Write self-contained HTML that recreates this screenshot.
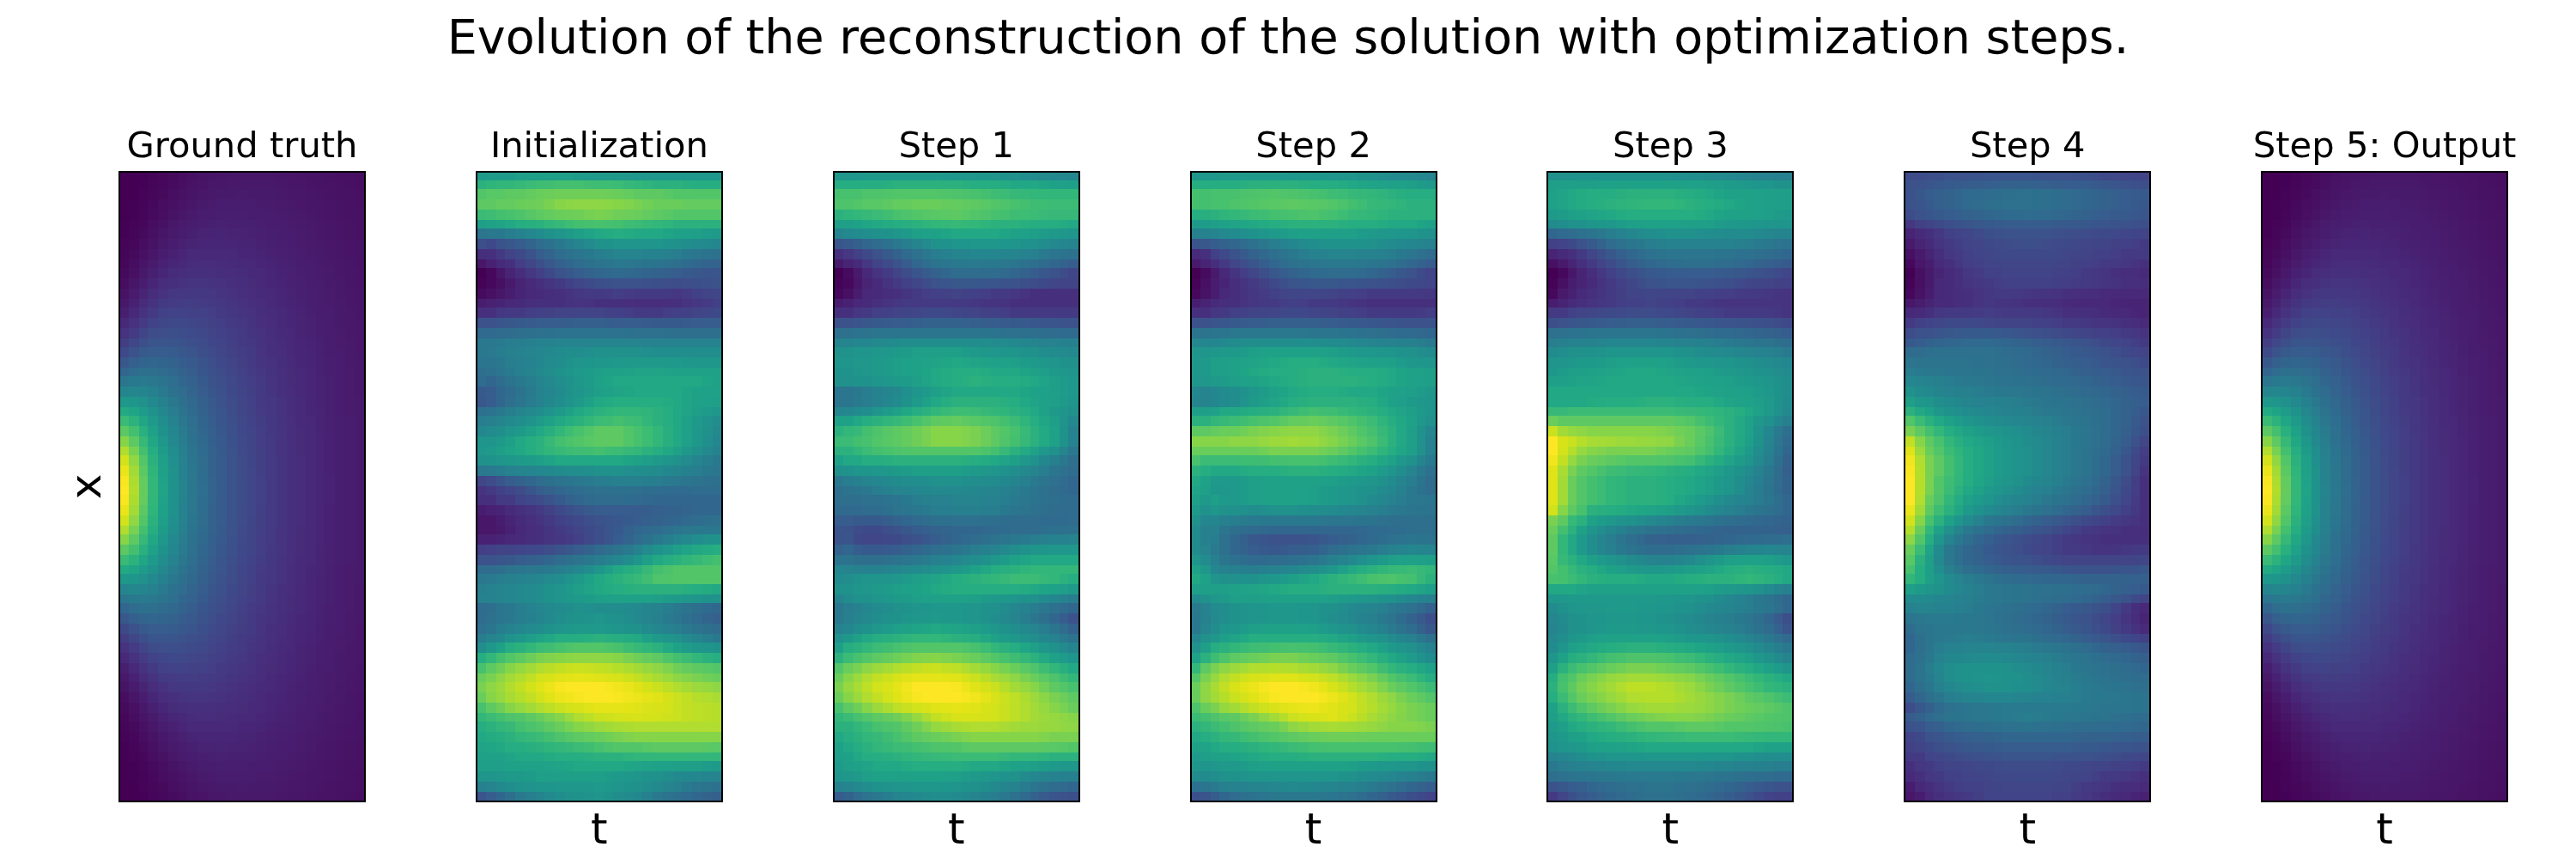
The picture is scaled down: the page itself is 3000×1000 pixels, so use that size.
<!DOCTYPE html>
<html><head><meta charset="utf-8"><title>Evolution of the reconstruction</title>
<style>
html,body{margin:0;padding:0;background:#fff}
body{width:3000px;height:1000px;position:relative;overflow:hidden}
.p{position:absolute}
.p i{position:absolute;left:0;right:0;display:block}
.b{position:absolute;border:2px solid #000;box-sizing:border-box}
svg{position:absolute;left:0;top:0;will-change:transform}
text{font-family:"DejaVu Sans","Liberation Sans",sans-serif;fill:#000}
</style></head><body>

<div class="p" style="left:138px;top:199px;width:288px;height:734px">
<i style="top:0px;height:11px;background:linear-gradient(90deg,#440154 0 24px,#440256 0 34px,#450457 0 46px,#46075a 0 58px,#460a5d 0 70px,#470d60 0 80px,#471063 0 92px,#471365 0 104px,#481467 0 114px,#481668 0 126px,#481769 0 184px,#481668 0 206px,#481467 0 218px,#471365 0 240px,#471164 0 252px,#471063 0 276px,#470e61 0 288px)"></i>
<i style="top:11px;height:10px;background:linear-gradient(90deg,#440154 0 24px,#440256 0 34px,#450559 0 46px,#46085c 0 58px,#460b5e 0 70px,#470e61 0 80px,#471365 0 92px,#481467 0 104px,#481769 0 126px,#48186a 0 184px,#481769 0 196px,#481668 0 218px,#481467 0 230px,#471365 0 252px,#471164 0 264px,#471063 0 276px,#470e61 0 288px)"></i>
<i style="top:21px;height:12px;background:linear-gradient(90deg,#440154 0 24px,#450457 0 34px,#46075a 0 46px,#460a5d 0 58px,#470e61 0 70px,#471164 0 80px,#481467 0 92px,#481769 0 104px,#48186a 0 114px,#481a6c 0 138px,#481b6d 0 150px,#481a6c 0 184px,#48186a 0 196px,#481769 0 218px,#481668 0 230px,#481467 0 240px,#471365 0 252px,#471164 0 276px,#471063 0 288px)"></i>
<i style="top:33px;height:12px;background:linear-gradient(90deg,#440154 0 12px,#440256 0 24px,#450457 0 34px,#46085c 0 46px,#470d60 0 58px,#471063 0 70px,#481467 0 80px,#481769 0 92px,#481a6c 0 104px,#481b6d 0 114px,#481c6e 0 160px,#481b6d 0 184px,#481a6c 0 196px,#48186a 0 206px,#481769 0 218px,#481668 0 240px,#481467 0 252px,#471365 0 264px,#471164 0 276px,#471063 0 288px)"></i>
<i style="top:45px;height:12px;background:linear-gradient(90deg,#440154 0 12px,#440256 0 24px,#450559 0 34px,#460a5d 0 46px,#470e61 0 58px,#471365 0 70px,#481769 0 80px,#481a6c 0 92px,#481c6e 0 104px,#481d6f 0 114px,#481f70 0 150px,#481d6f 0 172px,#481c6e 0 184px,#481b6d 0 196px,#481a6c 0 206px,#48186a 0 218px,#481769 0 230px,#481668 0 240px,#481467 0 252px,#471365 0 264px,#471164 0 288px)"></i>
<i style="top:57px;height:10px;background:linear-gradient(90deg,#440256 0 12px,#450457 0 24px,#46075a 0 34px,#470d60 0 46px,#471164 0 58px,#481769 0 70px,#481b6d 0 80px,#481d6f 0 92px,#481f70 0 104px,#482071 0 114px,#482173 0 126px,#482071 0 160px,#481f70 0 172px,#481d6f 0 184px,#481c6e 0 196px,#481b6d 0 206px,#481a6c 0 218px,#48186a 0 230px,#481769 0 240px,#481668 0 252px,#481467 0 264px,#471365 0 276px,#471164 0 288px)"></i>
<i style="top:67px;height:12px;background:linear-gradient(90deg,#440256 0 12px,#450559 0 24px,#460a5d 0 34px,#471063 0 46px,#481668 0 58px,#481a6c 0 70px,#481d6f 0 80px,#482071 0 92px,#482374 0 114px,#482475 0 126px,#482374 0 150px,#482173 0 160px,#482071 0 172px,#481f70 0 184px,#481d6f 0 196px,#481c6e 0 206px,#481b6d 0 218px,#481a6c 0 230px,#481769 0 240px,#481668 0 252px,#481467 0 264px,#471365 0 276px,#471164 0 288px)"></i>
<i style="top:79px;height:12px;background:linear-gradient(90deg,#450457 0 12px,#46075a 0 24px,#470d60 0 34px,#471365 0 46px,#48186a 0 58px,#481d6f 0 70px,#482173 0 80px,#482475 0 92px,#482576 0 104px,#482677 0 126px,#482576 0 138px,#482475 0 160px,#482173 0 172px,#482071 0 184px,#481f70 0 196px,#481d6f 0 206px,#481b6d 0 218px,#481a6c 0 230px,#48186a 0 240px,#481769 0 252px,#481668 0 264px,#481467 0 276px,#471365 0 288px)"></i>
<i style="top:91px;height:12px;background:linear-gradient(90deg,#450559 0 12px,#460a5d 0 24px,#471063 0 34px,#481769 0 46px,#481d6f 0 58px,#482173 0 70px,#482576 0 80px,#482878 0 92px,#482979 0 126px,#482878 0 138px,#482677 0 150px,#482576 0 160px,#482475 0 172px,#482173 0 184px,#482071 0 196px,#481f70 0 206px,#481c6e 0 218px,#481b6d 0 230px,#481a6c 0 240px,#481769 0 252px,#481668 0 264px,#481467 0 276px,#471365 0 288px)"></i>
<i style="top:103px;height:10px;background:linear-gradient(90deg,#46075a 0 12px,#470d60 0 24px,#481467 0 34px,#481b6d 0 46px,#482173 0 58px,#482677 0 70px,#482979 0 80px,#472c7a 0 92px,#472d7b 0 114px,#472c7a 0 126px,#472a7a 0 138px,#482979 0 150px,#482878 0 160px,#482576 0 172px,#482475 0 184px,#482173 0 196px,#482071 0 206px,#481d6f 0 218px,#481c6e 0 230px,#481a6c 0 240px,#48186a 0 252px,#481769 0 264px,#481668 0 276px,#471365 0 288px)"></i>
<i style="top:113px;height:12px;background:linear-gradient(90deg,#460a5d 0 12px,#471063 0 24px,#48186a 0 34px,#482071 0 46px,#482677 0 58px,#472c7a 0 70px,#472e7c 0 80px,#472f7d 0 92px,#46307e 0 104px,#472f7d 0 114px,#472e7c 0 126px,#472d7b 0 138px,#472c7a 0 150px,#482979 0 160px,#482878 0 172px,#482576 0 184px,#482374 0 196px,#482173 0 206px,#481f70 0 218px,#481c6e 0 230px,#481b6d 0 240px,#481a6c 0 252px,#481769 0 264px,#481668 0 276px,#481467 0 288px)"></i>
<i style="top:125px;height:12px;background:linear-gradient(90deg,#470d60 0 12px,#481668 0 24px,#481d6f 0 34px,#482677 0 46px,#472d7b 0 58px,#46307e 0 70px,#46337f 0 80px,#463480 0 104px,#46337f 0 114px,#46327e 0 126px,#472f7d 0 138px,#472e7c 0 150px,#472c7a 0 160px,#482979 0 172px,#482677 0 184px,#482475 0 196px,#482173 0 206px,#482071 0 218px,#481d6f 0 230px,#481c6e 0 240px,#481a6c 0 252px,#48186a 0 264px,#481668 0 276px,#481467 0 288px)"></i>
<i style="top:137px;height:12px;background:linear-gradient(90deg,#471365 0 12px,#481b6d 0 24px,#482475 0 34px,#472d7b 0 46px,#46327e 0 58px,#453781 0 70px,#453882 0 104px,#453781 0 114px,#463480 0 126px,#46327e 0 138px,#472f7d 0 150px,#472d7b 0 160px,#472a7a 0 172px,#482878 0 184px,#482576 0 196px,#482374 0 206px,#482071 0 218px,#481f70 0 230px,#481c6e 0 240px,#481b6d 0 252px,#48186a 0 264px,#481769 0 276px,#481668 0 288px)"></i>
<i style="top:149px;height:10px;background:linear-gradient(90deg,#48186a 0 12px,#482173 0 24px,#472c7a 0 34px,#46337f 0 46px,#443983 0 58px,#443b84 0 70px,#433d84 0 92px,#443b84 0 104px,#443a83 0 114px,#453882 0 126px,#453581 0 138px,#46327e 0 150px,#472f7d 0 160px,#472d7b 0 172px,#482979 0 184px,#482677 0 196px,#482475 0 206px,#482173 0 218px,#481f70 0 230px,#481d6f 0 240px,#481b6d 0 252px,#481a6c 0 264px,#481769 0 276px,#481668 0 288px)"></i>
<i style="top:159px;height:12px;background:linear-gradient(90deg,#481f70 0 12px,#482979 0 24px,#46337f 0 34px,#443a83 0 46px,#424086 0 58px,#414287 0 80px,#424186 0 92px,#424086 0 104px,#433e85 0 114px,#443a83 0 126px,#453882 0 138px,#463480 0 150px,#46327e 0 160px,#472e7c 0 172px,#472c7a 0 184px,#482878 0 196px,#482576 0 206px,#482374 0 218px,#482071 0 230px,#481d6f 0 240px,#481c6e 0 252px,#481a6c 0 264px,#48186a 0 276px,#481668 0 288px)"></i>
<i style="top:171px;height:12px;background:linear-gradient(90deg,#482878 0 12px,#46327e 0 24px,#443b84 0 34px,#414287 0 46px,#3f4788 0 58px,#3f4889 0 80px,#404688 0 92px,#414487 0 104px,#424186 0 114px,#433e85 0 126px,#443a83 0 138px,#453781 0 150px,#46337f 0 160px,#472f7d 0 172px,#472d7b 0 184px,#482979 0 196px,#482677 0 206px,#482475 0 218px,#482173 0 230px,#481f70 0 240px,#481c6e 0 252px,#481a6c 0 264px,#48186a 0 276px,#481769 0 288px)"></i>
<i style="top:183px;height:12px;background:linear-gradient(90deg,#46327e 0 12px,#443b84 0 24px,#404588 0 34px,#3e4c8a 0 46px,#3d4e8a 0 58px,#3c4f8a 0 70px,#3d4d8a 0 80px,#3e4a89 0 92px,#3f4889 0 104px,#414487 0 114px,#424086 0 126px,#433d84 0 138px,#443983 0 150px,#453581 0 160px,#46327e 0 172px,#472e7c 0 184px,#472a7a 0 196px,#482878 0 206px,#482475 0 218px,#482173 0 230px,#481f70 0 240px,#481d6f 0 252px,#481b6d 0 264px,#48186a 0 276px,#481769 0 288px)"></i>
<i style="top:195px;height:10px;background:linear-gradient(90deg,#433d84 0 12px,#3f4788 0 24px,#3c4f8a 0 34px,#3a548c 0 46px,#39558c 0 70px,#3b528b 0 80px,#3c4f8a 0 92px,#3e4c8a 0 104px,#3f4788 0 114px,#414487 0 126px,#423f85 0 138px,#443a83 0 150px,#453781 0 160px,#46337f 0 172px,#472f7d 0 184px,#472c7a 0 196px,#482979 0 206px,#482576 0 218px,#482374 0 230px,#482071 0 240px,#481d6f 0 252px,#481b6d 0 264px,#481a6c 0 276px,#481769 0 288px)"></i>
<i style="top:205px;height:12px;background:linear-gradient(90deg,#3e4989 0 12px,#3b528b 0 24px,#375a8c 0 34px,#365d8d 0 58px,#365c8d 0 70px,#38588c 0 80px,#3a548c 0 92px,#3c4f8a 0 104px,#3e4a89 0 114px,#404688 0 126px,#424186 0 138px,#433d84 0 150px,#443983 0 160px,#463480 0 172px,#46307e 0 184px,#472d7b 0 196px,#482979 0 206px,#482677 0 218px,#482475 0 230px,#482071 0 240px,#481d6f 0 252px,#481c6e 0 264px,#481a6c 0 276px,#481769 0 288px)"></i>
<i style="top:217px;height:12px;background:linear-gradient(90deg,#38588c 0 12px,#355f8d 0 24px,#32658e 0 34px,#31668e 0 46px,#32658e 0 58px,#33628d 0 70px,#365d8d 0 80px,#38598c 0 92px,#3a538b 0 104px,#3d4e8a 0 114px,#3f4889 0 126px,#414487 0 138px,#423f85 0 150px,#443a83 0 160px,#453581 0 172px,#46327e 0 184px,#472e7c 0 196px,#472a7a 0 206px,#482677 0 218px,#482475 0 230px,#482173 0 240px,#481f70 0 252px,#481c6e 0 264px,#481a6c 0 276px,#48186a 0 288px)"></i>
<i style="top:229px;height:10px;background:linear-gradient(90deg,#31668e 0 12px,#2f6c8e 0 24px,#2d708e 0 34px,#2e6f8e 0 46px,#2f6c8e 0 58px,#31688e 0 70px,#33628d 0 80px,#365d8d 0 92px,#39568c 0 104px,#3b518b 0 114px,#3e4c8a 0 126px,#404688 0 138px,#424086 0 150px,#443b84 0 160px,#453781 0 172px,#46337f 0 184px,#472f7d 0 196px,#472c7a 0 206px,#482878 0 218px,#482576 0 230px,#482173 0 240px,#481f70 0 252px,#481c6e 0 264px,#481b6d 0 276px,#48186a 0 288px)"></i>
<i style="top:239px;height:12px;background:linear-gradient(90deg,#2b758e 0 12px,#29798e 0 24px,#297a8e 0 34px,#2a788e 0 46px,#2c738e 0 58px,#2e6e8e 0 70px,#31678e 0 80px,#34618d 0 92px,#375a8c 0 104px,#3a538b 0 114px,#3d4e8a 0 126px,#3f4889 0 138px,#414287 0 150px,#433e85 0 160px,#443983 0 172px,#463480 0 184px,#46307e 0 196px,#472c7a 0 206px,#482979 0 218px,#482576 0 230px,#482374 0 240px,#482071 0 252px,#481d6f 0 264px,#481b6d 0 276px,#48186a 0 288px)"></i>
<i style="top:251px;height:12px;background:linear-gradient(90deg,#25858e 0 12px,#24878e 0 24px,#25858e 0 34px,#26818e 0 46px,#297a8e 0 58px,#2c728e 0 70px,#2f6c8e 0 80px,#32648e 0 92px,#365d8d 0 104px,#39568c 0 114px,#3c508b 0 126px,#3e4989 0 138px,#414487 0 150px,#423f85 0 160px,#443a83 0 172px,#453581 0 184px,#46307e 0 196px,#472d7b 0 206px,#482979 0 218px,#482576 0 230px,#482374 0 240px,#482071 0 252px,#481d6f 0 264px,#481b6d 0 276px,#48186a 0 288px)"></i>
<i style="top:263px;height:12px;background:linear-gradient(90deg,#1f978b 0 12px,#1f968b 0 24px,#21918c 0 34px,#23898e 0 46px,#26818e 0 58px,#2a788e 0 70px,#2d708e 0 80px,#31688e 0 92px,#34608d 0 104px,#38598c 0 114px,#3b528b 0 126px,#3e4c8a 0 138px,#404688 0 150px,#424086 0 160px,#443a83 0 172px,#453781 0 184px,#46327e 0 196px,#472e7c 0 206px,#472a7a 0 218px,#482677 0 230px,#482374 0 240px,#482071 0 252px,#481d6f 0 264px,#481b6d 0 276px,#481a6c 0 288px)"></i>
<i style="top:275px;height:10px;background:linear-gradient(90deg,#23a983 0 12px,#20a486 0 24px,#1e9c89 0 34px,#20928c 0 46px,#24878e 0 58px,#287d8e 0 70px,#2c738e 0 80px,#2f6b8e 0 92px,#33638d 0 104px,#375b8d 0 114px,#3a548c 0 126px,#3d4d8a 0 138px,#3f4788 0 150px,#424186 0 160px,#443b84 0 172px,#453781 0 184px,#46327e 0 196px,#472e7c 0 206px,#472a7a 0 218px,#482677 0 230px,#482475 0 240px,#482071 0 252px,#481d6f 0 264px,#481b6d 0 276px,#481a6c 0 288px)"></i>
<i style="top:285px;height:12px;background:linear-gradient(90deg,#3aba76 0 12px,#2db27d 0 24px,#21a685 0 34px,#1f9a8a 0 46px,#228d8d 0 58px,#26828e 0 70px,#2a778e 0 80px,#2e6e8e 0 92px,#32658e 0 104px,#365d8d 0 114px,#39558c 0 126px,#3c4f8a 0 138px,#3f4889 0 150px,#414287 0 160px,#433d84 0 172px,#453882 0 184px,#46337f 0 196px,#472f7d 0 206px,#472a7a 0 218px,#482878 0 230px,#482475 0 240px,#482173 0 252px,#481f70 0 264px,#481c6e 0 276px,#481a6c 0 288px)"></i>
<i style="top:297px;height:12px;background:linear-gradient(90deg,#5cc863 0 12px,#44bf70 0 24px,#2ab07f 0 34px,#1fa188 0 46px,#20928c 0 58px,#24868e 0 70px,#297b8e 0 80px,#2d718e 0 92px,#31678e 0 104px,#355f8d 0 114px,#38588c 0 126px,#3c508b 0 138px,#3e4989 0 150px,#414487 0 160px,#433e85 0 172px,#453882 0 184px,#463480 0 196px,#472f7d 0 206px,#472c7a 0 218px,#482878 0 230px,#482475 0 240px,#482173 0 252px,#481f70 0 264px,#481c6e 0 276px,#481a6c 0 288px)"></i>
<i style="top:309px;height:12px;background:linear-gradient(90deg,#86d549 0 12px,#5ec962 0 24px,#37b878 0 34px,#22a785 0 46px,#1f978b 0 58px,#23898e 0 70px,#287d8e 0 80px,#2c728e 0 92px,#30698e 0 104px,#34608d 0 114px,#38598c 0 126px,#3b518b 0 138px,#3e4a89 0 150px,#414487 0 160px,#433e85 0 172px,#443983 0 184px,#463480 0 196px,#472f7d 0 206px,#472c7a 0 218px,#482878 0 230px,#482576 0 240px,#482173 0 252px,#481f70 0 264px,#481c6e 0 276px,#481a6c 0 288px)"></i>
<i style="top:321px;height:10px;background:linear-gradient(90deg,#b0dd2f 0 12px,#77d153 0 24px,#44bf70 0 34px,#26ad81 0 46px,#1e9c89 0 58px,#228d8d 0 70px,#27808e 0 80px,#2b748e 0 92px,#2f6b8e 0 104px,#33628d 0 114px,#375a8c 0 126px,#3b528b 0 138px,#3e4a89 0 150px,#404588 0 160px,#423f85 0 172px,#443983 0 184px,#463480 0 196px,#46307e 0 206px,#472c7a 0 218px,#482878 0 230px,#482576 0 240px,#482173 0 252px,#481f70 0 264px,#481c6e 0 276px,#481a6c 0 288px)"></i>
<i style="top:331px;height:12px;background:linear-gradient(90deg,#d2e21b 0 12px,#90d743 0 24px,#52c569 0 34px,#2cb17e 0 46px,#1f9f88 0 58px,#218f8d 0 70px,#26828e 0 80px,#2a768e 0 92px,#2f6c8e 0 104px,#33638d 0 114px,#375b8d 0 126px,#3b528b 0 138px,#3e4c8a 0 150px,#404588 0 160px,#423f85 0 172px,#443a83 0 184px,#453581 0 196px,#46307e 0 206px,#472d7b 0 218px,#482979 0 230px,#482576 0 240px,#482173 0 252px,#481f70 0 264px,#481c6e 0 276px,#481a6c 0 288px)"></i>
<i style="top:343px;height:12px;background:linear-gradient(90deg,#eae51a 0 12px,#a2da37 0 24px,#5cc863 0 34px,#2fb47c 0 46px,#1fa187 0 58px,#21918c 0 70px,#26828e 0 80px,#2a778e 0 92px,#2e6d8e 0 104px,#33638d 0 114px,#375b8d 0 126px,#3a538b 0 138px,#3e4c8a 0 150px,#404688 0 160px,#423f85 0 172px,#443a83 0 184px,#453581 0 196px,#46307e 0 206px,#472d7b 0 218px,#482979 0 230px,#482576 0 240px,#482173 0 252px,#481f70 0 264px,#481c6e 0 276px,#481a6c 0 288px)"></i>
<i style="top:355px;height:12px;background:linear-gradient(90deg,#f8e621 0 12px,#addc30 0 24px,#63cb5f 0 34px,#32b67a 0 46px,#1fa287 0 58px,#20928c 0 70px,#25838e 0 80px,#2a778e 0 92px,#2e6d8e 0 104px,#32648e 0 114px,#375b8d 0 126px,#3a538b 0 138px,#3d4d8a 0 150px,#404688 0 160px,#424086 0 172px,#443a83 0 184px,#453581 0 196px,#46307e 0 206px,#472d7b 0 218px,#482979 0 230px,#482576 0 240px,#482374 0 252px,#481f70 0 264px,#481c6e 0 276px,#481a6c 0 288px)"></i>
<i style="top:367px;height:10px;background:linear-gradient(90deg,#fde725 0 12px,#b2dd2d 0 24px,#65cb5e 0 34px,#34b679 0 46px,#20a386 0 58px,#20928c 0 70px,#25848e 0 80px,#2a788e 0 92px,#2e6e8e 0 104px,#32648e 0 114px,#365c8d 0 126px,#3a538b 0 138px,#3d4d8a 0 150px,#404688 0 160px,#424086 0 172px,#443a83 0 184px,#453581 0 196px,#46307e 0 206px,#472d7b 0 218px,#482979 0 230px,#482576 0 240px,#482374 0 252px,#481f70 0 264px,#481c6e 0 276px,#481a6c 0 288px)"></i>
<i style="top:377px;height:12px;background:linear-gradient(90deg,#f8e621 0 12px,#addc30 0 24px,#63cb5f 0 34px,#32b67a 0 46px,#1fa287 0 58px,#20928c 0 70px,#25838e 0 80px,#2a778e 0 92px,#2e6d8e 0 104px,#32648e 0 114px,#375b8d 0 126px,#3a538b 0 138px,#3d4d8a 0 150px,#404688 0 160px,#424086 0 172px,#443a83 0 184px,#453581 0 196px,#46307e 0 206px,#472d7b 0 218px,#482979 0 230px,#482576 0 240px,#482374 0 252px,#481f70 0 264px,#481c6e 0 276px,#481a6c 0 288px)"></i>
<i style="top:389px;height:12px;background:linear-gradient(90deg,#eae51a 0 12px,#a2da37 0 24px,#5cc863 0 34px,#2fb47c 0 46px,#1fa187 0 58px,#21918c 0 70px,#26828e 0 80px,#2a778e 0 92px,#2e6d8e 0 104px,#33638d 0 114px,#375b8d 0 126px,#3a538b 0 138px,#3e4c8a 0 150px,#404688 0 160px,#423f85 0 172px,#443a83 0 184px,#453581 0 196px,#46307e 0 206px,#472d7b 0 218px,#482979 0 230px,#482576 0 240px,#482173 0 252px,#481f70 0 264px,#481c6e 0 276px,#481a6c 0 288px)"></i>
<i style="top:401px;height:12px;background:linear-gradient(90deg,#d2e21b 0 12px,#90d743 0 24px,#52c569 0 34px,#2cb17e 0 46px,#1f9f88 0 58px,#218f8d 0 70px,#26828e 0 80px,#2a768e 0 92px,#2f6c8e 0 104px,#33638d 0 114px,#375b8d 0 126px,#3b528b 0 138px,#3e4c8a 0 150px,#404588 0 160px,#423f85 0 172px,#443a83 0 184px,#453581 0 196px,#46307e 0 206px,#472d7b 0 218px,#482979 0 230px,#482576 0 240px,#482173 0 252px,#481f70 0 264px,#481c6e 0 276px,#481a6c 0 288px)"></i>
<i style="top:413px;height:10px;background:linear-gradient(90deg,#b0dd2f 0 12px,#77d153 0 24px,#44bf70 0 34px,#26ad81 0 46px,#1e9c89 0 58px,#228d8d 0 70px,#27808e 0 80px,#2b748e 0 92px,#2f6b8e 0 104px,#33628d 0 114px,#375a8c 0 126px,#3b528b 0 138px,#3e4a89 0 150px,#404588 0 160px,#423f85 0 172px,#443983 0 184px,#463480 0 196px,#46307e 0 206px,#472c7a 0 218px,#482878 0 230px,#482576 0 240px,#482173 0 252px,#481f70 0 264px,#481c6e 0 276px,#481a6c 0 288px)"></i>
<i style="top:423px;height:12px;background:linear-gradient(90deg,#86d549 0 12px,#5ec962 0 24px,#37b878 0 34px,#22a785 0 46px,#1f978b 0 58px,#23898e 0 70px,#287d8e 0 80px,#2c728e 0 92px,#30698e 0 104px,#34608d 0 114px,#38598c 0 126px,#3b518b 0 138px,#3e4a89 0 150px,#414487 0 160px,#433e85 0 172px,#443983 0 184px,#463480 0 196px,#472f7d 0 206px,#472c7a 0 218px,#482878 0 230px,#482576 0 240px,#482173 0 252px,#481f70 0 264px,#481c6e 0 276px,#481a6c 0 288px)"></i>
<i style="top:435px;height:12px;background:linear-gradient(90deg,#5cc863 0 12px,#44bf70 0 24px,#2ab07f 0 34px,#1fa188 0 46px,#20928c 0 58px,#24868e 0 70px,#297b8e 0 80px,#2d718e 0 92px,#31678e 0 104px,#355f8d 0 114px,#38588c 0 126px,#3c508b 0 138px,#3e4989 0 150px,#414487 0 160px,#433e85 0 172px,#453882 0 184px,#463480 0 196px,#472f7d 0 206px,#472c7a 0 218px,#482878 0 230px,#482475 0 240px,#482173 0 252px,#481f70 0 264px,#481c6e 0 276px,#481a6c 0 288px)"></i>
<i style="top:447px;height:12px;background:linear-gradient(90deg,#3aba76 0 12px,#2db27d 0 24px,#21a685 0 34px,#1f9a8a 0 46px,#228d8d 0 58px,#26828e 0 70px,#2a778e 0 80px,#2e6e8e 0 92px,#32658e 0 104px,#365d8d 0 114px,#39558c 0 126px,#3c4f8a 0 138px,#3f4889 0 150px,#414287 0 160px,#433d84 0 172px,#453882 0 184px,#46337f 0 196px,#472f7d 0 206px,#472a7a 0 218px,#482878 0 230px,#482475 0 240px,#482173 0 252px,#481f70 0 264px,#481c6e 0 276px,#481a6c 0 288px)"></i>
<i style="top:459px;height:10px;background:linear-gradient(90deg,#23a983 0 12px,#20a486 0 24px,#1e9c89 0 34px,#20928c 0 46px,#24878e 0 58px,#287d8e 0 70px,#2c738e 0 80px,#2f6b8e 0 92px,#33638d 0 104px,#375b8d 0 114px,#3a548c 0 126px,#3d4d8a 0 138px,#3f4788 0 150px,#424186 0 160px,#443b84 0 172px,#453781 0 184px,#46327e 0 196px,#472e7c 0 206px,#472a7a 0 218px,#482677 0 230px,#482475 0 240px,#482071 0 252px,#481d6f 0 264px,#481b6d 0 276px,#481a6c 0 288px)"></i>
<i style="top:469px;height:12px;background:linear-gradient(90deg,#1f978b 0 12px,#1f968b 0 24px,#21918c 0 34px,#23898e 0 46px,#26818e 0 58px,#2a788e 0 70px,#2d708e 0 80px,#31688e 0 92px,#34608d 0 104px,#38598c 0 114px,#3b528b 0 126px,#3e4c8a 0 138px,#404688 0 150px,#424086 0 160px,#443a83 0 172px,#453781 0 184px,#46327e 0 196px,#472e7c 0 206px,#472a7a 0 218px,#482677 0 230px,#482374 0 240px,#482071 0 252px,#481d6f 0 264px,#481b6d 0 276px,#481a6c 0 288px)"></i>
<i style="top:481px;height:12px;background:linear-gradient(90deg,#25858e 0 12px,#24878e 0 24px,#25858e 0 34px,#26818e 0 46px,#297a8e 0 58px,#2c728e 0 70px,#2f6c8e 0 80px,#32648e 0 92px,#365d8d 0 104px,#39568c 0 114px,#3c508b 0 126px,#3e4989 0 138px,#414487 0 150px,#423f85 0 160px,#443a83 0 172px,#453581 0 184px,#46307e 0 196px,#472d7b 0 206px,#482979 0 218px,#482576 0 230px,#482374 0 240px,#482071 0 252px,#481d6f 0 264px,#481b6d 0 276px,#48186a 0 288px)"></i>
<i style="top:493px;height:10px;background:linear-gradient(90deg,#2b758e 0 12px,#29798e 0 24px,#297a8e 0 34px,#2a788e 0 46px,#2c738e 0 58px,#2e6e8e 0 70px,#31678e 0 80px,#34618d 0 92px,#375a8c 0 104px,#3a538b 0 114px,#3d4e8a 0 126px,#3f4889 0 138px,#414287 0 150px,#433e85 0 160px,#443983 0 172px,#463480 0 184px,#46307e 0 196px,#472c7a 0 206px,#482979 0 218px,#482576 0 230px,#482374 0 240px,#482071 0 252px,#481d6f 0 264px,#481b6d 0 276px,#48186a 0 288px)"></i>
<i style="top:503px;height:12px;background:linear-gradient(90deg,#31668e 0 12px,#2f6c8e 0 24px,#2d708e 0 34px,#2e6f8e 0 46px,#2f6c8e 0 58px,#31688e 0 70px,#33628d 0 80px,#365d8d 0 92px,#39568c 0 104px,#3b518b 0 114px,#3e4c8a 0 126px,#404688 0 138px,#424086 0 150px,#443b84 0 160px,#453781 0 172px,#46337f 0 184px,#472f7d 0 196px,#472c7a 0 206px,#482878 0 218px,#482576 0 230px,#482173 0 240px,#481f70 0 252px,#481c6e 0 264px,#481b6d 0 276px,#48186a 0 288px)"></i>
<i style="top:515px;height:12px;background:linear-gradient(90deg,#38588c 0 12px,#355f8d 0 24px,#32658e 0 34px,#31668e 0 46px,#32658e 0 58px,#33628d 0 70px,#365d8d 0 80px,#38598c 0 92px,#3a538b 0 104px,#3d4e8a 0 114px,#3f4889 0 126px,#414487 0 138px,#423f85 0 150px,#443a83 0 160px,#453581 0 172px,#46327e 0 184px,#472e7c 0 196px,#472a7a 0 206px,#482677 0 218px,#482475 0 230px,#482173 0 240px,#481f70 0 252px,#481c6e 0 264px,#481a6c 0 276px,#48186a 0 288px)"></i>
<i style="top:527px;height:12px;background:linear-gradient(90deg,#3e4989 0 12px,#3b528b 0 24px,#375a8c 0 34px,#365d8d 0 58px,#365c8d 0 70px,#38588c 0 80px,#3a548c 0 92px,#3c4f8a 0 104px,#3e4a89 0 114px,#404688 0 126px,#424186 0 138px,#433d84 0 150px,#443983 0 160px,#463480 0 172px,#46307e 0 184px,#472d7b 0 196px,#482979 0 206px,#482677 0 218px,#482475 0 230px,#482071 0 240px,#481d6f 0 252px,#481c6e 0 264px,#481a6c 0 276px,#481769 0 288px)"></i>
<i style="top:539px;height:10px;background:linear-gradient(90deg,#433d84 0 12px,#3f4788 0 24px,#3c4f8a 0 34px,#3a548c 0 46px,#39558c 0 70px,#3b528b 0 80px,#3c4f8a 0 92px,#3e4c8a 0 104px,#3f4788 0 114px,#414487 0 126px,#423f85 0 138px,#443a83 0 150px,#453781 0 160px,#46337f 0 172px,#472f7d 0 184px,#472c7a 0 196px,#482979 0 206px,#482576 0 218px,#482374 0 230px,#482071 0 240px,#481d6f 0 252px,#481b6d 0 264px,#481a6c 0 276px,#481769 0 288px)"></i>
<i style="top:549px;height:12px;background:linear-gradient(90deg,#46327e 0 12px,#443b84 0 24px,#404588 0 34px,#3e4c8a 0 46px,#3d4e8a 0 58px,#3c4f8a 0 70px,#3d4d8a 0 80px,#3e4a89 0 92px,#3f4889 0 104px,#414487 0 114px,#424086 0 126px,#433d84 0 138px,#443983 0 150px,#453581 0 160px,#46327e 0 172px,#472e7c 0 184px,#472a7a 0 196px,#482878 0 206px,#482475 0 218px,#482173 0 230px,#481f70 0 240px,#481d6f 0 252px,#481b6d 0 264px,#48186a 0 276px,#481769 0 288px)"></i>
<i style="top:561px;height:12px;background:linear-gradient(90deg,#482878 0 12px,#46327e 0 24px,#443b84 0 34px,#414287 0 46px,#3f4788 0 58px,#3f4889 0 80px,#404688 0 92px,#414487 0 104px,#424186 0 114px,#433e85 0 126px,#443a83 0 138px,#453781 0 150px,#46337f 0 160px,#472f7d 0 172px,#472d7b 0 184px,#482979 0 196px,#482677 0 206px,#482475 0 218px,#482173 0 230px,#481f70 0 240px,#481c6e 0 252px,#481a6c 0 264px,#48186a 0 276px,#481769 0 288px)"></i>
<i style="top:573px;height:12px;background:linear-gradient(90deg,#481f70 0 12px,#482979 0 24px,#46337f 0 34px,#443a83 0 46px,#424086 0 58px,#414287 0 80px,#424186 0 92px,#424086 0 104px,#433e85 0 114px,#443a83 0 126px,#453882 0 138px,#463480 0 150px,#46327e 0 160px,#472e7c 0 172px,#472c7a 0 184px,#482878 0 196px,#482576 0 206px,#482374 0 218px,#482071 0 230px,#481d6f 0 240px,#481c6e 0 252px,#481a6c 0 264px,#48186a 0 276px,#481668 0 288px)"></i>
<i style="top:585px;height:10px;background:linear-gradient(90deg,#48186a 0 12px,#482173 0 24px,#472c7a 0 34px,#46337f 0 46px,#443983 0 58px,#443b84 0 70px,#433d84 0 92px,#443b84 0 104px,#443a83 0 114px,#453882 0 126px,#453581 0 138px,#46327e 0 150px,#472f7d 0 160px,#472d7b 0 172px,#482979 0 184px,#482677 0 196px,#482475 0 206px,#482173 0 218px,#481f70 0 230px,#481d6f 0 240px,#481b6d 0 252px,#481a6c 0 264px,#481769 0 276px,#481668 0 288px)"></i>
<i style="top:595px;height:12px;background:linear-gradient(90deg,#471365 0 12px,#481b6d 0 24px,#482475 0 34px,#472d7b 0 46px,#46327e 0 58px,#453781 0 70px,#453882 0 104px,#453781 0 114px,#463480 0 126px,#46327e 0 138px,#472f7d 0 150px,#472d7b 0 160px,#472a7a 0 172px,#482878 0 184px,#482576 0 196px,#482374 0 206px,#482071 0 218px,#481f70 0 230px,#481c6e 0 240px,#481b6d 0 252px,#48186a 0 264px,#481769 0 276px,#481668 0 288px)"></i>
<i style="top:607px;height:12px;background:linear-gradient(90deg,#470d60 0 12px,#481668 0 24px,#481d6f 0 34px,#482677 0 46px,#472d7b 0 58px,#46307e 0 70px,#46337f 0 80px,#463480 0 104px,#46337f 0 114px,#46327e 0 126px,#472f7d 0 138px,#472e7c 0 150px,#472c7a 0 160px,#482979 0 172px,#482677 0 184px,#482475 0 196px,#482173 0 206px,#482071 0 218px,#481d6f 0 230px,#481c6e 0 240px,#481a6c 0 252px,#48186a 0 264px,#481668 0 276px,#481467 0 288px)"></i>
<i style="top:619px;height:12px;background:linear-gradient(90deg,#460a5d 0 12px,#471063 0 24px,#48186a 0 34px,#482071 0 46px,#482677 0 58px,#472c7a 0 70px,#472e7c 0 80px,#472f7d 0 92px,#46307e 0 104px,#472f7d 0 114px,#472e7c 0 126px,#472d7b 0 138px,#472c7a 0 150px,#482979 0 160px,#482878 0 172px,#482576 0 184px,#482374 0 196px,#482173 0 206px,#481f70 0 218px,#481c6e 0 230px,#481b6d 0 240px,#481a6c 0 252px,#481769 0 264px,#481668 0 276px,#481467 0 288px)"></i>
<i style="top:631px;height:10px;background:linear-gradient(90deg,#46075a 0 12px,#470d60 0 24px,#481467 0 34px,#481b6d 0 46px,#482173 0 58px,#482677 0 70px,#482979 0 80px,#472c7a 0 92px,#472d7b 0 114px,#472c7a 0 126px,#472a7a 0 138px,#482979 0 150px,#482878 0 160px,#482576 0 172px,#482475 0 184px,#482173 0 196px,#482071 0 206px,#481d6f 0 218px,#481c6e 0 230px,#481a6c 0 240px,#48186a 0 252px,#481769 0 264px,#481668 0 276px,#471365 0 288px)"></i>
<i style="top:641px;height:12px;background:linear-gradient(90deg,#450559 0 12px,#460a5d 0 24px,#471063 0 34px,#481769 0 46px,#481d6f 0 58px,#482173 0 70px,#482576 0 80px,#482878 0 92px,#482979 0 126px,#482878 0 138px,#482677 0 150px,#482576 0 160px,#482475 0 172px,#482173 0 184px,#482071 0 196px,#481f70 0 206px,#481c6e 0 218px,#481b6d 0 230px,#481a6c 0 240px,#481769 0 252px,#481668 0 264px,#481467 0 276px,#471365 0 288px)"></i>
<i style="top:653px;height:12px;background:linear-gradient(90deg,#450457 0 12px,#46075a 0 24px,#470d60 0 34px,#471365 0 46px,#48186a 0 58px,#481d6f 0 70px,#482173 0 80px,#482475 0 92px,#482576 0 104px,#482677 0 126px,#482576 0 138px,#482475 0 160px,#482173 0 172px,#482071 0 184px,#481f70 0 196px,#481d6f 0 206px,#481b6d 0 218px,#481a6c 0 230px,#48186a 0 240px,#481769 0 252px,#481668 0 264px,#481467 0 276px,#471365 0 288px)"></i>
<i style="top:665px;height:12px;background:linear-gradient(90deg,#440256 0 12px,#450559 0 24px,#460a5d 0 34px,#471063 0 46px,#481668 0 58px,#481a6c 0 70px,#481d6f 0 80px,#482071 0 92px,#482374 0 114px,#482475 0 126px,#482374 0 150px,#482173 0 160px,#482071 0 172px,#481f70 0 184px,#481d6f 0 196px,#481c6e 0 206px,#481b6d 0 218px,#481a6c 0 230px,#481769 0 240px,#481668 0 252px,#481467 0 264px,#471365 0 276px,#471164 0 288px)"></i>
<i style="top:677px;height:10px;background:linear-gradient(90deg,#440256 0 12px,#450457 0 24px,#46075a 0 34px,#470d60 0 46px,#471164 0 58px,#481769 0 70px,#481b6d 0 80px,#481d6f 0 92px,#481f70 0 104px,#482071 0 114px,#482173 0 126px,#482071 0 160px,#481f70 0 172px,#481d6f 0 184px,#481c6e 0 196px,#481b6d 0 206px,#481a6c 0 218px,#48186a 0 230px,#481769 0 240px,#481668 0 252px,#481467 0 264px,#471365 0 276px,#471164 0 288px)"></i>
<i style="top:687px;height:12px;background:linear-gradient(90deg,#440154 0 12px,#440256 0 24px,#450559 0 34px,#460a5d 0 46px,#470e61 0 58px,#471365 0 70px,#481769 0 80px,#481a6c 0 92px,#481c6e 0 104px,#481d6f 0 114px,#481f70 0 150px,#481d6f 0 172px,#481c6e 0 184px,#481b6d 0 196px,#481a6c 0 206px,#48186a 0 218px,#481769 0 230px,#481668 0 240px,#481467 0 252px,#471365 0 264px,#471164 0 288px)"></i>
<i style="top:699px;height:12px;background:linear-gradient(90deg,#440154 0 12px,#440256 0 24px,#450457 0 34px,#46085c 0 46px,#470d60 0 58px,#471063 0 70px,#481467 0 80px,#481769 0 92px,#481a6c 0 104px,#481b6d 0 114px,#481c6e 0 160px,#481b6d 0 184px,#481a6c 0 196px,#48186a 0 206px,#481769 0 218px,#481668 0 240px,#481467 0 252px,#471365 0 264px,#471164 0 276px,#471063 0 288px)"></i>
<i style="top:711px;height:12px;background:linear-gradient(90deg,#440154 0 24px,#450457 0 34px,#46075a 0 46px,#460a5d 0 58px,#470e61 0 70px,#471164 0 80px,#481467 0 92px,#481769 0 104px,#48186a 0 114px,#481a6c 0 138px,#481b6d 0 150px,#481a6c 0 184px,#48186a 0 196px,#481769 0 218px,#481668 0 230px,#481467 0 240px,#471365 0 252px,#471164 0 276px,#471063 0 288px)"></i>
<i style="top:723px;height:11px;background:linear-gradient(90deg,#440154 0 24px,#440256 0 34px,#450559 0 46px,#46085c 0 58px,#460b5e 0 70px,#470e61 0 80px,#471365 0 92px,#481467 0 104px,#481769 0 126px,#48186a 0 184px,#481769 0 196px,#481668 0 218px,#481467 0 230px,#471365 0 252px,#471164 0 264px,#471063 0 276px,#470e61 0 288px)"></i>
</div>
<div class="p" style="left:554px;top:199px;width:288px;height:734px">
<i style="top:0px;height:11px;background:linear-gradient(90deg,#1f9a8a 0 12px,#1e9c89 0 46px,#1f9f88 0 104px,#1f9e89 0 114px,#1e9c89 0 126px,#1e9b8a 0 138px,#1f9a8a 0 172px,#1f988b 0 184px,#1f978b 0 288px)"></i>
<i style="top:11px;height:10px;background:linear-gradient(90deg,#2cb17e 0 12px,#2fb47c 0 24px,#32b67a 0 46px,#37b878 0 58px,#3bbb75 0 70px,#3fbc73 0 80px,#40bd72 0 92px,#44bf70 0 126px,#40bd72 0 138px,#3fbc73 0 150px,#3dbc74 0 160px,#3bbb75 0 172px,#37b878 0 184px,#32b67a 0 194px,#2fb47c 0 206px,#2cb17e 0 240px,#29af7f 0 252px,#26ad81 0 288px)"></i>
<i style="top:21px;height:12px;background:linear-gradient(90deg,#52c569 0 12px,#58c765 0 34px,#5ec962 0 58px,#63cb5f 0 70px,#69cd5b 0 80px,#6ccd5a 0 92px,#6ece58 0 150px,#6ccd5a 0 160px,#69cd5b 0 172px,#63cb5f 0 184px,#5ec962 0 218px,#58c765 0 230px,#52c569 0 288px)"></i>
<i style="top:33px;height:12px;background:linear-gradient(90deg,#5ec962 0 24px,#63cb5f 0 46px,#69cd5b 0 58px,#6ccd5a 0 70px,#6ece58 0 80px,#7ad151 0 92px,#86d549 0 104px,#8bd646 0 114px,#8ed645 0 150px,#8bd646 0 160px,#86d549 0 172px,#81d34d 0 184px,#7ad151 0 194px,#70cf57 0 206px,#69cd5b 0 240px,#65cb5e 0 252px,#63cb5f 0 288px)"></i>
<i style="top:45px;height:12px;background:linear-gradient(90deg,#3bbb75 0 12px,#3fbc73 0 24px,#44bf70 0 34px,#48c16e 0 46px,#4ec36b 0 58px,#56c667 0 70px,#5ec962 0 80px,#63cb5f 0 92px,#69cd5b 0 104px,#6ccd5a 0 114px,#6ece58 0 126px,#75d054 0 138px,#7ad151 0 150px,#75d054 0 160px,#6ece58 0 172px,#6ccd5a 0 184px,#69cd5b 0 194px,#63cb5f 0 206px,#5ec962 0 218px,#58c765 0 230px,#52c569 0 288px)"></i>
<i style="top:57px;height:10px;background:linear-gradient(90deg,#1f9f88 0 12px,#1fa188 0 24px,#20a386 0 34px,#22a884 0 46px,#26ad81 0 58px,#29af7f 0 70px,#2cb17e 0 80px,#31b57b 0 92px,#37b878 0 104px,#3dbc74 0 114px,#44bf70 0 126px,#46c06f 0 138px,#48c16e 0 150px,#46c06f 0 160px,#44bf70 0 172px,#3fbc73 0 184px,#3bbb75 0 194px,#37b878 0 206px,#32b67a 0 218px,#2fb47c 0 230px,#2cb17e 0 288px)"></i>
<i style="top:67px;height:12px;background:linear-gradient(90deg,#2b758e 0 12px,#2a788e 0 34px,#287d8e 0 46px,#26828e 0 58px,#24868e 0 70px,#228b8d 0 80px,#21918c 0 92px,#1f958b 0 104px,#1f9a8a 0 114px,#1f9f88 0 126px,#20a386 0 138px,#22a884 0 150px,#25ab82 0 160px,#26ad81 0 172px,#25ab82 0 184px,#22a884 0 218px,#20a486 0 230px,#1fa188 0 240px,#1fa088 0 252px,#1f9f88 0 264px,#1e9c89 0 276px,#1f9a8a 0 288px)"></i>
<i style="top:79px;height:12px;background:linear-gradient(90deg,#3c4f8a 0 12px,#3e4989 0 24px,#3b528b 0 34px,#38588c 0 46px,#365d8d 0 58px,#32648e 0 70px,#2f6c8e 0 80px,#2c728e 0 92px,#2a788e 0 104px,#277e8e 0 114px,#25848e 0 126px,#238a8d 0 138px,#21918c 0 150px,#20928c 0 160px,#1f958b 0 218px,#20928c 0 230px,#21918c 0 240px,#218e8d 0 252px,#228b8d 0 264px,#23898e 0 276px,#24868e 0 288px)"></i>
<i style="top:91px;height:12px;background:linear-gradient(90deg,#472e7c 0 12px,#46307e 0 24px,#443a83 0 34px,#414487 0 46px,#3e4989 0 58px,#3a538b 0 70px,#365d8d 0 80px,#32648e 0 92px,#2f6c8e 0 104px,#2d718e 0 114px,#2b758e 0 126px,#29798e 0 138px,#287d8e 0 150px,#26818e 0 160px,#25848e 0 194px,#26828e 0 218px,#27808e 0 230px,#287d8e 0 240px,#29798e 0 252px,#2b758e 0 264px,#2c738e 0 276px,#2d718e 0 288px)"></i>
<i style="top:103px;height:10px;background:linear-gradient(90deg,#481769 0 12px,#482173 0 24px,#472a7a 0 34px,#46307e 0 46px,#433e85 0 58px,#404688 0 70px,#3c4f8a 0 80px,#38588c 0 92px,#355f8d 0 104px,#31668e 0 114px,#2f6c8e 0 126px,#2d708e 0 138px,#2c738e 0 150px,#2b758e 0 160px,#2a788e 0 172px,#2a778e 0 184px,#2b758e 0 194px,#2b748e 0 206px,#2c738e 0 218px,#2d718e 0 230px,#2e6f8e 0 240px,#2f6b8e 0 252px,#31678e 0 264px,#32648e 0 276px,#33628d 0 288px)"></i>
<i style="top:113px;height:12px;background:linear-gradient(90deg,#440154 0 12px,#46085c 0 24px,#481769 0 34px,#482475 0 46px,#472e7c 0 58px,#453781 0 70px,#424086 0 80px,#3e4989 0 92px,#3b528b 0 104px,#38588c 0 114px,#365d8d 0 126px,#33628d 0 138px,#31678e 0 150px,#31688e 0 160px,#306a8e 0 172px,#31688e 0 184px,#31678e 0 194px,#32648e 0 206px,#33628d 0 218px,#355f8d 0 230px,#365d8d 0 240px,#375a8c 0 252px,#38588c 0 264px,#39558c 0 276px,#3a548c 0 288px)"></i>
<i style="top:125px;height:12px;background:linear-gradient(90deg,#450457 0 12px,#46085c 0 24px,#471063 0 34px,#481a6c 0 46px,#482475 0 58px,#472a7a 0 70px,#46307e 0 80px,#453581 0 92px,#443a83 0 104px,#424086 0 114px,#404688 0 126px,#3e4a89 0 138px,#3c4f8a 0 150px,#3c508b 0 160px,#3b528b 0 194px,#3c508b 0 206px,#3c4f8a 0 218px,#3d4e8a 0 230px,#3e4c8a 0 240px,#3d4e8a 0 252px,#3c4f8a 0 264px,#3c508b 0 276px,#3b528b 0 288px)"></i>
<i style="top:137px;height:12px;background:linear-gradient(90deg,#460b5e 0 12px,#471063 0 24px,#481769 0 34px,#481d6f 0 46px,#482475 0 58px,#482878 0 70px,#472a7a 0 80px,#472e7c 0 92px,#46307e 0 104px,#463480 0 114px,#453781 0 126px,#443983 0 138px,#443a83 0 150px,#443b84 0 160px,#433e85 0 172px,#443b84 0 184px,#443a83 0 218px,#443983 0 230px,#453781 0 240px,#443b84 0 252px,#424086 0 264px,#414487 0 276px,#404688 0 288px)"></i>
<i style="top:149px;height:10px;background:linear-gradient(90deg,#481d6f 0 12px,#482173 0 24px,#482475 0 34px,#482878 0 46px,#472a7a 0 58px,#472e7c 0 70px,#46307e 0 104px,#46337f 0 114px,#463480 0 126px,#46337f 0 138px,#46307e 0 172px,#472f7d 0 184px,#472e7c 0 218px,#472f7d 0 230px,#46307e 0 240px,#463480 0 252px,#453781 0 264px,#443b84 0 276px,#424086 0 288px)"></i>
<i style="top:159px;height:12px;background:linear-gradient(90deg,#46307e 0 24px,#453781 0 34px,#443a83 0 58px,#433e85 0 70px,#424086 0 80px,#424186 0 92px,#414487 0 150px,#424186 0 160px,#424086 0 172px,#433e85 0 184px,#443a83 0 218px,#433e85 0 230px,#424086 0 240px,#424186 0 252px,#414487 0 264px,#404688 0 276px,#3e4989 0 288px)"></i>
<i style="top:171px;height:12px;background:linear-gradient(90deg,#3b528b 0 24px,#3a548c 0 34px,#38588c 0 46px,#375a8c 0 58px,#375b8d 0 70px,#365d8d 0 104px,#355e8d 0 114px,#355f8d 0 150px,#355e8d 0 160px,#365d8d 0 194px,#375b8d 0 206px,#375a8c 0 240px,#375b8d 0 252px,#365d8d 0 288px)"></i>
<i style="top:183px;height:12px;background:linear-gradient(90deg,#306a8e 0 24px,#2f6c8e 0 46px,#2e6f8e 0 58px,#2d708e 0 70px,#2d718e 0 80px,#2c728e 0 92px,#2c738e 0 172px,#2c728e 0 184px,#2d718e 0 218px,#2d708e 0 230px,#2e6f8e 0 288px)"></i>
<i style="top:195px;height:10px;background:linear-gradient(90deg,#2a788e 0 24px,#297a8e 0 34px,#287d8e 0 58px,#27808e 0 70px,#26828e 0 92px,#25848e 0 194px,#26828e 0 288px)"></i>
<i style="top:205px;height:12px;background:linear-gradient(90deg,#2a788e 0 12px,#297a8e 0 24px,#287d8e 0 34px,#27808e 0 46px,#26828e 0 58px,#25848e 0 70px,#24868e 0 80px,#23898e 0 92px,#228b8d 0 104px,#228d8d 0 114px,#218e8d 0 126px,#218f8d 0 138px,#21918c 0 194px,#218f8d 0 206px,#218e8d 0 288px)"></i>
<i style="top:217px;height:12px;background:linear-gradient(90deg,#2b758e 0 24px,#2a788e 0 34px,#287d8e 0 46px,#27808e 0 58px,#26828e 0 70px,#24868e 0 80px,#238a8d 0 92px,#218e8d 0 104px,#20928c 0 114px,#1f958b 0 126px,#1f968b 0 138px,#1f978b 0 150px,#1f988b 0 160px,#1f9a8a 0 240px,#1f988b 0 252px,#1f978b 0 288px)"></i>
<i style="top:229px;height:10px;background:linear-gradient(90deg,#2e6f8e 0 12px,#2d718e 0 24px,#2b758e 0 34px,#297a8e 0 46px,#27808e 0 58px,#25848e 0 70px,#23898e 0 80px,#218e8d 0 92px,#20928c 0 104px,#1f968b 0 114px,#1f9a8a 0 126px,#1e9c89 0 138px,#1f9f88 0 150px,#1fa088 0 160px,#1fa188 0 172px,#1fa287 0 184px,#20a386 0 218px,#1fa287 0 230px,#1fa188 0 288px)"></i>
<i style="top:239px;height:12px;background:linear-gradient(90deg,#2f6c8e 0 12px,#31678e 0 24px,#2f6c8e 0 34px,#2c738e 0 46px,#2a788e 0 58px,#277e8e 0 70px,#25848e 0 80px,#23898e 0 92px,#218e8d 0 104px,#20928c 0 114px,#1f978b 0 126px,#1e9c89 0 138px,#1fa188 0 150px,#20a486 0 160px,#22a884 0 264px,#20a486 0 276px,#1fa188 0 288px)"></i>
<i style="top:251px;height:12px;background:linear-gradient(90deg,#375a8c 0 12px,#365d8d 0 24px,#31678e 0 34px,#2f6c8e 0 46px,#2c738e 0 58px,#297a8e 0 70px,#26828e 0 80px,#24868e 0 92px,#228b8d 0 104px,#21918c 0 114px,#1f958b 0 126px,#1f9a8a 0 138px,#1f9f88 0 150px,#1fa188 0 160px,#20a386 0 172px,#21a685 0 184px,#22a884 0 240px,#20a486 0 252px,#1fa188 0 288px)"></i>
<i style="top:263px;height:12px;background:linear-gradient(90deg,#38588c 0 12px,#365d8d 0 24px,#31678e 0 34px,#2e6f8e 0 46px,#2b758e 0 58px,#287c8e 0 70px,#26828e 0 80px,#23888e 0 92px,#218e8d 0 104px,#20938c 0 114px,#1f9a8a 0 126px,#1fa188 0 138px,#22a884 0 150px,#25ab82 0 160px,#26ad81 0 218px,#25ab82 0 230px,#22a884 0 240px,#20a486 0 252px,#1fa188 0 264px,#1fa088 0 276px,#1f9f88 0 288px)"></i>
<i style="top:275px;height:10px;background:linear-gradient(90deg,#2d718e 0 12px,#2c738e 0 24px,#2a788e 0 34px,#287d8e 0 46px,#25848e 0 58px,#23898e 0 70px,#218e8d 0 80px,#20938c 0 92px,#1f9a8a 0 104px,#1fa188 0 114px,#22a884 0 126px,#26ad81 0 138px,#2cb17e 0 150px,#2fb47c 0 160px,#32b67a 0 194px,#2fb47c 0 206px,#2cb17e 0 218px,#26ad81 0 230px,#22a884 0 240px,#20a386 0 252px,#1f9f88 0 264px,#1e9b8a 0 276px,#1f978b 0 288px)"></i>
<i style="top:285px;height:12px;background:linear-gradient(90deg,#287d8e 0 12px,#27808e 0 24px,#25848e 0 34px,#23898e 0 46px,#218e8d 0 58px,#20938c 0 70px,#1f9a8a 0 80px,#1fa188 0 92px,#22a884 0 104px,#26ad81 0 114px,#2cb17e 0 126px,#32b67a 0 138px,#3bbb75 0 150px,#3fbc73 0 160px,#44bf70 0 172px,#3fbc73 0 184px,#3bbb75 0 194px,#32b67a 0 206px,#2cb17e 0 218px,#26ad81 0 230px,#22a884 0 240px,#1fa188 0 252px,#1f9a8a 0 264px,#20938c 0 276px,#218e8d 0 288px)"></i>
<i style="top:297px;height:12px;background:linear-gradient(90deg,#24868e 0 12px,#228b8d 0 24px,#218e8d 0 34px,#1f958b 0 46px,#1f9a8a 0 58px,#1fa188 0 70px,#22a884 0 80px,#29af7f 0 92px,#32b67a 0 104px,#3dbc74 0 114px,#48c16e 0 126px,#52c569 0 138px,#5ec962 0 172px,#52c569 0 184px,#48c16e 0 194px,#3dbc74 0 206px,#32b67a 0 218px,#29af7f 0 230px,#22a884 0 240px,#1fa088 0 252px,#1f978b 0 264px,#21918c 0 276px,#23898e 0 288px)"></i>
<i style="top:309px;height:12px;background:linear-gradient(90deg,#1f958b 0 24px,#1f9a8a 0 34px,#1f9f88 0 46px,#22a884 0 58px,#26ad81 0 70px,#2cb17e 0 80px,#37b878 0 92px,#44bf70 0 104px,#4cc26c 0 114px,#52c569 0 126px,#58c765 0 138px,#5ec962 0 172px,#52c569 0 184px,#48c16e 0 194px,#3dbc74 0 206px,#32b67a 0 218px,#29af7f 0 230px,#22a884 0 240px,#1fa088 0 252px,#1f978b 0 264px,#218f8d 0 276px,#24868e 0 288px)"></i>
<i style="top:321px;height:10px;background:linear-gradient(90deg,#1f978b 0 12px,#1f9a8a 0 24px,#1f9f88 0 34px,#20a386 0 46px,#22a884 0 58px,#26ad81 0 70px,#2cb17e 0 80px,#31b57b 0 92px,#37b878 0 104px,#3bbb75 0 114px,#3fbc73 0 126px,#40bd72 0 138px,#44bf70 0 150px,#3fbc73 0 160px,#3bbb75 0 172px,#37b878 0 184px,#32b67a 0 194px,#2cb17e 0 206px,#26ad81 0 218px,#22a785 0 230px,#1fa188 0 240px,#1f988b 0 252px,#21918c 0 264px,#23898e 0 276px,#26828e 0 288px)"></i>
<i style="top:331px;height:12px;background:linear-gradient(90deg,#21918c 0 12px,#20928c 0 24px,#1f958b 0 34px,#1f978b 0 46px,#1f9a8a 0 58px,#1e9c89 0 70px,#1f9f88 0 80px,#20a386 0 92px,#22a884 0 172px,#20a486 0 184px,#1fa188 0 194px,#1f9e89 0 206px,#1f9a8a 0 218px,#1f958b 0 230px,#21918c 0 240px,#238a8d 0 252px,#25848e 0 264px,#277e8e 0 276px,#2a788e 0 288px)"></i>
<i style="top:343px;height:12px;background:linear-gradient(90deg,#2a788e 0 12px,#297a8e 0 24px,#287d8e 0 34px,#26828e 0 46px,#25848e 0 58px,#25858e 0 70px,#24868e 0 80px,#23898e 0 92px,#228b8d 0 104px,#228d8d 0 114px,#218e8d 0 126px,#218f8d 0 138px,#21918c 0 172px,#218f8d 0 184px,#218e8d 0 194px,#228d8d 0 206px,#228b8d 0 218px,#23888e 0 230px,#25848e 0 240px,#26818e 0 252px,#287d8e 0 264px,#29798e 0 276px,#2b758e 0 288px)"></i>
<i style="top:355px;height:12px;background:linear-gradient(90deg,#404688 0 12px,#3e4c8a 0 24px,#3a548c 0 34px,#365d8d 0 46px,#33628d 0 58px,#31678e 0 70px,#2f6c8e 0 80px,#2d708e 0 92px,#2c738e 0 104px,#2b758e 0 114px,#2a788e 0 126px,#297a8e 0 138px,#287d8e 0 150px,#277e8e 0 160px,#27808e 0 194px,#277e8e 0 206px,#287d8e 0 218px,#297a8e 0 230px,#2a788e 0 240px,#2b758e 0 252px,#2c738e 0 264px,#2d718e 0 276px,#2e6f8e 0 288px)"></i>
<i style="top:367px;height:10px;background:linear-gradient(90deg,#463480 0 12px,#443a83 0 24px,#424086 0 34px,#404688 0 46px,#3e4c8a 0 58px,#3a548c 0 70px,#365d8d 0 80px,#33628d 0 92px,#31678e 0 104px,#306a8e 0 114px,#2f6c8e 0 126px,#2e6f8e 0 138px,#2d718e 0 172px,#2d708e 0 184px,#2e6f8e 0 194px,#2e6d8e 0 206px,#2f6c8e 0 218px,#2f6b8e 0 230px,#306a8e 0 240px,#2f6b8e 0 252px,#2f6c8e 0 288px)"></i>
<i style="top:377px;height:12px;background:linear-gradient(90deg,#46307e 0 24px,#443a83 0 46px,#414487 0 58px,#3f4889 0 70px,#3e4c8a 0 80px,#3a538b 0 92px,#375a8c 0 104px,#34618d 0 114px,#31678e 0 126px,#306a8e 0 138px,#2f6c8e 0 172px,#2f6b8e 0 184px,#306a8e 0 194px,#31688e 0 206px,#31678e 0 288px)"></i>
<i style="top:389px;height:12px;background:linear-gradient(90deg,#481d6f 0 12px,#482173 0 24px,#482475 0 34px,#472a7a 0 46px,#46307e 0 58px,#453581 0 70px,#443a83 0 80px,#424186 0 92px,#3e4989 0 104px,#3c4f8a 0 114px,#3a548c 0 126px,#38598c 0 138px,#365d8d 0 194px,#355e8d 0 206px,#355f8d 0 218px,#34618d 0 230px,#33628d 0 240px,#32648e 0 252px,#31678e 0 288px)"></i>
<i style="top:401px;height:12px;background:linear-gradient(90deg,#481769 0 24px,#481d6f 0 34px,#482475 0 46px,#472a7a 0 58px,#472f7d 0 70px,#463480 0 80px,#443a83 0 92px,#424086 0 104px,#404588 0 114px,#3e4989 0 126px,#3d4e8a 0 138px,#3b528b 0 150px,#3a548c 0 160px,#38588c 0 172px,#375a8c 0 184px,#365d8d 0 194px,#355f8d 0 206px,#33628d 0 218px,#32648e 0 230px,#31678e 0 240px,#306a8e 0 252px,#2f6c8e 0 264px,#2e6f8e 0 276px,#2d718e 0 288px)"></i>
<i style="top:413px;height:10px;background:linear-gradient(90deg,#481769 0 24px,#481a6c 0 34px,#482173 0 46px,#482878 0 58px,#472d7b 0 70px,#46307e 0 80px,#453581 0 92px,#443a83 0 104px,#423f85 0 114px,#414487 0 126px,#3e4989 0 138px,#3c4f8a 0 150px,#3a548c 0 160px,#375a8c 0 172px,#34618d 0 184px,#31678e 0 194px,#306a8e 0 206px,#2f6c8e 0 218px,#2d718e 0 230px,#2b758e 0 240px,#2a778e 0 252px,#2a788e 0 288px)"></i>
<i style="top:423px;height:12px;background:linear-gradient(90deg,#482173 0 24px,#482475 0 34px,#482878 0 46px,#472a7a 0 58px,#472e7c 0 70px,#46307e 0 80px,#463480 0 92px,#453781 0 104px,#443b84 0 114px,#424086 0 126px,#3f4889 0 138px,#3c4f8a 0 150px,#39558c 0 160px,#365d8d 0 172px,#32648e 0 184px,#2f6c8e 0 194px,#2c728e 0 206px,#2a788e 0 218px,#277e8e 0 230px,#25848e 0 240px,#23898e 0 252px,#218e8d 0 264px,#21918c 0 276px,#20928c 0 288px)"></i>
<i style="top:435px;height:12px;background:linear-gradient(90deg,#433e85 0 12px,#424086 0 24px,#414487 0 46px,#404688 0 58px,#3f4889 0 70px,#3e4989 0 80px,#3d4e8a 0 92px,#3b528b 0 104px,#38588c 0 114px,#365d8d 0 126px,#33638d 0 138px,#306a8e 0 150px,#2e6f8e 0 160px,#2c738e 0 172px,#297a8e 0 184px,#26828e 0 194px,#238a8d 0 206px,#20928c 0 218px,#1f988b 0 230px,#1f9f88 0 240px,#20a386 0 252px,#22a884 0 264px,#25ab82 0 276px,#26ad81 0 288px)"></i>
<i style="top:447px;height:12px;background:linear-gradient(90deg,#3b528b 0 24px,#3a548c 0 34px,#38588c 0 46px,#365d8d 0 58px,#355f8d 0 70px,#33628d 0 80px,#31678e 0 92px,#2f6c8e 0 104px,#2d708e 0 114px,#2c738e 0 126px,#2a788e 0 138px,#287d8e 0 150px,#26828e 0 160px,#24868e 0 172px,#218e8d 0 184px,#1f958b 0 194px,#1f9f88 0 206px,#22a884 0 218px,#26ad81 0 230px,#2cb17e 0 240px,#31b57b 0 252px,#37b878 0 264px,#3dbc74 0 276px,#44bf70 0 288px)"></i>
<i style="top:459px;height:10px;background:linear-gradient(90deg,#2f6c8e 0 24px,#2e6f8e 0 34px,#2c738e 0 46px,#2b758e 0 58px,#2a778e 0 70px,#2a788e 0 80px,#297a8e 0 92px,#287d8e 0 104px,#26828e 0 114px,#24868e 0 126px,#218e8d 0 138px,#1f958b 0 150px,#1f9f88 0 160px,#22a884 0 172px,#26ad81 0 184px,#2cb17e 0 194px,#37b878 0 206px,#44bf70 0 218px,#4cc26c 0 230px,#52c569 0 288px)"></i>
<i style="top:469px;height:12px;background:linear-gradient(90deg,#2a788e 0 12px,#297a8e 0 24px,#287d8e 0 34px,#27808e 0 46px,#26828e 0 58px,#25848e 0 70px,#24868e 0 80px,#238a8d 0 92px,#218e8d 0 104px,#20938c 0 114px,#1f9a8a 0 126px,#1fa188 0 138px,#22a884 0 150px,#26ad81 0 160px,#2cb17e 0 172px,#31b57b 0 184px,#37b878 0 194px,#40bd72 0 206px,#4ec36b 0 218px,#50c46a 0 230px,#52c569 0 288px)"></i>
<i style="top:481px;height:12px;background:linear-gradient(90deg,#27808e 0 12px,#26828e 0 24px,#25848e 0 34px,#24868e 0 46px,#23898e 0 58px,#228b8d 0 70px,#218e8d 0 80px,#20928c 0 92px,#1f958b 0 104px,#1f9a8a 0 114px,#1f9f88 0 126px,#20a386 0 138px,#22a884 0 150px,#25ab82 0 160px,#26ad81 0 172px,#29af7f 0 184px,#2cb17e 0 240px,#29af7f 0 252px,#26ad81 0 264px,#25ab82 0 276px,#22a884 0 288px)"></i>
<i style="top:493px;height:10px;background:linear-gradient(90deg,#26828e 0 24px,#25848e 0 34px,#24868e 0 46px,#23898e 0 58px,#228b8d 0 70px,#218e8d 0 80px,#20928c 0 92px,#1f958b 0 104px,#1f978b 0 114px,#1f9a8a 0 126px,#1e9c89 0 138px,#1f9f88 0 150px,#1fa088 0 160px,#1fa188 0 194px,#1fa088 0 206px,#1f9f88 0 218px,#1e9c89 0 230px,#1f9a8a 0 240px,#1f978b 0 252px,#1f958b 0 264px,#20928c 0 276px,#21918c 0 288px)"></i>
<i style="top:503px;height:12px;background:linear-gradient(90deg,#2f6c8e 0 12px,#2e6f8e 0 24px,#2b758e 0 34px,#2a788e 0 46px,#287d8e 0 58px,#26828e 0 70px,#24868e 0 80px,#23898e 0 92px,#228b8d 0 104px,#218e8d 0 114px,#21918c 0 126px,#218f8d 0 138px,#218e8d 0 172px,#228b8d 0 184px,#23898e 0 194px,#25858e 0 206px,#26828e 0 218px,#287d8e 0 230px,#2a788e 0 240px,#2c738e 0 252px,#2e6f8e 0 264px,#2f6b8e 0 276px,#31678e 0 288px)"></i>
<i style="top:515px;height:12px;background:linear-gradient(90deg,#2f6c8e 0 12px,#2d718e 0 24px,#2b758e 0 34px,#2a788e 0 46px,#287d8e 0 58px,#26818e 0 70px,#25848e 0 80px,#23898e 0 92px,#218e8d 0 104px,#21918c 0 114px,#20928c 0 126px,#20938c 0 138px,#1f958b 0 150px,#20928c 0 160px,#21918c 0 172px,#228d8d 0 184px,#23898e 0 194px,#25848e 0 206px,#27808e 0 218px,#297a8e 0 230px,#2b758e 0 240px,#2d708e 0 252px,#306a8e 0 264px,#32648e 0 276px,#355f8d 0 288px)"></i>
<i style="top:527px;height:12px;background:linear-gradient(90deg,#2d718e 0 12px,#2b758e 0 24px,#287d8e 0 34px,#26828e 0 46px,#24868e 0 58px,#238a8d 0 70px,#218e8d 0 80px,#20928c 0 92px,#1f958b 0 104px,#1f978b 0 114px,#1f9a8a 0 150px,#1f978b 0 160px,#1f958b 0 172px,#20928c 0 184px,#21918c 0 194px,#228b8d 0 206px,#24868e 0 218px,#26828e 0 230px,#287d8e 0 240px,#2a788e 0 252px,#2c738e 0 264px,#2d708e 0 276px,#2f6c8e 0 288px)"></i>
<i style="top:539px;height:10px;background:linear-gradient(90deg,#287d8e 0 12px,#25848e 0 24px,#23898e 0 34px,#20928c 0 46px,#1f978b 0 58px,#1f9e89 0 70px,#20a386 0 80px,#22a884 0 92px,#26ad81 0 126px,#29af7f 0 138px,#2cb17e 0 150px,#29af7f 0 160px,#26ad81 0 172px,#25ab82 0 184px,#22a884 0 194px,#1fa188 0 206px,#1f9a8a 0 218px,#1f958b 0 230px,#21918c 0 240px,#238a8d 0 252px,#25848e 0 264px,#277e8e 0 276px,#2a788e 0 288px)"></i>
<i style="top:549px;height:12px;background:linear-gradient(90deg,#218e8d 0 12px,#1f978b 0 24px,#1fa188 0 34px,#26ad81 0 46px,#2cb17e 0 58px,#32b67a 0 70px,#3bbb75 0 80px,#40bd72 0 92px,#48c16e 0 104px,#4ec36b 0 114px,#52c569 0 150px,#4ec36b 0 160px,#48c16e 0 172px,#3fbc73 0 184px,#37b878 0 194px,#31b57b 0 206px,#2cb17e 0 218px,#23a983 0 230px,#1fa188 0 240px,#1e9c89 0 252px,#1f978b 0 264px,#1f958b 0 276px,#20928c 0 288px)"></i>
<i style="top:561px;height:12px;background:linear-gradient(90deg,#26ad81 0 12px,#32b67a 0 24px,#44bf70 0 34px,#52c569 0 46px,#5ec962 0 58px,#6ccd5a 0 70px,#7ad151 0 80px,#81d34d 0 92px,#86d549 0 104px,#8bd646 0 114px,#8ed645 0 150px,#8bd646 0 160px,#86d549 0 172px,#7ad151 0 184px,#6ece58 0 194px,#65cb5e 0 206px,#5ec962 0 218px,#50c46a 0 230px,#44bf70 0 240px,#3bbb75 0 252px,#32b67a 0 264px,#2cb17e 0 276px,#26ad81 0 288px)"></i>
<i style="top:573px;height:12px;background:linear-gradient(90deg,#48c16e 0 12px,#5ec962 0 24px,#6ece58 0 34px,#86d549 0 46px,#95d840 0 58px,#a2da37 0 70px,#b0dd2f 0 80px,#bade28 0 92px,#c2df23 0 104px,#c8e020 0 114px,#cae11f 0 126px,#c8e020 0 138px,#c2df23 0 150px,#bddf26 0 160px,#b5de2b 0 172px,#addc30 0 184px,#a2da37 0 194px,#98d83e 0 206px,#8ed645 0 218px,#7fd34e 0 230px,#6ece58 0 240px,#65cb5e 0 252px,#5ec962 0 264px,#58c765 0 276px,#52c569 0 288px)"></i>
<i style="top:585px;height:10px;background:linear-gradient(90deg,#69cd5b 0 12px,#7ad151 0 24px,#8ed645 0 34px,#a2da37 0 46px,#b0dd2f 0 58px,#c0df25 0 70px,#d2e21b 0 80px,#d8e219 0 92px,#dfe318 0 104px,#e2e418 0 114px,#e5e419 0 126px,#e2e418 0 138px,#dfe318 0 150px,#dae319 0 160px,#d8e219 0 172px,#cde11d 0 184px,#c2df23 0 194px,#b5de2b 0 206px,#a8db34 0 218px,#9bd93c 0 230px,#8ed645 0 240px,#84d44b 0 252px,#7ad151 0 264px,#70cf57 0 276px,#69cd5b 0 288px)"></i>
<i style="top:595px;height:12px;background:linear-gradient(90deg,#7ad151 0 12px,#8ed645 0 24px,#9bd93c 0 34px,#b0dd2f 0 46px,#c2df23 0 58px,#d2e21b 0 70px,#dfe318 0 80px,#ece51b 0 92px,#f8e621 0 104px,#fbe723 0 114px,#fde725 0 150px,#f8e621 0 160px,#f1e51d 0 172px,#eae51a 0 184px,#dfe318 0 194px,#d5e21a 0 206px,#cae11f 0 218px,#bddf26 0 230px,#b0dd2f 0 240px,#a5db36 0 252px,#9bd93c 0 264px,#95d840 0 276px,#8ed645 0 288px)"></i>
<i style="top:607px;height:12px;background:linear-gradient(90deg,#69cd5b 0 12px,#86d549 0 24px,#95d840 0 34px,#a8db34 0 46px,#b5de2b 0 58px,#c2df23 0 70px,#d2e21b 0 80px,#dfe318 0 92px,#ece51b 0 104px,#f1e51d 0 114px,#f8e621 0 126px,#fbe723 0 138px,#fde725 0 150px,#fbe723 0 160px,#f8e621 0 172px,#f1e51d 0 184px,#ece51b 0 194px,#e5e419 0 206px,#dfe318 0 218px,#d5e21a 0 230px,#cae11f 0 240px,#c0df25 0 252px,#b5de2b 0 264px,#b0dd2f 0 276px,#a8db34 0 288px)"></i>
<i style="top:619px;height:12px;background:linear-gradient(90deg,#48c16e 0 12px,#5ec962 0 24px,#6ece58 0 34px,#86d549 0 46px,#95d840 0 58px,#a2da37 0 70px,#b0dd2f 0 80px,#bddf26 0 92px,#cae11f 0 104px,#d2e21b 0 114px,#d8e219 0 126px,#dfe318 0 138px,#e5e419 0 172px,#e2e418 0 184px,#dfe318 0 194px,#dae319 0 206px,#d8e219 0 218px,#d2e21b 0 230px,#cae11f 0 240px,#c2df23 0 252px,#bddf26 0 264px,#bade28 0 276px,#b5de2b 0 288px)"></i>
<i style="top:631px;height:10px;background:linear-gradient(90deg,#32b67a 0 12px,#3bbb75 0 24px,#44bf70 0 34px,#4ec36b 0 46px,#52c569 0 58px,#5ec962 0 70px,#69cd5b 0 80px,#77d153 0 92px,#86d549 0 104px,#9bd93c 0 114px,#b0dd2f 0 126px,#bddf26 0 138px,#cae11f 0 150px,#cde11d 0 160px,#d2e21b 0 172px,#d5e21a 0 184px,#d8e219 0 194px,#d5e21a 0 206px,#d2e21b 0 218px,#cde11d 0 230px,#cae11f 0 240px,#c2df23 0 252px,#bddf26 0 264px,#bade28 0 276px,#b5de2b 0 288px)"></i>
<i style="top:641px;height:12px;background:linear-gradient(90deg,#26ad81 0 12px,#2cb17e 0 24px,#32b67a 0 34px,#37b878 0 46px,#44bf70 0 58px,#4cc26c 0 70px,#52c569 0 80px,#5ec962 0 92px,#69cd5b 0 104px,#77d153 0 114px,#86d549 0 126px,#90d743 0 138px,#9bd93c 0 150px,#a2da37 0 160px,#a8db34 0 172px,#addc30 0 184px,#b0dd2f 0 288px)"></i>
<i style="top:653px;height:12px;background:linear-gradient(90deg,#22a884 0 12px,#25ab82 0 24px,#26ad81 0 34px,#2cb17e 0 46px,#32b67a 0 58px,#37b878 0 70px,#3bbb75 0 80px,#44bf70 0 92px,#4ec36b 0 104px,#56c667 0 114px,#5ec962 0 126px,#63cb5f 0 138px,#69cd5b 0 150px,#70cf57 0 160px,#7ad151 0 172px,#81d34d 0 184px,#86d549 0 288px)"></i>
<i style="top:665px;height:12px;background:linear-gradient(90deg,#20a386 0 12px,#21a685 0 24px,#22a884 0 34px,#26ad81 0 58px,#29af7f 0 70px,#2cb17e 0 80px,#2fb47c 0 92px,#32b67a 0 104px,#37b878 0 114px,#3bbb75 0 126px,#40bd72 0 138px,#48c16e 0 150px,#4ec36b 0 160px,#52c569 0 194px,#58c765 0 206px,#5ec962 0 264px,#5ac864 0 276px,#58c765 0 288px)"></i>
<i style="top:677px;height:10px;background:linear-gradient(90deg,#1fa188 0 34px,#20a386 0 46px,#22a884 0 80px,#25ab82 0 92px,#26ad81 0 126px,#29af7f 0 138px,#2cb17e 0 172px,#2fb47c 0 184px,#32b67a 0 288px)"></i>
<i style="top:687px;height:12px;background:linear-gradient(90deg,#1f9f88 0 34px,#1fa188 0 80px,#1fa287 0 92px,#20a386 0 104px,#21a685 0 114px,#22a884 0 172px,#21a685 0 184px,#20a386 0 194px,#1fa287 0 206px,#1fa188 0 218px,#1fa088 0 230px,#1f9f88 0 264px,#1e9c89 0 276px,#1f9a8a 0 288px)"></i>
<i style="top:699px;height:12px;background:linear-gradient(90deg,#1f958b 0 24px,#1f978b 0 34px,#1f9a8a 0 58px,#1e9c89 0 70px,#1f9f88 0 150px,#1e9c89 0 160px,#1f9a8a 0 172px,#1f978b 0 184px,#1f958b 0 194px,#20928c 0 206px,#21918c 0 218px,#228d8d 0 230px,#23898e 0 240px,#23888e 0 252px,#24868e 0 264px,#25858e 0 276px,#25848e 0 288px)"></i>
<i style="top:711px;height:12px;background:linear-gradient(90deg,#27808e 0 12px,#25848e 0 24px,#23898e 0 34px,#218e8d 0 46px,#20928c 0 58px,#20938c 0 70px,#1f958b 0 80px,#1f968b 0 92px,#1f978b 0 126px,#1f988b 0 138px,#1f9a8a 0 150px,#1f978b 0 160px,#1f958b 0 172px,#20928c 0 184px,#21918c 0 194px,#228d8d 0 206px,#23898e 0 218px,#25848e 0 230px,#27808e 0 240px,#297a8e 0 252px,#2b758e 0 264px,#2c738e 0 276px,#2d718e 0 288px)"></i>
<i style="top:723px;height:11px;background:linear-gradient(90deg,#3a548c 0 12px,#365d8d 0 24px,#31678e 0 34px,#2e6f8e 0 46px,#2a788e 0 58px,#277e8e 0 70px,#25848e 0 80px,#23898e 0 92px,#218e8d 0 104px,#21918c 0 114px,#20928c 0 126px,#20938c 0 138px,#1f958b 0 150px,#20928c 0 160px,#218e8d 0 172px,#238a8d 0 184px,#24868e 0 194px,#27808e 0 206px,#2a788e 0 218px,#2c738e 0 230px,#2e6f8e 0 240px,#2f6b8e 0 252px,#31678e 0 264px,#33638d 0 276px,#355f8d 0 288px)"></i>
</div>
<div class="p" style="left:970px;top:199px;width:288px;height:734px">
<i style="top:0px;height:11px;background:linear-gradient(90deg,#1f978b 0 34px,#1f9a8a 0 126px,#1f988b 0 138px,#1f978b 0 172px,#1f968b 0 184px,#1f958b 0 194px,#20928c 0 206px,#21918c 0 218px,#218e8d 0 230px,#228b8d 0 240px,#238a8d 0 252px,#23898e 0 264px,#23888e 0 274px,#24868e 0 288px)"></i>
<i style="top:11px;height:10px;background:linear-gradient(90deg,#26ad81 0 58px,#29af7f 0 70px,#2cb17e 0 150px,#29af7f 0 160px,#26ad81 0 194px,#25ab82 0 206px,#22a884 0 240px,#20a486 0 252px,#1fa188 0 264px,#1fa088 0 274px,#1f9f88 0 288px)"></i>
<i style="top:21px;height:12px;background:linear-gradient(90deg,#48c16e 0 34px,#4ec36b 0 58px,#50c46a 0 70px,#52c569 0 126px,#50c46a 0 138px,#4ec36b 0 150px,#4cc26c 0 160px,#48c16e 0 172px,#44bf70 0 184px,#3fbc73 0 194px,#3bbb75 0 206px,#37b878 0 218px,#35b779 0 230px,#32b67a 0 288px)"></i>
<i style="top:33px;height:12px;background:linear-gradient(90deg,#4ec36b 0 24px,#52c569 0 34px,#58c765 0 58px,#5ec962 0 70px,#63cb5f 0 80px,#65cb5e 0 92px,#69cd5b 0 126px,#65cb5e 0 138px,#63cb5f 0 150px,#60ca60 0 160px,#5ec962 0 172px,#58c765 0 184px,#52c569 0 194px,#4ec36b 0 206px,#48c16e 0 218px,#44bf70 0 230px,#3fbc73 0 240px,#3dbc74 0 252px,#3bbb75 0 288px)"></i>
<i style="top:45px;height:12px;background:linear-gradient(90deg,#2cb17e 0 12px,#2fb47c 0 24px,#32b67a 0 34px,#37b878 0 46px,#3bbb75 0 58px,#40bd72 0 70px,#48c16e 0 80px,#4ec36b 0 92px,#52c569 0 104px,#56c667 0 114px,#58c765 0 126px,#5ac864 0 138px,#5ec962 0 150px,#58c765 0 160px,#52c569 0 172px,#4ec36b 0 184px,#48c16e 0 194px,#44bf70 0 206px,#3fbc73 0 218px,#3dbc74 0 230px,#3bbb75 0 240px,#38b977 0 252px,#37b878 0 288px)"></i>
<i style="top:57px;height:10px;background:linear-gradient(90deg,#1f9f88 0 24px,#1fa188 0 34px,#21a685 0 46px,#22a884 0 58px,#25ab82 0 70px,#26ad81 0 80px,#29af7f 0 92px,#2cb17e 0 104px,#2fb47c 0 114px,#32b67a 0 126px,#35b779 0 138px,#37b878 0 150px,#35b779 0 160px,#32b67a 0 172px,#2fb47c 0 184px,#2cb17e 0 218px,#29af7f 0 230px,#26ad81 0 264px,#25ab82 0 274px,#22a884 0 288px)"></i>
<i style="top:67px;height:12px;background:linear-gradient(90deg,#25848e 0 12px,#23898e 0 24px,#228b8d 0 34px,#218e8d 0 46px,#21918c 0 58px,#20928c 0 70px,#1f958b 0 80px,#1f9a8a 0 92px,#1f9f88 0 104px,#1fa088 0 114px,#1fa188 0 126px,#20a486 0 138px,#22a884 0 194px,#20a486 0 206px,#1fa188 0 218px,#1fa088 0 230px,#1f9f88 0 240px,#1e9c89 0 252px,#1f9a8a 0 264px,#1f978b 0 274px,#1f958b 0 288px)"></i>
<i style="top:79px;height:12px;background:linear-gradient(90deg,#3a548c 0 12px,#375a8c 0 24px,#355f8d 0 34px,#31678e 0 46px,#2f6c8e 0 58px,#2c728e 0 70px,#2a788e 0 80px,#277e8e 0 92px,#25848e 0 104px,#238a8d 0 114px,#21918c 0 126px,#20928c 0 138px,#1f958b 0 150px,#1f968b 0 160px,#1f978b 0 194px,#1f968b 0 206px,#1f958b 0 218px,#20928c 0 230px,#21918c 0 240px,#228d8d 0 252px,#23898e 0 264px,#24868e 0 274px,#25848e 0 288px)"></i>
<i style="top:91px;height:12px;background:linear-gradient(90deg,#46307e 0 12px,#453781 0 24px,#424086 0 34px,#3e4989 0 46px,#3b528b 0 58px,#375a8c 0 70px,#33628d 0 80px,#306a8e 0 92px,#2d718e 0 104px,#2a778e 0 114px,#287d8e 0 126px,#26818e 0 138px,#25848e 0 150px,#25858e 0 160px,#24868e 0 194px,#25858e 0 206px,#25848e 0 218px,#26828e 0 230px,#27808e 0 240px,#297a8e 0 252px,#2b758e 0 264px,#2c738e 0 274px,#2d718e 0 288px)"></i>
<i style="top:103px;height:10px;background:linear-gradient(90deg,#481a6c 0 12px,#482475 0 24px,#472a7a 0 34px,#453781 0 46px,#414487 0 58px,#3e4a89 0 70px,#3b528b 0 80px,#365d8d 0 92px,#31678e 0 104px,#2e6d8e 0 114px,#2c738e 0 126px,#2b758e 0 138px,#2a788e 0 150px,#29798e 0 160px,#297a8e 0 172px,#29798e 0 184px,#2a788e 0 194px,#2a778e 0 206px,#2b758e 0 218px,#2c728e 0 230px,#2e6f8e 0 240px,#2f6b8e 0 252px,#31678e 0 264px,#33628d 0 274px,#365d8d 0 288px)"></i>
<i style="top:113px;height:12px;background:linear-gradient(90deg,#440154 0 12px,#460b5e 0 24px,#481a6c 0 34px,#482878 0 46px,#463480 0 58px,#443b84 0 70px,#414487 0 80px,#3e4c8a 0 92px,#3a548c 0 104px,#375b8d 0 114px,#33628d 0 126px,#31678e 0 138px,#2f6c8e 0 194px,#306a8e 0 206px,#31678e 0 218px,#33628d 0 230px,#365d8d 0 240px,#38588c 0 252px,#3b528b 0 264px,#3e4c8a 0 274px,#404688 0 288px)"></i>
<i style="top:125px;height:12px;background:linear-gradient(90deg,#450457 0 12px,#46085c 0 24px,#481769 0 34px,#482475 0 46px,#472a7a 0 58px,#46337f 0 70px,#443a83 0 80px,#424086 0 92px,#404688 0 104px,#3e4c8a 0 114px,#3b528b 0 126px,#3a548c 0 138px,#38588c 0 172px,#39558c 0 184px,#3a548c 0 194px,#3a538b 0 206px,#3b528b 0 218px,#3c4f8a 0 230px,#3e4c8a 0 240px,#3e4989 0 252px,#404688 0 264px,#404588 0 274px,#414487 0 288px)"></i>
<i style="top:137px;height:12px;background:linear-gradient(90deg,#46085c 0 12px,#471063 0 24px,#481d6f 0 34px,#482878 0 46px,#472a7a 0 58px,#472e7c 0 70px,#46307e 0 80px,#453581 0 92px,#443a83 0 104px,#433e85 0 114px,#424086 0 126px,#424186 0 138px,#414487 0 150px,#424186 0 160px,#424086 0 172px,#433e85 0 184px,#443a83 0 194px,#443983 0 206px,#453781 0 218px,#463480 0 230px,#46307e 0 288px)"></i>
<i style="top:149px;height:10px;background:linear-gradient(90deg,#481d6f 0 12px,#482173 0 24px,#482878 0 34px,#472a7a 0 46px,#46307e 0 58px,#463480 0 70px,#453781 0 80px,#443983 0 92px,#443a83 0 150px,#443983 0 160px,#453781 0 172px,#453581 0 184px,#463480 0 194px,#46337f 0 206px,#46307e 0 288px)"></i>
<i style="top:159px;height:12px;background:linear-gradient(90deg,#46307e 0 24px,#453781 0 34px,#443a83 0 46px,#424086 0 58px,#424186 0 70px,#414487 0 80px,#404588 0 92px,#404688 0 104px,#3f4889 0 114px,#3e4989 0 126px,#3f4889 0 138px,#404688 0 150px,#404588 0 160px,#414487 0 172px,#424186 0 184px,#424086 0 194px,#433e85 0 206px,#443a83 0 288px)"></i>
<i style="top:171px;height:12px;background:linear-gradient(90deg,#3b528b 0 24px,#3a548c 0 34px,#38588c 0 46px,#375a8c 0 58px,#375b8d 0 70px,#365d8d 0 80px,#355e8d 0 92px,#355f8d 0 104px,#34618d 0 114px,#33628d 0 150px,#34618d 0 160px,#355f8d 0 172px,#355e8d 0 184px,#365d8d 0 194px,#375b8d 0 206px,#375a8c 0 218px,#38598c 0 230px,#38588c 0 240px,#39558c 0 252px,#3a548c 0 264px,#3a538b 0 274px,#3b528b 0 288px)"></i>
<i style="top:183px;height:12px;background:linear-gradient(90deg,#2d718e 0 24px,#2c738e 0 46px,#2b758e 0 172px,#2b748e 0 184px,#2c738e 0 194px,#2c728e 0 206px,#2d718e 0 218px,#2d708e 0 230px,#2e6f8e 0 240px,#2e6d8e 0 252px,#2f6c8e 0 264px,#2f6b8e 0 274px,#306a8e 0 288px)"></i>
<i style="top:195px;height:10px;background:linear-gradient(90deg,#25848e 0 24px,#24868e 0 46px,#23898e 0 58px,#238a8d 0 70px,#228b8d 0 80px,#228d8d 0 92px,#218e8d 0 172px,#228d8d 0 184px,#228b8d 0 194px,#238a8d 0 206px,#23898e 0 218px,#24868e 0 230px,#25848e 0 240px,#26828e 0 264px,#26818e 0 274px,#27808e 0 288px)"></i>
<i style="top:205px;height:12px;background:linear-gradient(90deg,#21918c 0 12px,#20928c 0 24px,#1f958b 0 46px,#1f978b 0 58px,#1f988b 0 70px,#1f9a8a 0 80px,#1e9c89 0 92px,#1f9f88 0 150px,#1e9c89 0 160px,#1f9a8a 0 172px,#1f988b 0 184px,#1f978b 0 194px,#1f968b 0 206px,#1f958b 0 218px,#20928c 0 230px,#21918c 0 240px,#218e8d 0 252px,#228b8d 0 264px,#238a8d 0 274px,#23898e 0 288px)"></i>
<i style="top:217px;height:12px;background:linear-gradient(90deg,#1f958b 0 24px,#1f978b 0 46px,#1f9a8a 0 58px,#1e9c89 0 70px,#1f9f88 0 80px,#1fa088 0 92px,#1fa188 0 104px,#1fa287 0 114px,#20a386 0 126px,#21a685 0 138px,#22a884 0 150px,#21a685 0 160px,#20a386 0 172px,#1fa287 0 184px,#1fa188 0 194px,#1fa088 0 206px,#1f9f88 0 218px,#1e9c89 0 230px,#1f9a8a 0 240px,#1f978b 0 252px,#1f958b 0 264px,#20928c 0 274px,#21918c 0 288px)"></i>
<i style="top:229px;height:10px;background:linear-gradient(90deg,#20928c 0 24px,#1f958b 0 34px,#1f978b 0 46px,#1f9a8a 0 58px,#1e9c89 0 70px,#1f9f88 0 80px,#1fa088 0 92px,#1fa188 0 104px,#20a486 0 114px,#22a884 0 126px,#25ab82 0 138px,#26ad81 0 172px,#25ab82 0 184px,#22a884 0 218px,#20a486 0 230px,#1fa188 0 240px,#1f9e89 0 252px,#1f9a8a 0 264px,#1f978b 0 274px,#1f958b 0 288px)"></i>
<i style="top:239px;height:12px;background:linear-gradient(90deg,#21918c 0 24px,#20928c 0 46px,#1f958b 0 58px,#1f978b 0 70px,#1f9a8a 0 80px,#1e9c89 0 92px,#1f9f88 0 104px,#20a386 0 114px,#22a884 0 126px,#25ab82 0 138px,#26ad81 0 150px,#29af7f 0 160px,#2cb17e 0 172px,#29af7f 0 184px,#26ad81 0 218px,#25ab82 0 230px,#22a884 0 240px,#20a386 0 252px,#1f9f88 0 264px,#1e9b8a 0 274px,#1f978b 0 288px)"></i>
<i style="top:251px;height:12px;background:linear-gradient(90deg,#2b758e 0 24px,#2a788e 0 34px,#287d8e 0 46px,#26828e 0 58px,#25858e 0 70px,#23898e 0 80px,#218f8d 0 92px,#1f958b 0 104px,#1f9a8a 0 114px,#1f9f88 0 126px,#20a386 0 138px,#22a884 0 218px,#20a486 0 230px,#1fa188 0 240px,#1fa088 0 252px,#1f9f88 0 264px,#1e9b8a 0 274px,#1f978b 0 288px)"></i>
<i style="top:263px;height:12px;background:linear-gradient(90deg,#2b758e 0 24px,#297a8e 0 34px,#287d8e 0 46px,#26828e 0 58px,#24868e 0 70px,#228b8d 0 80px,#20928c 0 92px,#1f9a8a 0 104px,#1fa188 0 114px,#22a884 0 126px,#26ad81 0 138px,#2cb17e 0 194px,#29af7f 0 206px,#26ad81 0 218px,#22a884 0 230px,#20a386 0 240px,#1fa188 0 252px,#1f9f88 0 264px,#1f9a8a 0 274px,#1f958b 0 288px)"></i>
<i style="top:275px;height:10px;background:linear-gradient(90deg,#25848e 0 12px,#24868e 0 24px,#228b8d 0 34px,#218e8d 0 46px,#1f958b 0 58px,#1e9b8a 0 70px,#1fa188 0 80px,#22a785 0 92px,#26ad81 0 104px,#2cb17e 0 114px,#32b67a 0 126px,#38b977 0 138px,#3fbc73 0 150px,#3dbc74 0 160px,#3bbb75 0 172px,#37b878 0 184px,#32b67a 0 194px,#2fb47c 0 206px,#2cb17e 0 218px,#26ad81 0 230px,#22a884 0 240px,#1fa188 0 252px,#1f9a8a 0 264px,#1f958b 0 274px,#21918c 0 288px)"></i>
<i style="top:285px;height:12px;background:linear-gradient(90deg,#1fa188 0 24px,#22a884 0 34px,#26ad81 0 46px,#2cb17e 0 58px,#31b57b 0 70px,#37b878 0 80px,#3fbc73 0 92px,#48c16e 0 104px,#52c569 0 114px,#5ec962 0 126px,#60ca60 0 138px,#63cb5f 0 150px,#5ec962 0 160px,#58c765 0 172px,#52c569 0 184px,#4ec36b 0 194px,#44bf70 0 206px,#3bbb75 0 218px,#2fb47c 0 230px,#26ad81 0 240px,#21a685 0 252px,#1f9f88 0 264px,#20938c 0 274px,#23898e 0 288px)"></i>
<i style="top:297px;height:12px;background:linear-gradient(90deg,#2cb17e 0 12px,#32b67a 0 24px,#37b878 0 34px,#44bf70 0 46px,#4ec36b 0 58px,#56c667 0 70px,#5ec962 0 80px,#65cb5e 0 92px,#6ece58 0 104px,#7ad151 0 114px,#86d549 0 150px,#81d34d 0 160px,#7ad151 0 172px,#6ccd5a 0 184px,#5ec962 0 194px,#52c569 0 206px,#48c16e 0 218px,#38b977 0 230px,#2cb17e 0 240px,#23a983 0 252px,#1fa188 0 264px,#20928c 0 274px,#26828e 0 288px)"></i>
<i style="top:309px;height:12px;background:linear-gradient(90deg,#3bbb75 0 24px,#44bf70 0 34px,#48c16e 0 46px,#52c569 0 58px,#58c765 0 70px,#5ec962 0 80px,#65cb5e 0 92px,#6ece58 0 104px,#7ad151 0 114px,#86d549 0 150px,#81d34d 0 160px,#7ad151 0 172px,#6ccd5a 0 184px,#5ec962 0 194px,#50c46a 0 206px,#44bf70 0 218px,#37b878 0 230px,#2cb17e 0 240px,#23a983 0 252px,#1fa188 0 264px,#20928c 0 274px,#26828e 0 288px)"></i>
<i style="top:321px;height:10px;background:linear-gradient(90deg,#2cb17e 0 24px,#32b67a 0 34px,#3bbb75 0 46px,#44bf70 0 58px,#48c16e 0 70px,#4ec36b 0 80px,#50c46a 0 92px,#52c569 0 172px,#4cc26c 0 184px,#44bf70 0 194px,#37b878 0 206px,#2cb17e 0 218px,#23a983 0 230px,#1fa188 0 240px,#1f988b 0 252px,#21918c 0 264px,#25848e 0 274px,#2a788e 0 288px)"></i>
<i style="top:331px;height:12px;background:linear-gradient(90deg,#1fa188 0 12px,#22a884 0 34px,#26ad81 0 58px,#29af7f 0 70px,#2cb17e 0 150px,#29af7f 0 160px,#26ad81 0 172px,#25ab82 0 184px,#22a884 0 194px,#20a386 0 206px,#1f9f88 0 218px,#1f978b 0 230px,#21918c 0 240px,#23888e 0 252px,#27808e 0 264px,#2a778e 0 274px,#2e6f8e 0 288px)"></i>
<i style="top:343px;height:12px;background:linear-gradient(90deg,#21918c 0 12px,#20928c 0 24px,#1f958b 0 46px,#1f978b 0 58px,#1f988b 0 70px,#1f9a8a 0 80px,#1e9c89 0 92px,#1f9f88 0 150px,#1e9c89 0 160px,#1f9a8a 0 172px,#1f978b 0 184px,#1f958b 0 194px,#20928c 0 206px,#218e8d 0 218px,#23898e 0 230px,#25848e 0 240px,#287d8e 0 252px,#2b758e 0 264px,#2d718e 0 274px,#2f6c8e 0 288px)"></i>
<i style="top:355px;height:12px;background:linear-gradient(90deg,#2a788e 0 12px,#287d8e 0 24px,#27808e 0 34px,#25848e 0 46px,#24868e 0 58px,#23898e 0 70px,#228b8d 0 80px,#228d8d 0 92px,#218e8d 0 104px,#218f8d 0 114px,#21918c 0 150px,#218f8d 0 160px,#218e8d 0 172px,#228d8d 0 184px,#228b8d 0 194px,#23888e 0 206px,#25848e 0 218px,#27808e 0 230px,#297a8e 0 240px,#2b758e 0 252px,#2d718e 0 264px,#2f6c8e 0 274px,#31678e 0 288px)"></i>
<i style="top:367px;height:10px;background:linear-gradient(90deg,#2e6f8e 0 12px,#2c738e 0 24px,#2b758e 0 34px,#2a788e 0 46px,#287d8e 0 58px,#26818e 0 70px,#25848e 0 80px,#25858e 0 92px,#24868e 0 104px,#23888e 0 114px,#23898e 0 150px,#23888e 0 160px,#24868e 0 172px,#25858e 0 184px,#25848e 0 194px,#26818e 0 206px,#287d8e 0 218px,#29798e 0 230px,#2b758e 0 240px,#2d718e 0 252px,#2f6c8e 0 264px,#306a8e 0 274px,#31678e 0 288px)"></i>
<i style="top:377px;height:12px;background:linear-gradient(90deg,#2e6f8e 0 34px,#2d718e 0 58px,#2c738e 0 70px,#2b758e 0 80px,#29798e 0 92px,#287d8e 0 104px,#27808e 0 114px,#26828e 0 138px,#25848e 0 172px,#26828e 0 194px,#277e8e 0 206px,#297a8e 0 218px,#2a778e 0 230px,#2c738e 0 240px,#2d718e 0 252px,#2e6f8e 0 264px,#2e6d8e 0 274px,#2f6c8e 0 288px)"></i>
<i style="top:389px;height:12px;background:linear-gradient(90deg,#306a8e 0 34px,#2f6c8e 0 58px,#2d708e 0 70px,#2c738e 0 80px,#2b758e 0 92px,#2a788e 0 104px,#297a8e 0 114px,#287d8e 0 126px,#277e8e 0 138px,#27808e 0 172px,#277e8e 0 184px,#287d8e 0 194px,#29798e 0 206px,#2b758e 0 218px,#2c738e 0 230px,#2d718e 0 240px,#2e6f8e 0 252px,#2f6c8e 0 288px)"></i>
<i style="top:401px;height:12px;background:linear-gradient(90deg,#365d8d 0 24px,#375a8c 0 58px,#355e8d 0 70px,#33628d 0 80px,#31668e 0 92px,#306a8e 0 104px,#2f6c8e 0 114px,#2e6f8e 0 126px,#2d708e 0 138px,#2d718e 0 172px,#2d708e 0 184px,#2e6f8e 0 194px,#2e6d8e 0 206px,#2f6c8e 0 240px,#2f6b8e 0 252px,#306a8e 0 264px,#2f6b8e 0 274px,#2f6c8e 0 288px)"></i>
<i style="top:413px;height:10px;background:linear-gradient(90deg,#3a548c 0 12px,#3b528b 0 24px,#3e4c8a 0 34px,#3e4989 0 58px,#3d4e8a 0 70px,#3b528b 0 80px,#38588c 0 92px,#365d8d 0 104px,#355f8d 0 114px,#33628d 0 126px,#32648e 0 138px,#31678e 0 172px,#31688e 0 184px,#306a8e 0 194px,#2f6b8e 0 206px,#2f6c8e 0 240px,#2e6f8e 0 252px,#2d718e 0 288px)"></i>
<i style="top:423px;height:12px;background:linear-gradient(90deg,#3b528b 0 12px,#3a548c 0 24px,#3e4989 0 34px,#404688 0 58px,#3f4889 0 70px,#3e4989 0 80px,#3d4e8a 0 92px,#3b528b 0 104px,#38588c 0 114px,#365d8d 0 126px,#33628d 0 138px,#31678e 0 150px,#306a8e 0 160px,#2f6c8e 0 172px,#2d708e 0 184px,#2c738e 0 194px,#2b758e 0 206px,#2a788e 0 218px,#297a8e 0 230px,#287d8e 0 240px,#27808e 0 252px,#26828e 0 274px,#25848e 0 288px)"></i>
<i style="top:435px;height:12px;background:linear-gradient(90deg,#33628d 0 12px,#31678e 0 24px,#365d8d 0 34px,#375a8c 0 58px,#375b8d 0 70px,#365d8d 0 80px,#33628d 0 92px,#31678e 0 104px,#2f6b8e 0 114px,#2e6f8e 0 126px,#2c728e 0 138px,#2b758e 0 150px,#29798e 0 160px,#287d8e 0 172px,#26818e 0 184px,#25848e 0 194px,#23898e 0 206px,#218e8d 0 218px,#20928c 0 230px,#1f958b 0 240px,#1f968b 0 252px,#1f978b 0 288px)"></i>
<i style="top:447px;height:12px;background:linear-gradient(90deg,#2c738e 0 24px,#2e6f8e 0 58px,#2d718e 0 70px,#2c738e 0 80px,#2b758e 0 92px,#2a788e 0 104px,#287c8e 0 114px,#27808e 0 126px,#26828e 0 138px,#24868e 0 150px,#238a8d 0 160px,#218e8d 0 172px,#20928c 0 184px,#1f978b 0 194px,#1e9c89 0 206px,#1fa188 0 218px,#20a486 0 230px,#22a884 0 288px)"></i>
<i style="top:459px;height:10px;background:linear-gradient(90deg,#24868e 0 12px,#25848e 0 24px,#26828e 0 58px,#25848e 0 70px,#24868e 0 80px,#23898e 0 92px,#228b8d 0 104px,#218e8d 0 114px,#21918c 0 126px,#20938c 0 138px,#1f978b 0 150px,#1e9c89 0 160px,#1fa188 0 172px,#22a785 0 184px,#26ad81 0 194px,#29af7f 0 206px,#2cb17e 0 218px,#2fb47c 0 230px,#32b67a 0 288px)"></i>
<i style="top:469px;height:12px;background:linear-gradient(90deg,#228b8d 0 12px,#218e8d 0 24px,#20928c 0 34px,#1f958b 0 58px,#1f968b 0 70px,#1f978b 0 80px,#1e9b8a 0 92px,#1f9f88 0 104px,#1fa188 0 114px,#20a386 0 126px,#22a884 0 138px,#26ad81 0 150px,#29af7f 0 160px,#2cb17e 0 172px,#2fb47c 0 184px,#32b67a 0 194px,#37b878 0 206px,#3bbb75 0 240px,#37b878 0 252px,#32b67a 0 264px,#2cb17e 0 274px,#26ad81 0 288px)"></i>
<i style="top:481px;height:12px;background:linear-gradient(90deg,#21918c 0 12px,#20928c 0 24px,#1f958b 0 34px,#1f978b 0 46px,#1f9a8a 0 58px,#1e9c89 0 70px,#1f9f88 0 80px,#1fa088 0 92px,#1fa188 0 104px,#20a486 0 114px,#22a884 0 126px,#25ab82 0 138px,#26ad81 0 218px,#25ab82 0 230px,#22a884 0 240px,#20a486 0 252px,#1fa188 0 264px,#1f9e89 0 274px,#1f9a8a 0 288px)"></i>
<i style="top:493px;height:10px;background:linear-gradient(90deg,#25848e 0 12px,#228b8d 0 24px,#21918c 0 34px,#20928c 0 46px,#1f958b 0 58px,#1f978b 0 70px,#1f9a8a 0 80px,#1e9c89 0 92px,#1f9f88 0 104px,#1fa088 0 114px,#1fa188 0 150px,#1fa088 0 160px,#1f9f88 0 172px,#1e9c89 0 184px,#1f9a8a 0 194px,#1f978b 0 206px,#1f958b 0 218px,#20928c 0 230px,#21918c 0 240px,#228b8d 0 252px,#24868e 0 264px,#26828e 0 274px,#287d8e 0 288px)"></i>
<i style="top:503px;height:12px;background:linear-gradient(90deg,#2a788e 0 12px,#287d8e 0 24px,#26828e 0 34px,#24868e 0 46px,#228b8d 0 58px,#218e8d 0 70px,#21918c 0 80px,#20928c 0 92px,#1f958b 0 104px,#1f968b 0 114px,#1f978b 0 150px,#1f968b 0 160px,#1f958b 0 172px,#20928c 0 184px,#21918c 0 194px,#228b8d 0 206px,#24868e 0 218px,#26828e 0 230px,#287d8e 0 240px,#2a778e 0 252px,#2d718e 0 264px,#2f6c8e 0 274px,#31678e 0 288px)"></i>
<i style="top:515px;height:12px;background:linear-gradient(90deg,#2a788e 0 12px,#27808e 0 24px,#25848e 0 34px,#23898e 0 46px,#218e8d 0 58px,#21918c 0 70px,#20928c 0 80px,#1f958b 0 92px,#1f978b 0 104px,#1f988b 0 114px,#1f9a8a 0 126px,#1f988b 0 138px,#1f978b 0 150px,#1f968b 0 160px,#1f958b 0 172px,#20928c 0 184px,#218e8d 0 194px,#23898e 0 206px,#25848e 0 218px,#287d8e 0 230px,#2b758e 0 240px,#2e6f8e 0 252px,#31678e 0 264px,#365d8d 0 274px,#3b528b 0 288px)"></i>
<i style="top:527px;height:12px;background:linear-gradient(90deg,#26828e 0 12px,#24868e 0 24px,#218e8d 0 34px,#20928c 0 46px,#1f978b 0 58px,#1e9b8a 0 70px,#1f9f88 0 80px,#1fa188 0 92px,#20a386 0 104px,#21a685 0 114px,#22a884 0 126px,#21a685 0 138px,#20a386 0 150px,#1fa188 0 160px,#1f9f88 0 172px,#1e9b8a 0 184px,#1f978b 0 194px,#20928c 0 206px,#218e8d 0 218px,#23898e 0 230px,#25848e 0 240px,#287d8e 0 252px,#2b758e 0 264px,#2f6c8e 0 274px,#33628d 0 288px)"></i>
<i style="top:539px;height:10px;background:linear-gradient(90deg,#21918c 0 12px,#1f978b 0 24px,#1fa188 0 34px,#22a884 0 46px,#26ad81 0 58px,#29af7f 0 70px,#2cb17e 0 80px,#2fb47c 0 92px,#32b67a 0 126px,#2fb47c 0 138px,#2cb17e 0 150px,#29af7f 0 160px,#26ad81 0 172px,#22a785 0 184px,#1fa188 0 194px,#1e9c89 0 206px,#1f978b 0 218px,#20928c 0 230px,#218e8d 0 240px,#23888e 0 252px,#26828e 0 264px,#297a8e 0 274px,#2c738e 0 288px)"></i>
<i style="top:549px;height:12px;background:linear-gradient(90deg,#1f9f88 0 12px,#26ad81 0 24px,#2cb17e 0 34px,#32b67a 0 46px,#3bbb75 0 58px,#40bd72 0 70px,#48c16e 0 80px,#4ec36b 0 92px,#52c569 0 150px,#4ec36b 0 160px,#48c16e 0 172px,#3dbc74 0 184px,#32b67a 0 194px,#2cb17e 0 206px,#26ad81 0 218px,#21a685 0 230px,#1f9f88 0 240px,#1f978b 0 252px,#21918c 0 264px,#238a8d 0 274px,#25848e 0 288px)"></i>
<i style="top:561px;height:12px;background:linear-gradient(90deg,#2cb17e 0 12px,#3bbb75 0 24px,#48c16e 0 34px,#52c569 0 46px,#5ec962 0 58px,#65cb5e 0 70px,#6ece58 0 80px,#77d153 0 92px,#81d34d 0 104px,#84d44b 0 114px,#86d549 0 126px,#81d34d 0 138px,#7ad151 0 150px,#70cf57 0 160px,#69cd5b 0 172px,#5ec962 0 184px,#52c569 0 194px,#48c16e 0 206px,#3fbc73 0 218px,#35b779 0 230px,#2cb17e 0 240px,#23a983 0 252px,#1fa188 0 264px,#1e9b8a 0 274px,#1f958b 0 288px)"></i>
<i style="top:573px;height:12px;background:linear-gradient(90deg,#52c569 0 12px,#69cd5b 0 24px,#7ad151 0 34px,#8ed645 0 46px,#9bd93c 0 58px,#a5db36 0 70px,#b0dd2f 0 80px,#bade28 0 92px,#c2df23 0 104px,#c8e020 0 114px,#cae11f 0 126px,#c2df23 0 138px,#bddf26 0 150px,#b0dd2f 0 160px,#a2da37 0 172px,#95d840 0 184px,#86d549 0 194px,#77d153 0 206px,#69cd5b 0 218px,#5ac864 0 230px,#4ec36b 0 240px,#3fbc73 0 252px,#32b67a 0 264px,#29af7f 0 274px,#22a884 0 288px)"></i>
<i style="top:585px;height:10px;background:linear-gradient(90deg,#69cd5b 0 12px,#86d549 0 24px,#9bd93c 0 34px,#b0dd2f 0 46px,#c2df23 0 58px,#cde11d 0 70px,#d8e219 0 80px,#dfe318 0 92px,#e5e419 0 126px,#e2e418 0 138px,#dfe318 0 150px,#d5e21a 0 160px,#cae11f 0 172px,#bade28 0 184px,#a8db34 0 194px,#9bd93c 0 206px,#8ed645 0 218px,#7ad151 0 230px,#69cd5b 0 240px,#5ac864 0 252px,#4ec36b 0 264px,#3fbc73 0 274px,#32b67a 0 288px)"></i>
<i style="top:595px;height:12px;background:linear-gradient(90deg,#7ad151 0 12px,#95d840 0 24px,#a8db34 0 34px,#bddf26 0 46px,#d2e21b 0 58px,#dae319 0 70px,#e5e419 0 80px,#f1e51d 0 92px,#fde725 0 126px,#fbe723 0 138px,#f8e621 0 150px,#ece51b 0 160px,#dfe318 0 172px,#d5e21a 0 184px,#cae11f 0 194px,#b5de2b 0 206px,#a2da37 0 218px,#95d840 0 230px,#86d549 0 240px,#70cf57 0 252px,#5ec962 0 264px,#52c569 0 274px,#48c16e 0 288px)"></i>
<i style="top:607px;height:12px;background:linear-gradient(90deg,#69cd5b 0 12px,#86d549 0 24px,#9bd93c 0 34px,#b0dd2f 0 46px,#c2df23 0 58px,#d2e21b 0 70px,#dfe318 0 80px,#ece51b 0 92px,#f8e621 0 104px,#fbe723 0 114px,#fde725 0 150px,#f8e621 0 160px,#f1e51d 0 172px,#e5e419 0 184px,#d8e219 0 194px,#cae11f 0 206px,#bddf26 0 218px,#addc30 0 230px,#9bd93c 0 240px,#8bd646 0 252px,#7ad151 0 264px,#6ccd5a 0 274px,#5ec962 0 288px)"></i>
<i style="top:619px;height:12px;background:linear-gradient(90deg,#48c16e 0 12px,#5ec962 0 24px,#6ece58 0 34px,#86d549 0 46px,#9bd93c 0 58px,#addc30 0 70px,#bddf26 0 80px,#c8e020 0 92px,#d2e21b 0 104px,#d8e219 0 114px,#dfe318 0 126px,#e2e418 0 138px,#e5e419 0 150px,#e2e418 0 160px,#dfe318 0 172px,#d8e219 0 184px,#d2e21b 0 194px,#c8e020 0 206px,#bddf26 0 218px,#b0dd2f 0 230px,#a2da37 0 240px,#95d840 0 252px,#86d549 0 264px,#77d153 0 274px,#69cd5b 0 288px)"></i>
<i style="top:631px;height:10px;background:linear-gradient(90deg,#32b67a 0 12px,#3bbb75 0 24px,#48c16e 0 34px,#52c569 0 46px,#5ec962 0 58px,#65cb5e 0 70px,#6ece58 0 80px,#81d34d 0 92px,#95d840 0 104px,#addc30 0 114px,#c2df23 0 126px,#cde11d 0 138px,#d8e219 0 172px,#d5e21a 0 184px,#d2e21b 0 194px,#c8e020 0 206px,#bddf26 0 218px,#b0dd2f 0 230px,#a2da37 0 240px,#9bd93c 0 252px,#95d840 0 264px,#8ed645 0 274px,#86d549 0 288px)"></i>
<i style="top:641px;height:12px;background:linear-gradient(90deg,#2cb17e 0 24px,#32b67a 0 34px,#3bbb75 0 46px,#48c16e 0 58px,#4ec36b 0 70px,#52c569 0 80px,#60ca60 0 92px,#6ece58 0 104px,#81d34d 0 114px,#95d840 0 126px,#9dd93b 0 138px,#a8db34 0 150px,#addc30 0 160px,#b0dd2f 0 194px,#a8db34 0 206px,#a2da37 0 218px,#9dd93b 0 230px,#9bd93c 0 240px,#98d83e 0 252px,#95d840 0 264px,#90d743 0 274px,#8ed645 0 288px)"></i>
<i style="top:653px;height:12px;background:linear-gradient(90deg,#22a884 0 12px,#26ad81 0 24px,#2cb17e 0 34px,#32b67a 0 46px,#37b878 0 58px,#3fbc73 0 70px,#48c16e 0 80px,#52c569 0 92px,#5ec962 0 104px,#63cb5f 0 114px,#69cd5b 0 126px,#70cf57 0 138px,#7ad151 0 150px,#81d34d 0 160px,#86d549 0 240px,#81d34d 0 252px,#7ad151 0 288px)"></i>
<i style="top:665px;height:12px;background:linear-gradient(90deg,#1fa188 0 12px,#22a884 0 24px,#26ad81 0 34px,#2cb17e 0 46px,#32b67a 0 58px,#37b878 0 70px,#3bbb75 0 80px,#3fbc73 0 92px,#44bf70 0 104px,#48c16e 0 114px,#4ec36b 0 126px,#50c46a 0 138px,#52c569 0 150px,#58c765 0 160px,#5ec962 0 240px,#5ac864 0 252px,#58c765 0 264px,#56c667 0 274px,#52c569 0 288px)"></i>
<i style="top:677px;height:10px;background:linear-gradient(90deg,#1f9f88 0 12px,#1fa188 0 24px,#22a884 0 34px,#26ad81 0 58px,#29af7f 0 70px,#2cb17e 0 80px,#2fb47c 0 92px,#32b67a 0 104px,#35b779 0 114px,#37b878 0 126px,#38b977 0 138px,#3bbb75 0 194px,#37b878 0 206px,#32b67a 0 240px,#2fb47c 0 252px,#2cb17e 0 288px)"></i>
<i style="top:687px;height:12px;background:linear-gradient(90deg,#1f9a8a 0 12px,#1f9f88 0 24px,#1fa188 0 34px,#20a386 0 46px,#22a884 0 80px,#25ab82 0 92px,#26ad81 0 150px,#25ab82 0 160px,#22a884 0 194px,#20a486 0 206px,#1fa188 0 218px,#1fa088 0 230px,#1f9f88 0 240px,#1e9c89 0 252px,#1f9a8a 0 264px,#1f988b 0 274px,#1f978b 0 288px)"></i>
<i style="top:699px;height:12px;background:linear-gradient(90deg,#1f958b 0 12px,#1f978b 0 24px,#1f9a8a 0 34px,#1f9f88 0 46px,#1fa188 0 126px,#1fa088 0 138px,#1f9f88 0 150px,#1e9c89 0 160px,#1f9a8a 0 172px,#1f978b 0 184px,#1f958b 0 194px,#20928c 0 206px,#21918c 0 218px,#228b8d 0 230px,#24868e 0 240px,#25848e 0 252px,#26828e 0 264px,#26818e 0 274px,#27808e 0 288px)"></i>
<i style="top:711px;height:12px;background:linear-gradient(90deg,#26828e 0 12px,#25848e 0 24px,#23898e 0 34px,#218e8d 0 46px,#20928c 0 58px,#20938c 0 70px,#1f958b 0 80px,#1f968b 0 92px,#1f978b 0 126px,#1f968b 0 138px,#1f958b 0 150px,#20928c 0 160px,#21918c 0 172px,#228d8d 0 184px,#23898e 0 194px,#25858e 0 206px,#26828e 0 218px,#287c8e 0 230px,#2b758e 0 240px,#2d718e 0 252px,#2f6c8e 0 264px,#306a8e 0 274px,#31678e 0 288px)"></i>
<i style="top:723px;height:11px;background:linear-gradient(90deg,#365d8d 0 12px,#33628d 0 24px,#2f6c8e 0 34px,#2c738e 0 46px,#2a788e 0 58px,#277e8e 0 70px,#25848e 0 80px,#24868e 0 92px,#23898e 0 104px,#228b8d 0 114px,#218e8d 0 126px,#228d8d 0 138px,#228b8d 0 150px,#23888e 0 160px,#25848e 0 172px,#26818e 0 184px,#287d8e 0 194px,#2a778e 0 206px,#2d718e 0 218px,#306a8e 0 230px,#33628d 0 240px,#375b8d 0 252px,#3a548c 0 264px,#3b528b 0 274px,#3c4f8a 0 288px)"></i>
</div>
<div class="p" style="left:1386px;top:199px;width:288px;height:734px">
<i style="top:0px;height:11px;background:linear-gradient(90deg,#1f978b 0 34px,#1f9a8a 0 104px,#1f988b 0 114px,#1f978b 0 150px,#1f968b 0 160px,#1f958b 0 194px,#20928c 0 206px,#21918c 0 218px,#218e8d 0 230px,#228b8d 0 240px,#238a8d 0 252px,#23898e 0 264px,#24868e 0 274px,#25848e 0 288px)"></i>
<i style="top:11px;height:10px;background:linear-gradient(90deg,#26ad81 0 58px,#29af7f 0 68px,#2cb17e 0 126px,#29af7f 0 138px,#26ad81 0 172px,#25ab82 0 184px,#22a884 0 194px,#21a685 0 206px,#20a386 0 218px,#1fa287 0 230px,#1fa188 0 240px,#1fa088 0 252px,#1f9f88 0 264px,#1e9c89 0 274px,#1f9a8a 0 288px)"></i>
<i style="top:21px;height:12px;background:linear-gradient(90deg,#44bf70 0 24px,#48c16e 0 58px,#4cc26c 0 68px,#4ec36b 0 80px,#50c46a 0 92px,#52c569 0 104px,#50c46a 0 114px,#4ec36b 0 126px,#4cc26c 0 138px,#48c16e 0 150px,#44bf70 0 160px,#3fbc73 0 172px,#3bbb75 0 184px,#37b878 0 194px,#35b779 0 206px,#32b67a 0 218px,#2fb47c 0 230px,#2cb17e 0 240px,#29af7f 0 252px,#26ad81 0 288px)"></i>
<i style="top:33px;height:12px;background:linear-gradient(90deg,#44bf70 0 24px,#48c16e 0 46px,#4ec36b 0 58px,#50c46a 0 68px,#52c569 0 80px,#56c667 0 92px,#58c765 0 104px,#5ac864 0 114px,#5ec962 0 126px,#5ac864 0 138px,#58c765 0 150px,#56c667 0 160px,#52c569 0 172px,#4cc26c 0 184px,#44bf70 0 194px,#3dbc74 0 206px,#37b878 0 218px,#35b779 0 230px,#32b67a 0 240px,#2fb47c 0 252px,#2cb17e 0 288px)"></i>
<i style="top:45px;height:12px;background:linear-gradient(90deg,#26ad81 0 12px,#29af7f 0 24px,#2cb17e 0 34px,#2fb47c 0 46px,#32b67a 0 58px,#37b878 0 68px,#3bbb75 0 80px,#3fbc73 0 92px,#44bf70 0 104px,#46c06f 0 114px,#48c16e 0 126px,#4cc26c 0 138px,#4ec36b 0 150px,#48c16e 0 160px,#44bf70 0 172px,#3dbc74 0 184px,#37b878 0 194px,#35b779 0 206px,#32b67a 0 218px,#2fb47c 0 230px,#2cb17e 0 288px)"></i>
<i style="top:57px;height:10px;background:linear-gradient(90deg,#1f9a8a 0 12px,#1e9c89 0 24px,#1f9f88 0 34px,#1fa188 0 46px,#20a386 0 58px,#21a685 0 68px,#22a884 0 80px,#25ab82 0 92px,#26ad81 0 104px,#29af7f 0 114px,#2cb17e 0 172px,#29af7f 0 184px,#26ad81 0 218px,#25ab82 0 230px,#22a884 0 264px,#20a486 0 274px,#1fa188 0 288px)"></i>
<i style="top:67px;height:12px;background:linear-gradient(90deg,#27808e 0 12px,#26828e 0 24px,#25848e 0 34px,#23898e 0 46px,#228b8d 0 58px,#218f8d 0 68px,#20928c 0 80px,#1f968b 0 92px,#1f9a8a 0 104px,#1e9c89 0 114px,#1f9f88 0 126px,#1fa088 0 138px,#1fa188 0 150px,#1fa088 0 160px,#1f9f88 0 194px,#1e9c89 0 206px,#1f9a8a 0 218px,#1f988b 0 230px,#1f978b 0 240px,#1f968b 0 252px,#1f958b 0 264px,#20928c 0 274px,#21918c 0 288px)"></i>
<i style="top:79px;height:12px;background:linear-gradient(90deg,#3a548c 0 12px,#38588c 0 24px,#365d8d 0 34px,#33628d 0 46px,#31678e 0 58px,#2f6c8e 0 68px,#2d718e 0 80px,#2a778e 0 92px,#287d8e 0 104px,#26828e 0 114px,#24868e 0 126px,#238a8d 0 138px,#218e8d 0 150px,#21918c 0 160px,#20928c 0 206px,#21918c 0 218px,#218e8d 0 230px,#228b8d 0 240px,#23898e 0 252px,#24868e 0 264px,#25848e 0 274px,#26828e 0 288px)"></i>
<i style="top:91px;height:12px;background:linear-gradient(90deg,#472a7a 0 12px,#46307e 0 24px,#424086 0 34px,#3e4989 0 46px,#3b528b 0 58px,#375a8c 0 68px,#33628d 0 80px,#31688e 0 92px,#2e6f8e 0 104px,#2c738e 0 114px,#2a788e 0 126px,#287d8e 0 138px,#26828e 0 160px,#25848e 0 194px,#26828e 0 218px,#27808e 0 230px,#287d8e 0 240px,#29798e 0 252px,#2b758e 0 264px,#2d718e 0 274px,#2f6c8e 0 288px)"></i>
<i style="top:103px;height:10px;background:linear-gradient(90deg,#481a6c 0 12px,#482475 0 24px,#472e7c 0 34px,#443a83 0 46px,#404688 0 58px,#3d4e8a 0 68px,#3a548c 0 80px,#355e8d 0 92px,#31678e 0 104px,#2f6c8e 0 114px,#2d718e 0 126px,#2c738e 0 138px,#2b758e 0 150px,#2a778e 0 160px,#2a788e 0 194px,#2a778e 0 206px,#2b758e 0 218px,#2c738e 0 230px,#2d718e 0 240px,#2f6c8e 0 252px,#31678e 0 264px,#33628d 0 274px,#365d8d 0 288px)"></i>
<i style="top:113px;height:12px;background:linear-gradient(90deg,#440154 0 12px,#460b5e 0 24px,#481a6c 0 34px,#482878 0 46px,#463480 0 58px,#433e85 0 68px,#404688 0 80px,#3c4f8a 0 92px,#38588c 0 104px,#365d8d 0 114px,#33628d 0 126px,#31668e 0 138px,#306a8e 0 150px,#2f6b8e 0 160px,#2f6c8e 0 194px,#306a8e 0 206px,#31678e 0 218px,#33628d 0 230px,#365d8d 0 240px,#38588c 0 252px,#3b528b 0 264px,#3e4a89 0 274px,#414487 0 288px)"></i>
<i style="top:125px;height:12px;background:linear-gradient(90deg,#450457 0 12px,#471063 0 24px,#481d6f 0 34px,#482475 0 46px,#472e7c 0 58px,#463480 0 68px,#443a83 0 80px,#424186 0 92px,#3e4989 0 104px,#3c4f8a 0 114px,#3a548c 0 126px,#39558c 0 138px,#38588c 0 172px,#39558c 0 184px,#3a548c 0 194px,#3a538b 0 206px,#3b528b 0 218px,#3c508b 0 230px,#3c4f8a 0 240px,#3e4c8a 0 252px,#3e4989 0 264px,#3f4889 0 274px,#404688 0 288px)"></i>
<i style="top:137px;height:12px;background:linear-gradient(90deg,#46085c 0 12px,#471365 0 24px,#481d6f 0 34px,#482878 0 46px,#472e7c 0 58px,#46337f 0 68px,#453781 0 80px,#443b84 0 92px,#424086 0 104px,#414487 0 114px,#404688 0 150px,#404588 0 160px,#414487 0 172px,#424186 0 184px,#424086 0 194px,#433e85 0 206px,#443a83 0 264px,#443983 0 274px,#453781 0 288px)"></i>
<i style="top:149px;height:10px;background:linear-gradient(90deg,#481d6f 0 12px,#482475 0 24px,#472a7a 0 34px,#472e7c 0 46px,#46307e 0 58px,#463480 0 68px,#453781 0 80px,#443983 0 92px,#443a83 0 104px,#433e85 0 114px,#424086 0 126px,#433e85 0 138px,#443a83 0 172px,#453781 0 184px,#463480 0 194px,#46337f 0 206px,#46307e 0 288px)"></i>
<i style="top:159px;height:12px;background:linear-gradient(90deg,#46307e 0 24px,#453781 0 34px,#443a83 0 46px,#424086 0 58px,#424186 0 68px,#414487 0 80px,#404588 0 92px,#404688 0 104px,#3f4889 0 114px,#3e4989 0 126px,#3f4889 0 138px,#404688 0 150px,#404588 0 160px,#414487 0 172px,#424186 0 184px,#424086 0 194px,#433e85 0 206px,#443a83 0 264px,#443b84 0 274px,#433e85 0 288px)"></i>
<i style="top:171px;height:12px;background:linear-gradient(90deg,#3b528b 0 24px,#3a548c 0 34px,#38588c 0 46px,#375a8c 0 58px,#375b8d 0 68px,#365d8d 0 80px,#355e8d 0 92px,#355f8d 0 150px,#355e8d 0 160px,#365d8d 0 172px,#375b8d 0 184px,#375a8c 0 194px,#38598c 0 206px,#38588c 0 218px,#39558c 0 230px,#3a548c 0 240px,#3a538b 0 252px,#3b528b 0 288px)"></i>
<i style="top:183px;height:12px;background:linear-gradient(90deg,#2c738e 0 24px,#2b758e 0 46px,#2a788e 0 126px,#2a778e 0 138px,#2b758e 0 172px,#2b748e 0 184px,#2c738e 0 194px,#2c728e 0 206px,#2d718e 0 218px,#2e6f8e 0 230px,#2f6c8e 0 240px,#2f6b8e 0 252px,#306a8e 0 264px,#31688e 0 274px,#31678e 0 288px)"></i>
<i style="top:195px;height:10px;background:linear-gradient(90deg,#24868e 0 34px,#23898e 0 46px,#228b8d 0 58px,#228d8d 0 68px,#218e8d 0 150px,#228d8d 0 160px,#228b8d 0 172px,#238a8d 0 184px,#23898e 0 194px,#24868e 0 206px,#25848e 0 218px,#26828e 0 240px,#26818e 0 252px,#27808e 0 264px,#287d8e 0 274px,#297a8e 0 288px)"></i>
<i style="top:205px;height:12px;background:linear-gradient(90deg,#1f958b 0 24px,#1f978b 0 34px,#1f9a8a 0 58px,#1e9c89 0 68px,#1f9f88 0 80px,#1fa088 0 92px,#1fa188 0 150px,#1fa088 0 160px,#1f9f88 0 172px,#1e9c89 0 184px,#1f9a8a 0 194px,#1f988b 0 206px,#1f978b 0 218px,#1f968b 0 230px,#1f958b 0 240px,#20928c 0 252px,#21918c 0 264px,#218e8d 0 274px,#228b8d 0 288px)"></i>
<i style="top:217px;height:12px;background:linear-gradient(90deg,#1f978b 0 12px,#1f9a8a 0 24px,#1f9f88 0 46px,#1fa188 0 58px,#1fa287 0 68px,#20a386 0 80px,#21a685 0 92px,#22a884 0 104px,#25ab82 0 114px,#26ad81 0 150px,#25ab82 0 160px,#22a884 0 172px,#21a685 0 184px,#20a386 0 194px,#1fa287 0 206px,#1fa188 0 218px,#1fa088 0 230px,#1f9f88 0 240px,#1e9b8a 0 252px,#1f978b 0 264px,#1f968b 0 274px,#1f958b 0 288px)"></i>
<i style="top:229px;height:10px;background:linear-gradient(90deg,#1f978b 0 12px,#1f9a8a 0 24px,#1f9f88 0 46px,#1fa188 0 58px,#20a486 0 68px,#22a884 0 80px,#25ab82 0 92px,#26ad81 0 126px,#29af7f 0 138px,#2cb17e 0 172px,#29af7f 0 184px,#26ad81 0 218px,#25ab82 0 230px,#22a884 0 240px,#20a486 0 252px,#1fa188 0 264px,#1fa088 0 274px,#1f9f88 0 288px)"></i>
<i style="top:239px;height:12px;background:linear-gradient(90deg,#1f958b 0 12px,#1f978b 0 24px,#1f9a8a 0 34px,#1e9c89 0 46px,#1f9f88 0 58px,#1fa088 0 68px,#1fa188 0 80px,#20a486 0 92px,#22a884 0 104px,#25ab82 0 114px,#26ad81 0 126px,#29af7f 0 138px,#2cb17e 0 194px,#29af7f 0 206px,#26ad81 0 218px,#25ab82 0 230px,#22a884 0 240px,#20a486 0 252px,#1fa188 0 264px,#1fa088 0 274px,#1f9f88 0 288px)"></i>
<i style="top:251px;height:12px;background:linear-gradient(90deg,#24868e 0 12px,#25848e 0 24px,#24868e 0 34px,#228b8d 0 46px,#218e8d 0 58px,#20928c 0 68px,#1f978b 0 80px,#1e9c89 0 92px,#1fa188 0 104px,#20a486 0 114px,#22a884 0 126px,#25ab82 0 138px,#26ad81 0 172px,#25ab82 0 184px,#22a884 0 218px,#20a486 0 230px,#1fa188 0 240px,#1fa088 0 252px,#1f9f88 0 264px,#1e9b8a 0 274px,#1f978b 0 288px)"></i>
<i style="top:263px;height:12px;background:linear-gradient(90deg,#25848e 0 24px,#24868e 0 34px,#228b8d 0 46px,#218e8d 0 58px,#20938c 0 68px,#1f9a8a 0 80px,#1f9f88 0 92px,#20a386 0 104px,#22a884 0 114px,#26ad81 0 126px,#29af7f 0 138px,#2cb17e 0 194px,#29af7f 0 206px,#26ad81 0 218px,#22a785 0 230px,#1fa188 0 240px,#1f9e89 0 252px,#1f9a8a 0 264px,#1f978b 0 274px,#1f958b 0 288px)"></i>
<i style="top:275px;height:10px;background:linear-gradient(90deg,#1f9f88 0 24px,#1fa188 0 34px,#22a884 0 58px,#25ab82 0 68px,#26ad81 0 80px,#29af7f 0 92px,#2cb17e 0 104px,#31b57b 0 114px,#37b878 0 126px,#3dbc74 0 138px,#44bf70 0 150px,#40bd72 0 160px,#3fbc73 0 172px,#38b977 0 184px,#32b67a 0 194px,#2fb47c 0 206px,#2cb17e 0 218px,#26ad81 0 230px,#22a884 0 240px,#20a386 0 252px,#1f9f88 0 264px,#1f9a8a 0 274px,#1f958b 0 288px)"></i>
<i style="top:285px;height:12px;background:linear-gradient(90deg,#2cb17e 0 24px,#32b67a 0 34px,#37b878 0 46px,#3bbb75 0 58px,#40bd72 0 68px,#48c16e 0 80px,#4ec36b 0 92px,#52c569 0 104px,#5ac864 0 114px,#63cb5f 0 126px,#65cb5e 0 138px,#69cd5b 0 150px,#63cb5f 0 160px,#5ec962 0 172px,#56c667 0 184px,#4ec36b 0 194px,#44bf70 0 206px,#3bbb75 0 218px,#2fb47c 0 230px,#26ad81 0 240px,#22a785 0 252px,#1fa188 0 264px,#1f988b 0 274px,#21918c 0 288px)"></i>
<i style="top:297px;height:12px;background:linear-gradient(90deg,#5ec962 0 24px,#63cb5f 0 34px,#69cd5b 0 58px,#70cf57 0 68px,#7ad151 0 80px,#81d34d 0 92px,#86d549 0 104px,#8bd646 0 114px,#8ed645 0 150px,#84d44b 0 160px,#7ad151 0 172px,#6ccd5a 0 184px,#5ec962 0 194px,#50c46a 0 206px,#44bf70 0 218px,#37b878 0 230px,#2cb17e 0 240px,#22a884 0 252px,#1f9f88 0 264px,#20928c 0 274px,#24868e 0 288px)"></i>
<i style="top:309px;height:12px;background:linear-gradient(90deg,#86d549 0 46px,#8ed645 0 80px,#95d840 0 92px,#9bd93c 0 104px,#9dd93b 0 114px,#a2da37 0 126px,#9dd93b 0 138px,#9bd93c 0 150px,#90d743 0 160px,#86d549 0 172px,#77d153 0 184px,#69cd5b 0 194px,#5ac864 0 206px,#4ec36b 0 218px,#3bbb75 0 230px,#2cb17e 0 240px,#22a884 0 252px,#1f9f88 0 264px,#21918c 0 274px,#26828e 0 288px)"></i>
<i style="top:321px;height:10px;background:linear-gradient(90deg,#69cd5b 0 80px,#70cf57 0 92px,#7ad151 0 150px,#70cf57 0 160px,#69cd5b 0 172px,#5ec962 0 184px,#52c569 0 194px,#46c06f 0 206px,#3bbb75 0 218px,#2fb47c 0 230px,#26ad81 0 240px,#21a685 0 252px,#1f9f88 0 264px,#21918c 0 274px,#26828e 0 288px)"></i>
<i style="top:331px;height:12px;background:linear-gradient(90deg,#48c16e 0 12px,#3bbb75 0 58px,#3dbc74 0 68px,#3fbc73 0 80px,#40bd72 0 92px,#44bf70 0 104px,#46c06f 0 114px,#48c16e 0 150px,#44bf70 0 160px,#3fbc73 0 172px,#38b977 0 184px,#32b67a 0 194px,#2cb17e 0 206px,#26ad81 0 218px,#22a785 0 230px,#1fa188 0 240px,#1f988b 0 252px,#21918c 0 264px,#25858e 0 274px,#297a8e 0 288px)"></i>
<i style="top:343px;height:12px;background:linear-gradient(90deg,#2cb17e 0 12px,#26ad81 0 24px,#22a884 0 58px,#25ab82 0 68px,#26ad81 0 104px,#29af7f 0 114px,#2cb17e 0 150px,#29af7f 0 160px,#26ad81 0 172px,#25ab82 0 184px,#22a884 0 194px,#20a486 0 206px,#1fa188 0 218px,#1e9b8a 0 230px,#1f958b 0 240px,#228d8d 0 252px,#25848e 0 264px,#297a8e 0 274px,#2d718e 0 288px)"></i>
<i style="top:355px;height:12px;background:linear-gradient(90deg,#22a884 0 12px,#1fa188 0 24px,#1f9a8a 0 58px,#1e9c89 0 68px,#1f9f88 0 80px,#1fa088 0 92px,#1fa188 0 150px,#1fa088 0 160px,#1f9f88 0 172px,#1e9c89 0 184px,#1f9a8a 0 194px,#1f978b 0 206px,#1f958b 0 218px,#21918c 0 230px,#228b8d 0 240px,#25848e 0 252px,#287d8e 0 264px,#2b748e 0 274px,#2f6c8e 0 288px)"></i>
<i style="top:367px;height:10px;background:linear-gradient(90deg,#20a386 0 12px,#1f9f88 0 24px,#1f978b 0 46px,#1f9a8a 0 58px,#1e9c89 0 68px,#1f9f88 0 80px,#1fa088 0 92px,#1fa188 0 126px,#1fa088 0 138px,#1f9f88 0 150px,#1e9c89 0 160px,#1f9a8a 0 172px,#1f978b 0 184px,#1f958b 0 194px,#20928c 0 206px,#21918c 0 218px,#228b8d 0 230px,#24868e 0 240px,#27808e 0 252px,#2a788e 0 264px,#2c728e 0 274px,#2f6c8e 0 288px)"></i>
<i style="top:377px;height:12px;background:linear-gradient(90deg,#1f9f88 0 12px,#1f9a8a 0 24px,#1f9f88 0 34px,#1f9a8a 0 58px,#1e9c89 0 68px,#1f9f88 0 80px,#1fa088 0 92px,#1fa188 0 126px,#1fa088 0 138px,#1f9f88 0 150px,#1e9c89 0 160px,#1f9a8a 0 172px,#1f978b 0 184px,#1f958b 0 194px,#21918c 0 206px,#228b8d 0 218px,#24868e 0 230px,#26828e 0 240px,#287d8e 0 252px,#2a788e 0 264px,#2a778e 0 274px,#2b758e 0 288px)"></i>
<i style="top:389px;height:12px;background:linear-gradient(90deg,#1f9a8a 0 12px,#21918c 0 24px,#1f978b 0 34px,#21918c 0 58px,#218f8d 0 68px,#218e8d 0 80px,#218f8d 0 92px,#21918c 0 126px,#218f8d 0 138px,#218e8d 0 150px,#228d8d 0 160px,#228b8d 0 172px,#23898e 0 184px,#24868e 0 194px,#25848e 0 206px,#26828e 0 218px,#277e8e 0 230px,#297a8e 0 240px,#2a788e 0 252px,#2b758e 0 264px,#2b748e 0 274px,#2c738e 0 288px)"></i>
<i style="top:401px;height:12px;background:linear-gradient(90deg,#21918c 0 12px,#24868e 0 34px,#27808e 0 46px,#287d8e 0 58px,#287c8e 0 68px,#297a8e 0 80px,#29798e 0 92px,#2a788e 0 150px,#2a778e 0 160px,#2b758e 0 194px,#2b748e 0 206px,#2c738e 0 218px,#2d718e 0 230px,#2e6f8e 0 288px)"></i>
<i style="top:413px;height:10px;background:linear-gradient(90deg,#228b8d 0 12px,#27808e 0 34px,#2b758e 0 46px,#2e6f8e 0 58px,#2f6c8e 0 68px,#306a8e 0 80px,#31688e 0 92px,#31678e 0 194px,#31688e 0 206px,#306a8e 0 218px,#2f6b8e 0 230px,#2f6c8e 0 240px,#2e6d8e 0 252px,#2e6f8e 0 288px)"></i>
<i style="top:423px;height:12px;background:linear-gradient(90deg,#228b8d 0 12px,#27808e 0 24px,#287d8e 0 34px,#2d718e 0 46px,#31678e 0 58px,#355f8d 0 68px,#38588c 0 80px,#3a548c 0 92px,#3b528b 0 126px,#3a538b 0 138px,#3a548c 0 150px,#38598c 0 160px,#365d8d 0 172px,#355f8d 0 184px,#33628d 0 194px,#31668e 0 206px,#306a8e 0 218px,#2e6d8e 0 230px,#2d718e 0 240px,#2c738e 0 252px,#2b758e 0 264px,#2b748e 0 274px,#2c738e 0 288px)"></i>
<i style="top:435px;height:12px;background:linear-gradient(90deg,#228b8d 0 12px,#25848e 0 24px,#297a8e 0 34px,#2d718e 0 46px,#31678e 0 58px,#33628d 0 68px,#365d8d 0 80px,#375a8c 0 92px,#38588c 0 104px,#375a8c 0 114px,#365d8d 0 126px,#355e8d 0 138px,#355f8d 0 150px,#31668e 0 160px,#2f6c8e 0 172px,#2d708e 0 184px,#2c738e 0 194px,#2b758e 0 206px,#2a788e 0 218px,#287d8e 0 230px,#26828e 0 240px,#25848e 0 252px,#24868e 0 264px,#25858e 0 274px,#25848e 0 288px)"></i>
<i style="top:447px;height:12px;background:linear-gradient(90deg,#1f958b 0 12px,#228b8d 0 24px,#27808e 0 34px,#2b758e 0 46px,#2d718e 0 58px,#2e6d8e 0 68px,#306a8e 0 80px,#2f6b8e 0 92px,#2f6c8e 0 104px,#2e6d8e 0 114px,#2e6f8e 0 126px,#2c728e 0 138px,#2b758e 0 150px,#297a8e 0 160px,#27808e 0 172px,#25848e 0 184px,#23898e 0 194px,#218f8d 0 206px,#1f958b 0 218px,#1f9a8a 0 230px,#1f9f88 0 240px,#1fa088 0 252px,#1fa188 0 264px,#1fa088 0 274px,#1f9f88 0 288px)"></i>
<i style="top:459px;height:10px;background:linear-gradient(90deg,#1fa188 0 12px,#1f978b 0 24px,#24868e 0 34px,#26828e 0 46px,#27808e 0 58px,#277e8e 0 68px,#287d8e 0 80px,#27808e 0 92px,#26828e 0 104px,#25848e 0 114px,#24868e 0 126px,#238a8d 0 138px,#218e8d 0 150px,#20928c 0 160px,#1f978b 0 172px,#1fa088 0 184px,#22a884 0 194px,#26ad81 0 206px,#2cb17e 0 218px,#31b57b 0 230px,#37b878 0 240px,#38b977 0 252px,#3bbb75 0 264px,#37b878 0 274px,#32b67a 0 288px)"></i>
<i style="top:469px;height:12px;background:linear-gradient(90deg,#22a884 0 12px,#1fa188 0 24px,#1f958b 0 34px,#21918c 0 58px,#20928c 0 80px,#1f958b 0 92px,#1f978b 0 104px,#1e9b8a 0 114px,#1f9f88 0 126px,#20a386 0 138px,#22a884 0 150px,#26ad81 0 160px,#2cb17e 0 172px,#31b57b 0 184px,#37b878 0 194px,#3fbc73 0 206px,#48c16e 0 218px,#4cc26c 0 230px,#4ec36b 0 240px,#48c16e 0 252px,#44bf70 0 264px,#37b878 0 274px,#2cb17e 0 288px)"></i>
<i style="top:481px;height:12px;background:linear-gradient(90deg,#1f9f88 0 46px,#1fa188 0 58px,#1fa287 0 68px,#20a386 0 80px,#21a685 0 92px,#22a884 0 104px,#25ab82 0 114px,#26ad81 0 150px,#29af7f 0 160px,#2cb17e 0 218px,#29af7f 0 230px,#26ad81 0 240px,#25ab82 0 252px,#22a884 0 264px,#20a386 0 274px,#1f9f88 0 288px)"></i>
<i style="top:493px;height:10px;background:linear-gradient(90deg,#228b8d 0 12px,#21918c 0 24px,#1f978b 0 34px,#1f9a8a 0 46px,#1f9f88 0 80px,#1fa088 0 92px,#1fa188 0 150px,#1fa088 0 160px,#1f9f88 0 172px,#1e9c89 0 184px,#1f9a8a 0 194px,#1f978b 0 206px,#1f958b 0 218px,#20928c 0 230px,#21918c 0 240px,#228b8d 0 252px,#24868e 0 264px,#26828e 0 274px,#27808e 0 288px)"></i>
<i style="top:503px;height:12px;background:linear-gradient(90deg,#297a8e 0 12px,#26828e 0 24px,#228b8d 0 34px,#218e8d 0 46px,#20928c 0 58px,#20938c 0 68px,#1f958b 0 80px,#1f968b 0 92px,#1f978b 0 126px,#1f968b 0 138px,#1f958b 0 150px,#20928c 0 160px,#21918c 0 172px,#228d8d 0 184px,#23898e 0 194px,#24868e 0 206px,#25848e 0 218px,#27808e 0 230px,#297a8e 0 240px,#2b758e 0 252px,#2d718e 0 264px,#306a8e 0 274px,#33628d 0 288px)"></i>
<i style="top:515px;height:12px;background:linear-gradient(90deg,#2a788e 0 12px,#26828e 0 24px,#23898e 0 34px,#218e8d 0 46px,#20928c 0 58px,#20938c 0 68px,#1f958b 0 80px,#1f968b 0 92px,#1f978b 0 126px,#1f968b 0 138px,#1f958b 0 150px,#20928c 0 160px,#218e8d 0 172px,#238a8d 0 184px,#24868e 0 194px,#26828e 0 206px,#27808e 0 218px,#29798e 0 230px,#2c738e 0 240px,#2f6b8e 0 252px,#33628d 0 264px,#38598c 0 274px,#3c4f8a 0 288px)"></i>
<i style="top:527px;height:12px;background:linear-gradient(90deg,#2a788e 0 12px,#25848e 0 24px,#218e8d 0 34px,#1f958b 0 46px,#1f978b 0 58px,#1e9b8a 0 68px,#1f9f88 0 80px,#1fa088 0 92px,#1fa188 0 126px,#1fa088 0 138px,#1f9f88 0 150px,#1e9b8a 0 160px,#1f978b 0 172px,#20938c 0 184px,#21918c 0 194px,#228b8d 0 206px,#24868e 0 218px,#26818e 0 230px,#297a8e 0 240px,#2c738e 0 252px,#2f6c8e 0 264px,#33628d 0 274px,#38588c 0 288px)"></i>
<i style="top:539px;height:10px;background:linear-gradient(90deg,#24868e 0 12px,#21918c 0 24px,#1f978b 0 34px,#1f9f88 0 46px,#20a386 0 58px,#22a884 0 68px,#26ad81 0 150px,#25ab82 0 160px,#22a884 0 172px,#20a386 0 184px,#1f9f88 0 194px,#1f9a8a 0 206px,#1f958b 0 218px,#21918c 0 230px,#228b8d 0 240px,#25858e 0 252px,#27808e 0 264px,#2a788e 0 274px,#2d718e 0 288px)"></i>
<i style="top:549px;height:12px;background:linear-gradient(90deg,#21918c 0 12px,#1f9f88 0 24px,#26ad81 0 34px,#2cb17e 0 46px,#32b67a 0 58px,#38b977 0 68px,#3fbc73 0 80px,#40bd72 0 92px,#44bf70 0 104px,#46c06f 0 114px,#48c16e 0 126px,#46c06f 0 138px,#44bf70 0 150px,#3dbc74 0 160px,#37b878 0 172px,#31b57b 0 184px,#2cb17e 0 194px,#26ad81 0 206px,#22a884 0 218px,#1fa188 0 230px,#1f9a8a 0 240px,#1f958b 0 252px,#21918c 0 264px,#23898e 0 274px,#26828e 0 288px)"></i>
<i style="top:561px;height:12px;background:linear-gradient(90deg,#1fa188 0 12px,#2cb17e 0 24px,#3fbc73 0 34px,#4ec36b 0 46px,#5ec962 0 58px,#63cb5f 0 68px,#69cd5b 0 80px,#70cf57 0 92px,#7ad151 0 126px,#70cf57 0 138px,#69cd5b 0 150px,#63cb5f 0 160px,#5ec962 0 172px,#52c569 0 184px,#48c16e 0 194px,#3dbc74 0 206px,#32b67a 0 218px,#29af7f 0 230px,#22a884 0 240px,#1fa188 0 252px,#1f9a8a 0 264px,#20928c 0 274px,#228b8d 0 288px)"></i>
<i style="top:573px;height:12px;background:linear-gradient(90deg,#32b67a 0 12px,#5ec962 0 24px,#7ad151 0 34px,#8ed645 0 46px,#9bd93c 0 58px,#a5db36 0 68px,#b0dd2f 0 80px,#b2dd2d 0 92px,#b5de2b 0 104px,#b2dd2d 0 114px,#b0dd2f 0 126px,#a8db34 0 138px,#a2da37 0 150px,#98d83e 0 160px,#8ed645 0 172px,#7ad151 0 184px,#69cd5b 0 194px,#5ec962 0 206px,#52c569 0 218px,#40bd72 0 230px,#32b67a 0 240px,#2cb17e 0 252px,#26ad81 0 264px,#22a785 0 274px,#1fa188 0 288px)"></i>
<i style="top:585px;height:10px;background:linear-gradient(90deg,#52c569 0 12px,#7ad151 0 24px,#95d840 0 34px,#b0dd2f 0 46px,#c2df23 0 58px,#cde11d 0 68px,#d8e219 0 80px,#dae319 0 92px,#dfe318 0 126px,#d8e219 0 138px,#d2e21b 0 150px,#c8e020 0 160px,#bddf26 0 172px,#addc30 0 184px,#9bd93c 0 194px,#8bd646 0 206px,#7ad151 0 218px,#65cb5e 0 230px,#52c569 0 240px,#46c06f 0 252px,#3bbb75 0 264px,#2fb47c 0 274px,#26ad81 0 288px)"></i>
<i style="top:595px;height:12px;background:linear-gradient(90deg,#69cd5b 0 12px,#8ed645 0 24px,#a8db34 0 34px,#c2df23 0 46px,#d8e219 0 58px,#e2e418 0 68px,#ece51b 0 80px,#f6e620 0 92px,#fde725 0 126px,#f8e621 0 138px,#f1e51d 0 150px,#e5e419 0 160px,#d8e219 0 172px,#c8e020 0 184px,#b5de2b 0 194px,#a5db36 0 206px,#95d840 0 218px,#7fd34e 0 230px,#69cd5b 0 240px,#5ec962 0 252px,#52c569 0 264px,#46c06f 0 274px,#3bbb75 0 288px)"></i>
<i style="top:607px;height:12px;background:linear-gradient(90deg,#69cd5b 0 12px,#8ed645 0 24px,#a2da37 0 34px,#b5de2b 0 46px,#cae11f 0 58px,#d5e21a 0 68px,#dfe318 0 80px,#ece51b 0 92px,#f8e621 0 104px,#fbe723 0 114px,#fde725 0 150px,#f6e620 0 160px,#ece51b 0 172px,#dfe318 0 184px,#d2e21b 0 194px,#c0df25 0 206px,#b0dd2f 0 218px,#9dd93b 0 230px,#8ed645 0 240px,#7ad151 0 252px,#69cd5b 0 264px,#5ec962 0 274px,#52c569 0 288px)"></i>
<i style="top:619px;height:12px;background:linear-gradient(90deg,#4ec36b 0 12px,#69cd5b 0 24px,#7ad151 0 34px,#95d840 0 46px,#a2da37 0 58px,#b2dd2d 0 68px,#c2df23 0 80px,#cde11d 0 92px,#d8e219 0 104px,#dfe318 0 114px,#e5e419 0 126px,#eae51a 0 138px,#ece51b 0 150px,#e5e419 0 160px,#dfe318 0 172px,#d8e219 0 184px,#d2e21b 0 194px,#c2df23 0 206px,#b5de2b 0 218px,#a5db36 0 230px,#95d840 0 240px,#86d549 0 252px,#7ad151 0 264px,#70cf57 0 274px,#69cd5b 0 288px)"></i>
<i style="top:631px;height:10px;background:linear-gradient(90deg,#3bbb75 0 12px,#44bf70 0 24px,#4ec36b 0 34px,#58c765 0 46px,#5ec962 0 58px,#6ccd5a 0 68px,#7ad151 0 80px,#8ed645 0 92px,#a2da37 0 104px,#b5de2b 0 114px,#cae11f 0 126px,#d2e21b 0 138px,#d8e219 0 150px,#dae319 0 160px,#dfe318 0 172px,#d5e21a 0 184px,#cae11f 0 194px,#bade28 0 206px,#a8db34 0 218px,#9bd93c 0 230px,#8ed645 0 240px,#84d44b 0 252px,#7ad151 0 264px,#70cf57 0 274px,#69cd5b 0 288px)"></i>
<i style="top:641px;height:12px;background:linear-gradient(90deg,#2cb17e 0 12px,#32b67a 0 24px,#3bbb75 0 34px,#44bf70 0 46px,#4ec36b 0 58px,#56c667 0 68px,#5ec962 0 80px,#63cb5f 0 92px,#69cd5b 0 104px,#7ad151 0 114px,#8ed645 0 126px,#98d83e 0 138px,#a2da37 0 150px,#a5db36 0 160px,#a8db34 0 172px,#a5db36 0 184px,#a2da37 0 194px,#9bd93c 0 206px,#95d840 0 218px,#8ed645 0 230px,#86d549 0 264px,#81d34d 0 274px,#7ad151 0 288px)"></i>
<i style="top:653px;height:12px;background:linear-gradient(90deg,#22a884 0 12px,#26ad81 0 24px,#2cb17e 0 34px,#32b67a 0 46px,#37b878 0 58px,#3dbc74 0 68px,#44bf70 0 80px,#4cc26c 0 92px,#52c569 0 104px,#58c765 0 114px,#5ec962 0 126px,#63cb5f 0 138px,#69cd5b 0 150px,#6ccd5a 0 160px,#6ece58 0 194px,#6ccd5a 0 206px,#69cd5b 0 288px)"></i>
<i style="top:665px;height:12px;background:linear-gradient(90deg,#1fa188 0 12px,#20a386 0 24px,#22a884 0 34px,#26ad81 0 58px,#29af7f 0 68px,#2cb17e 0 80px,#2fb47c 0 92px,#32b67a 0 104px,#37b878 0 114px,#3bbb75 0 126px,#3fbc73 0 138px,#44bf70 0 150px,#46c06f 0 160px,#48c16e 0 240px,#46c06f 0 252px,#44bf70 0 264px,#40bd72 0 274px,#3fbc73 0 288px)"></i>
<i style="top:677px;height:10px;background:linear-gradient(90deg,#1f9a8a 0 12px,#1f9f88 0 24px,#1fa188 0 46px,#20a386 0 58px,#21a685 0 68px,#22a884 0 80px,#25ab82 0 92px,#26ad81 0 126px,#29af7f 0 138px,#2cb17e 0 218px,#29af7f 0 230px,#26ad81 0 264px,#25ab82 0 274px,#22a884 0 288px)"></i>
<i style="top:687px;height:12px;background:linear-gradient(90deg,#1f958b 0 24px,#1f978b 0 34px,#1f9a8a 0 58px,#1e9c89 0 68px,#1f9f88 0 80px,#1fa088 0 92px,#1fa188 0 172px,#1fa088 0 184px,#1f9f88 0 194px,#1e9c89 0 206px,#1f9a8a 0 218px,#1f988b 0 230px,#1f978b 0 240px,#1f968b 0 252px,#1f958b 0 264px,#20928c 0 274px,#21918c 0 288px)"></i>
<i style="top:699px;height:12px;background:linear-gradient(90deg,#228b8d 0 24px,#218e8d 0 34px,#21918c 0 46px,#20928c 0 58px,#20938c 0 68px,#1f958b 0 172px,#20928c 0 184px,#21918c 0 194px,#218e8d 0 206px,#228b8d 0 218px,#23898e 0 230px,#24868e 0 240px,#26828e 0 252px,#27808e 0 264px,#287c8e 0 274px,#2a788e 0 288px)"></i>
<i style="top:711px;height:12px;background:linear-gradient(90deg,#2d718e 0 12px,#2b758e 0 24px,#297a8e 0 34px,#27808e 0 46px,#26828e 0 68px,#25848e 0 80px,#25858e 0 92px,#24868e 0 104px,#23888e 0 114px,#23898e 0 126px,#23888e 0 138px,#24868e 0 150px,#25858e 0 160px,#25848e 0 172px,#26828e 0 194px,#277e8e 0 206px,#297a8e 0 218px,#2b758e 0 230px,#2d718e 0 240px,#2f6c8e 0 252px,#31678e 0 264px,#33628d 0 274px,#365d8d 0 288px)"></i>
<i style="top:723px;height:11px;background:linear-gradient(90deg,#3c4f8a 0 12px,#3a548c 0 24px,#365d8d 0 34px,#31678e 0 46px,#2f6c8e 0 58px,#2d708e 0 68px,#2c738e 0 80px,#2b758e 0 92px,#2a788e 0 150px,#2a778e 0 160px,#2b758e 0 172px,#2c738e 0 184px,#2d718e 0 194px,#2f6c8e 0 206px,#31678e 0 218px,#34618d 0 230px,#375a8c 0 240px,#3a548c 0 252px,#3c4f8a 0 264px,#3e4989 0 274px,#414487 0 288px)"></i>
</div>
<div class="p" style="left:1801px;top:199px;width:288px;height:734px">
<i style="top:0px;height:11px;background:linear-gradient(90deg,#21918c 0 35px,#20928c 0 139px,#21918c 0 149px,#218f8d 0 161px,#218e8d 0 173px,#228d8d 0 185px,#228b8d 0 195px,#238a8d 0 207px,#23898e 0 219px,#24868e 0 231px,#25848e 0 241px,#26828e 0 265px,#26818e 0 275px,#27808e 0 288px)"></i>
<i style="top:11px;height:10px;background:linear-gradient(90deg,#1f9f88 0 59px,#1fa088 0 69px,#1fa188 0 173px,#1fa088 0 185px,#1f9f88 0 195px,#1f9e89 0 207px,#1e9c89 0 219px,#1f9a8a 0 231px,#1f978b 0 241px,#1f968b 0 253px,#1f958b 0 265px,#20928c 0 275px,#21918c 0 288px)"></i>
<i style="top:21px;height:12px;background:linear-gradient(90deg,#1fa188 0 13px,#20a386 0 25px,#22a884 0 35px,#25ab82 0 47px,#26ad81 0 81px,#29af7f 0 93px,#2cb17e 0 149px,#29af7f 0 161px,#26ad81 0 173px,#25ab82 0 185px,#22a884 0 195px,#20a486 0 207px,#1fa188 0 241px,#1fa088 0 253px,#1f9f88 0 288px)"></i>
<i style="top:33px;height:12px;background:linear-gradient(90deg,#1fa188 0 13px,#20a386 0 25px,#22a884 0 35px,#25ab82 0 47px,#26ad81 0 59px,#29af7f 0 69px,#2cb17e 0 81px,#2eb37c 0 93px,#2fb47c 0 105px,#31b57b 0 115px,#32b67a 0 149px,#2fb47c 0 161px,#2cb17e 0 173px,#29af7f 0 185px,#26ad81 0 195px,#25ab82 0 207px,#22a884 0 219px,#20a486 0 231px,#1fa188 0 241px,#1fa088 0 253px,#1f9f88 0 288px)"></i>
<i style="top:45px;height:12px;background:linear-gradient(90deg,#1f9a8a 0 13px,#1e9c89 0 25px,#1f9f88 0 35px,#1fa188 0 47px,#20a386 0 59px,#21a685 0 69px,#22a884 0 81px,#25ab82 0 93px,#26ad81 0 173px,#25ab82 0 185px,#22a884 0 195px,#20a486 0 207px,#1fa188 0 241px,#1fa088 0 253px,#1f9f88 0 265px,#1e9c89 0 275px,#1f9a8a 0 288px)"></i>
<i style="top:57px;height:10px;background:linear-gradient(90deg,#228b8d 0 13px,#218e8d 0 25px,#21918c 0 35px,#20928c 0 47px,#1f958b 0 59px,#1f968b 0 69px,#1f978b 0 81px,#1e9b8a 0 93px,#1f9f88 0 105px,#1fa088 0 115px,#1fa188 0 149px,#1fa088 0 161px,#1f9f88 0 195px,#1e9c89 0 207px,#1f9a8a 0 219px,#1f988b 0 231px,#1f978b 0 241px,#1f968b 0 253px,#1f958b 0 288px)"></i>
<i style="top:67px;height:12px;background:linear-gradient(90deg,#31678e 0 13px,#306a8e 0 25px,#2f6c8e 0 35px,#2d718e 0 47px,#2c738e 0 59px,#2a788e 0 69px,#287d8e 0 81px,#26828e 0 93px,#24868e 0 105px,#238a8d 0 115px,#218e8d 0 127px,#218f8d 0 139px,#21918c 0 173px,#218f8d 0 185px,#218e8d 0 195px,#228d8d 0 207px,#228b8d 0 241px,#23898e 0 253px,#24868e 0 265px,#25858e 0 275px,#25848e 0 288px)"></i>
<i style="top:79px;height:12px;background:linear-gradient(90deg,#424086 0 13px,#414487 0 25px,#3e4989 0 35px,#3b528b 0 47px,#375a8c 0 59px,#33638d 0 69px,#2f6c8e 0 81px,#2d718e 0 93px,#2b758e 0 105px,#29798e 0 115px,#287d8e 0 127px,#27808e 0 139px,#26828e 0 219px,#27808e 0 231px,#287d8e 0 241px,#297a8e 0 253px,#2a788e 0 265px,#2b758e 0 275px,#2c738e 0 288px)"></i>
<i style="top:91px;height:12px;background:linear-gradient(90deg,#482475 0 13px,#472a7a 0 25px,#46307e 0 35px,#443a83 0 47px,#404688 0 59px,#3c4f8a 0 69px,#38588c 0 81px,#355f8d 0 93px,#31678e 0 105px,#2f6c8e 0 115px,#2d718e 0 127px,#2c738e 0 139px,#2b758e 0 195px,#2b748e 0 207px,#2c738e 0 219px,#2c728e 0 231px,#2d718e 0 241px,#2e6f8e 0 253px,#2f6c8e 0 265px,#306a8e 0 275px,#31678e 0 288px)"></i>
<i style="top:103px;height:10px;background:linear-gradient(90deg,#471063 0 13px,#481a6c 0 25px,#482475 0 35px,#46307e 0 47px,#443a83 0 59px,#414487 0 69px,#3e4c8a 0 81px,#3a548c 0 93px,#365d8d 0 105px,#33628d 0 115px,#31678e 0 127px,#306a8e 0 139px,#2f6c8e 0 149px,#2e6d8e 0 161px,#2e6f8e 0 195px,#2e6d8e 0 207px,#2f6c8e 0 219px,#306a8e 0 231px,#31678e 0 241px,#33638d 0 253px,#355f8d 0 265px,#365d8d 0 275px,#375a8c 0 288px)"></i>
<i style="top:113px;height:12px;background:linear-gradient(90deg,#440154 0 13px,#46085c 0 25px,#481769 0 35px,#482475 0 47px,#472e7c 0 59px,#453781 0 69px,#424086 0 81px,#3f4889 0 93px,#3c4f8a 0 105px,#3a538b 0 115px,#38588c 0 127px,#375a8c 0 139px,#365d8d 0 195px,#375b8d 0 207px,#375a8c 0 219px,#38588c 0 231px,#3a548c 0 241px,#3b528b 0 253px,#3c4f8a 0 265px,#3e4a89 0 275px,#404688 0 288px)"></i>
<i style="top:125px;height:12px;background:linear-gradient(90deg,#450457 0 13px,#471063 0 25px,#481d6f 0 35px,#482475 0 47px,#472a7a 0 59px,#46337f 0 69px,#443a83 0 81px,#424086 0 93px,#404688 0 105px,#3e4c8a 0 115px,#3b528b 0 127px,#3a538b 0 139px,#3a548c 0 173px,#3a538b 0 185px,#3b528b 0 195px,#3c508b 0 207px,#3c4f8a 0 219px,#3e4a89 0 231px,#404688 0 241px,#404588 0 253px,#414487 0 265px,#424186 0 275px,#424086 0 288px)"></i>
<i style="top:137px;height:12px;background:linear-gradient(90deg,#46085c 0 13px,#481a6c 0 25px,#482173 0 35px,#472a7a 0 47px,#46307e 0 59px,#453581 0 69px,#443a83 0 81px,#423f85 0 93px,#414487 0 105px,#404588 0 115px,#404688 0 127px,#404588 0 139px,#414487 0 173px,#424186 0 185px,#424086 0 195px,#423f85 0 207px,#433e85 0 219px,#443b84 0 231px,#443a83 0 241px,#443983 0 253px,#453781 0 265px,#453581 0 275px,#463480 0 288px)"></i>
<i style="top:149px;height:10px;background:linear-gradient(90deg,#481d6f 0 13px,#482475 0 25px,#472a7a 0 35px,#46307e 0 47px,#463480 0 59px,#453781 0 69px,#443a83 0 81px,#433e85 0 93px,#424086 0 105px,#424186 0 115px,#414487 0 127px,#424186 0 139px,#424086 0 149px,#433e85 0 161px,#443a83 0 173px,#443983 0 185px,#453781 0 195px,#453581 0 207px,#463480 0 288px)"></i>
<i style="top:159px;height:12px;background:linear-gradient(90deg,#443a83 0 25px,#424086 0 35px,#414487 0 47px,#404688 0 59px,#3f4889 0 69px,#3e4989 0 81px,#3e4a89 0 93px,#3e4c8a 0 127px,#3e4a89 0 139px,#3e4989 0 149px,#404688 0 161px,#414487 0 173px,#424186 0 185px,#424086 0 195px,#433e85 0 207px,#443a83 0 265px,#453781 0 275px,#463480 0 288px)"></i>
<i style="top:171px;height:12px;background:linear-gradient(90deg,#3c4f8a 0 13px,#3b528b 0 25px,#3a548c 0 35px,#38588c 0 47px,#375a8c 0 59px,#375b8d 0 69px,#365d8d 0 81px,#355e8d 0 93px,#355f8d 0 127px,#355e8d 0 139px,#365d8d 0 149px,#375b8d 0 161px,#375a8c 0 173px,#38598c 0 185px,#38588c 0 195px,#39558c 0 207px,#3a548c 0 219px,#3a538b 0 231px,#3b528b 0 241px,#3c508b 0 253px,#3c4f8a 0 265px,#3e4c8a 0 275px,#3e4989 0 288px)"></i>
<i style="top:183px;height:12px;background:linear-gradient(90deg,#2d718e 0 25px,#2c738e 0 47px,#2b758e 0 127px,#2b748e 0 139px,#2c738e 0 149px,#2c728e 0 161px,#2d718e 0 173px,#2e6f8e 0 185px,#2f6c8e 0 195px,#2f6b8e 0 207px,#306a8e 0 219px,#31688e 0 231px,#31678e 0 241px,#32648e 0 253px,#33628d 0 265px,#355f8d 0 275px,#365d8d 0 288px)"></i>
<i style="top:195px;height:10px;background:linear-gradient(90deg,#287d8e 0 13px,#27808e 0 25px,#26828e 0 59px,#25848e 0 69px,#24868e 0 127px,#25858e 0 139px,#25848e 0 149px,#26828e 0 173px,#26818e 0 185px,#27808e 0 195px,#287d8e 0 207px,#297a8e 0 219px,#2a788e 0 231px,#2b758e 0 241px,#2b748e 0 253px,#2c738e 0 265px,#2d708e 0 275px,#2f6c8e 0 288px)"></i>
<i style="top:205px;height:12px;background:linear-gradient(90deg,#228b8d 0 13px,#218e8d 0 25px,#21918c 0 47px,#20928c 0 59px,#20938c 0 69px,#1f958b 0 149px,#20928c 0 161px,#21918c 0 173px,#218e8d 0 185px,#228b8d 0 195px,#238a8d 0 207px,#23898e 0 219px,#24868e 0 231px,#25848e 0 241px,#26828e 0 265px,#277e8e 0 275px,#297a8e 0 288px)"></i>
<i style="top:217px;height:12px;background:linear-gradient(90deg,#1f958b 0 25px,#1f978b 0 35px,#1f9a8a 0 59px,#1e9c89 0 69px,#1f9f88 0 81px,#1fa088 0 93px,#1fa188 0 127px,#1fa088 0 139px,#1f9f88 0 149px,#1e9c89 0 161px,#1f9a8a 0 173px,#1f988b 0 185px,#1f978b 0 195px,#1f968b 0 207px,#1f958b 0 219px,#20928c 0 231px,#21918c 0 241px,#218e8d 0 253px,#228b8d 0 265px,#23898e 0 275px,#24868e 0 288px)"></i>
<i style="top:229px;height:10px;background:linear-gradient(90deg,#1f978b 0 13px,#1e9c89 0 25px,#1f9f88 0 47px,#1fa188 0 59px,#1fa287 0 69px,#20a386 0 81px,#21a685 0 93px,#22a884 0 127px,#21a685 0 139px,#20a386 0 149px,#1fa287 0 161px,#1fa188 0 173px,#1fa088 0 185px,#1f9f88 0 195px,#1e9c89 0 207px,#1f9a8a 0 219px,#1f978b 0 231px,#1f958b 0 241px,#20928c 0 253px,#21918c 0 265px,#218e8d 0 275px,#228b8d 0 288px)"></i>
<i style="top:239px;height:12px;background:linear-gradient(90deg,#1f9f88 0 25px,#1fa188 0 35px,#20a386 0 59px,#21a685 0 69px,#22a884 0 149px,#21a685 0 161px,#20a386 0 173px,#1fa287 0 185px,#1fa188 0 195px,#1fa088 0 207px,#1f9f88 0 219px,#1e9c89 0 231px,#1f9a8a 0 241px,#1f978b 0 253px,#1f958b 0 265px,#20928c 0 275px,#218e8d 0 288px)"></i>
<i style="top:251px;height:12px;background:linear-gradient(90deg,#22a884 0 173px,#21a685 0 185px,#20a386 0 195px,#1fa287 0 207px,#1fa188 0 219px,#1fa088 0 231px,#1f9f88 0 241px,#1e9b8a 0 253px,#1f978b 0 265px,#20928c 0 275px,#218e8d 0 288px)"></i>
<i style="top:263px;height:12px;background:linear-gradient(90deg,#22a884 0 47px,#25ab82 0 59px,#25ac82 0 69px,#26ad81 0 105px,#29af7f 0 115px,#2cb17e 0 149px,#29af7f 0 161px,#26ad81 0 195px,#22a884 0 207px,#20a386 0 219px,#1fa287 0 231px,#1fa188 0 241px,#1f9e89 0 253px,#1f9a8a 0 265px,#20928c 0 275px,#228b8d 0 288px)"></i>
<i style="top:275px;height:10px;background:linear-gradient(90deg,#37b878 0 25px,#3bbb75 0 149px,#38b977 0 161px,#37b878 0 173px,#35b779 0 185px,#32b67a 0 195px,#2fb47c 0 207px,#2cb17e 0 219px,#26ad81 0 231px,#22a884 0 241px,#1fa188 0 253px,#1f9a8a 0 265px,#20928c 0 275px,#23898e 0 288px)"></i>
<i style="top:285px;height:12px;background:linear-gradient(90deg,#69cd5b 0 13px,#5ec962 0 149px,#58c765 0 161px,#52c569 0 173px,#46c06f 0 185px,#3bbb75 0 195px,#32b67a 0 207px,#2cb17e 0 219px,#23a983 0 231px,#1fa188 0 241px,#1f988b 0 253px,#21918c 0 265px,#23888e 0 275px,#27808e 0 288px)"></i>
<i style="top:297px;height:12px;background:linear-gradient(90deg,#cae11f 0 13px,#a2da37 0 25px,#95d840 0 35px,#8ed645 0 47px,#86d549 0 127px,#81d34d 0 139px,#7ad151 0 149px,#70cf57 0 161px,#69cd5b 0 173px,#5ac864 0 185px,#4ec36b 0 195px,#3bbb75 0 207px,#2cb17e 0 219px,#23a983 0 231px,#1fa188 0 241px,#20938c 0 253px,#24868e 0 265px,#297a8e 0 275px,#2e6f8e 0 288px)"></i>
<i style="top:309px;height:12px;background:linear-gradient(90deg,#fde725 0 13px,#d8e219 0 25px,#cae11f 0 35px,#b5de2b 0 47px,#a8db34 0 59px,#a5db36 0 69px,#a2da37 0 81px,#9dd93b 0 93px,#9bd93c 0 105px,#98d83e 0 115px,#95d840 0 127px,#90d743 0 139px,#8ed645 0 149px,#7ad151 0 161px,#69cd5b 0 173px,#58c765 0 185px,#48c16e 0 195px,#38b977 0 207px,#2cb17e 0 219px,#22a884 0 231px,#1f9f88 0 241px,#20928c 0 253px,#25848e 0 265px,#2a778e 0 275px,#306a8e 0 288px)"></i>
<i style="top:321px;height:10px;background:linear-gradient(90deg,#fde725 0 13px,#d2e21b 0 25px,#b5de2b 0 35px,#95d840 0 47px,#86d549 0 59px,#81d34d 0 69px,#7ad151 0 127px,#70cf57 0 139px,#69cd5b 0 149px,#63cb5f 0 161px,#5ec962 0 173px,#50c46a 0 185px,#44bf70 0 195px,#32b67a 0 207px,#26ad81 0 219px,#20a386 0 231px,#1f9a8a 0 241px,#218e8d 0 253px,#26828e 0 265px,#2b748e 0 275px,#31678e 0 288px)"></i>
<i style="top:331px;height:12px;background:linear-gradient(90deg,#f1e51d 0 13px,#c2df23 0 25px,#95d840 0 35px,#7ad151 0 47px,#69cd5b 0 59px,#63cb5f 0 69px,#5ec962 0 81px,#58c765 0 93px,#52c569 0 127px,#50c46a 0 139px,#4ec36b 0 149px,#48c16e 0 161px,#44bf70 0 173px,#37b878 0 185px,#2cb17e 0 195px,#25ab82 0 207px,#20a386 0 219px,#1e9c89 0 231px,#1f958b 0 241px,#23898e 0 253px,#287d8e 0 265px,#2d708e 0 275px,#33628d 0 288px)"></i>
<i style="top:343px;height:12px;background:linear-gradient(90deg,#dfe318 0 13px,#a8db34 0 25px,#7ad151 0 35px,#5ec962 0 47px,#52c569 0 59px,#48c16e 0 69px,#3fbc73 0 81px,#3bbb75 0 93px,#37b878 0 105px,#35b779 0 115px,#32b67a 0 127px,#2fb47c 0 139px,#2cb17e 0 149px,#29af7f 0 161px,#26ad81 0 173px,#22a884 0 185px,#20a386 0 195px,#1f9e89 0 207px,#1f978b 0 219px,#20928c 0 231px,#228b8d 0 241px,#26828e 0 253px,#2a788e 0 265px,#2f6c8e 0 275px,#355f8d 0 288px)"></i>
<i style="top:355px;height:12px;background:linear-gradient(90deg,#dfe318 0 13px,#a2da37 0 25px,#69cd5b 0 35px,#52c569 0 47px,#44bf70 0 59px,#3bbb75 0 69px,#32b67a 0 81px,#2fb47c 0 93px,#2cb17e 0 127px,#29af7f 0 139px,#26ad81 0 149px,#25ab82 0 161px,#22a884 0 173px,#20a386 0 185px,#1f9f88 0 195px,#1f9a8a 0 207px,#1f958b 0 219px,#218e8d 0 231px,#24868e 0 241px,#277e8e 0 253px,#2b758e 0 265px,#2f6c8e 0 275px,#33628d 0 288px)"></i>
<i style="top:367px;height:10px;background:linear-gradient(90deg,#dfe318 0 13px,#a2da37 0 25px,#69cd5b 0 35px,#52c569 0 47px,#44bf70 0 59px,#3bbb75 0 69px,#32b67a 0 81px,#2fb47c 0 93px,#2cb17e 0 127px,#29af7f 0 139px,#26ad81 0 149px,#25ab82 0 161px,#22a884 0 173px,#20a386 0 185px,#1f9f88 0 195px,#1f9a8a 0 207px,#1f958b 0 219px,#228d8d 0 231px,#25848e 0 241px,#287c8e 0 253px,#2c738e 0 265px,#2f6b8e 0 275px,#33628d 0 288px)"></i>
<i style="top:377px;height:12px;background:linear-gradient(90deg,#dfe318 0 13px,#a2da37 0 25px,#69cd5b 0 35px,#52c569 0 47px,#44bf70 0 59px,#3bbb75 0 69px,#32b67a 0 81px,#2fb47c 0 93px,#2cb17e 0 127px,#29af7f 0 139px,#26ad81 0 149px,#22a785 0 161px,#1fa188 0 173px,#1e9b8a 0 185px,#1f958b 0 195px,#218f8d 0 207px,#23898e 0 219px,#25858e 0 231px,#26828e 0 241px,#287c8e 0 253px,#2b758e 0 265px,#2e6f8e 0 275px,#31678e 0 288px)"></i>
<i style="top:389px;height:12px;background:linear-gradient(90deg,#d2e21b 0 13px,#86d549 0 25px,#5ec962 0 35px,#48c16e 0 47px,#2cb17e 0 59px,#29af7f 0 69px,#26ad81 0 81px,#25ab82 0 93px,#22a884 0 105px,#21a685 0 115px,#20a386 0 127px,#1fa188 0 139px,#1f9f88 0 149px,#1f9a8a 0 161px,#1f958b 0 173px,#21918c 0 185px,#228b8d 0 195px,#24868e 0 207px,#26828e 0 219px,#287d8e 0 231px,#2a788e 0 241px,#2b748e 0 253px,#2d718e 0 265px,#2f6c8e 0 275px,#31678e 0 288px)"></i>
<i style="top:401px;height:12px;background:linear-gradient(90deg,#7ad151 0 13px,#5ec962 0 25px,#37b878 0 35px,#2cb17e 0 47px,#1fa188 0 59px,#1e9c89 0 69px,#1f978b 0 81px,#20938c 0 93px,#21918c 0 105px,#228d8d 0 115px,#23898e 0 127px,#25858e 0 139px,#26828e 0 149px,#277e8e 0 161px,#297a8e 0 173px,#2a788e 0 185px,#2b758e 0 195px,#2c728e 0 207px,#2e6f8e 0 219px,#2f6c8e 0 231px,#306a8e 0 241px,#31688e 0 253px,#31678e 0 265px,#32648e 0 275px,#33628d 0 288px)"></i>
<i style="top:413px;height:10px;background:linear-gradient(90deg,#69cd5b 0 13px,#44bf70 0 25px,#2cb17e 0 35px,#1fa188 0 47px,#1f958b 0 59px,#218e8d 0 69px,#24868e 0 81px,#26818e 0 93px,#297a8e 0 105px,#2a778e 0 115px,#2c738e 0 127px,#2d718e 0 139px,#2e6f8e 0 149px,#2f6c8e 0 161px,#306a8e 0 173px,#31688e 0 185px,#31678e 0 195px,#32648e 0 207px,#33628d 0 265px,#34618d 0 275px,#355f8d 0 288px)"></i>
<i style="top:423px;height:12px;background:linear-gradient(90deg,#5ec962 0 13px,#32b67a 0 25px,#22a884 0 35px,#1f9a8a 0 47px,#218e8d 0 59px,#25858e 0 69px,#287d8e 0 81px,#2b758e 0 93px,#2e6f8e 0 105px,#31688e 0 115px,#33628d 0 127px,#34618d 0 139px,#355f8d 0 173px,#34618d 0 185px,#33628d 0 195px,#32648e 0 207px,#31678e 0 219px,#31688e 0 231px,#306a8e 0 241px,#2f6b8e 0 253px,#2f6c8e 0 265px,#2e6d8e 0 275px,#2e6f8e 0 288px)"></i>
<i style="top:435px;height:12px;background:linear-gradient(90deg,#5ec962 0 13px,#32b67a 0 25px,#22a884 0 35px,#1f9a8a 0 47px,#218e8d 0 59px,#24868e 0 69px,#27808e 0 81px,#29798e 0 93px,#2c738e 0 105px,#2d708e 0 115px,#2f6c8e 0 149px,#2e6f8e 0 161px,#2d718e 0 173px,#2c738e 0 185px,#2b758e 0 195px,#29798e 0 207px,#287d8e 0 219px,#26818e 0 231px,#25848e 0 241px,#25858e 0 253px,#24868e 0 265px,#25858e 0 275px,#25848e 0 288px)"></i>
<i style="top:447px;height:12px;background:linear-gradient(90deg,#58c765 0 13px,#37b878 0 25px,#2cb17e 0 35px,#22a884 0 47px,#1f9f88 0 59px,#1f9a8a 0 69px,#1f958b 0 81px,#21918c 0 93px,#228b8d 0 105px,#23888e 0 115px,#25848e 0 127px,#26828e 0 149px,#25858e 0 161px,#23898e 0 173px,#218f8d 0 185px,#1f958b 0 195px,#1f9a8a 0 207px,#1f9f88 0 219px,#1fa088 0 231px,#1fa188 0 241px,#1fa088 0 253px,#1f9f88 0 265px,#1e9b8a 0 275px,#1f978b 0 288px)"></i>
<i style="top:459px;height:10px;background:linear-gradient(90deg,#52c569 0 13px,#44bf70 0 25px,#37b878 0 35px,#2cb17e 0 47px,#26ad81 0 59px,#22a785 0 69px,#1fa188 0 81px,#1f9e89 0 93px,#1f9a8a 0 105px,#1f988b 0 115px,#1f978b 0 127px,#1f988b 0 139px,#1f9a8a 0 149px,#1e9c89 0 161px,#1f9f88 0 173px,#1fa188 0 185px,#20a386 0 195px,#22a884 0 207px,#26ad81 0 219px,#29af7f 0 231px,#2cb17e 0 241px,#29af7f 0 253px,#26ad81 0 265px,#25ab82 0 275px,#22a884 0 288px)"></i>
<i style="top:469px;height:12px;background:linear-gradient(90deg,#48c16e 0 13px,#44bf70 0 25px,#3bbb75 0 35px,#32b67a 0 47px,#2cb17e 0 59px,#29af7f 0 69px,#26ad81 0 105px,#25ab82 0 115px,#22a884 0 149px,#25ab82 0 161px,#26ad81 0 173px,#29af7f 0 185px,#2cb17e 0 219px,#2fb47c 0 231px,#32b67a 0 241px,#2fb47c 0 253px,#2cb17e 0 265px,#26ad81 0 275px,#22a884 0 288px)"></i>
<i style="top:481px;height:12px;background:linear-gradient(90deg,#22a884 0 35px,#20a386 0 47px,#1fa188 0 173px,#1fa088 0 185px,#1f9f88 0 195px,#1e9c89 0 207px,#1f9a8a 0 219px,#1f978b 0 231px,#1f958b 0 241px,#21918c 0 253px,#228b8d 0 265px,#25858e 0 275px,#27808e 0 288px)"></i>
<i style="top:493px;height:10px;background:linear-gradient(90deg,#1f978b 0 25px,#1f9a8a 0 127px,#1f988b 0 139px,#1f978b 0 149px,#1f968b 0 161px,#1f958b 0 173px,#20928c 0 185px,#21918c 0 195px,#228b8d 0 207px,#24868e 0 219px,#26828e 0 231px,#287d8e 0 241px,#2a788e 0 253px,#2c738e 0 265px,#2e6d8e 0 275px,#31678e 0 288px)"></i>
<i style="top:503px;height:12px;background:linear-gradient(90deg,#228b8d 0 13px,#21918c 0 25px,#1f958b 0 35px,#1f978b 0 59px,#1f988b 0 69px,#1f9a8a 0 105px,#1f988b 0 115px,#1f978b 0 127px,#1f968b 0 139px,#1f958b 0 149px,#20928c 0 161px,#21918c 0 173px,#228d8d 0 185px,#23898e 0 195px,#24868e 0 207px,#25848e 0 219px,#26818e 0 231px,#287d8e 0 241px,#29798e 0 253px,#2b758e 0 265px,#2e6f8e 0 275px,#31678e 0 288px)"></i>
<i style="top:515px;height:12px;background:linear-gradient(90deg,#24868e 0 13px,#228b8d 0 25px,#21918c 0 35px,#20928c 0 47px,#1f958b 0 59px,#1f968b 0 69px,#1f978b 0 105px,#1f968b 0 115px,#1f958b 0 127px,#20928c 0 139px,#21918c 0 149px,#218e8d 0 161px,#228b8d 0 173px,#23888e 0 185px,#25848e 0 195px,#26818e 0 207px,#287d8e 0 219px,#29798e 0 231px,#2b758e 0 241px,#2e6f8e 0 253px,#31678e 0 265px,#375b8d 0 275px,#3c4f8a 0 288px)"></i>
<i style="top:527px;height:12px;background:linear-gradient(90deg,#25848e 0 13px,#23898e 0 25px,#21918c 0 35px,#20928c 0 47px,#1f958b 0 59px,#1f978b 0 69px,#1f9a8a 0 105px,#1f988b 0 115px,#1f978b 0 127px,#1f968b 0 139px,#1f958b 0 149px,#20928c 0 161px,#218e8d 0 173px,#238a8d 0 185px,#24868e 0 195px,#25848e 0 207px,#26828e 0 219px,#287d8e 0 231px,#2a788e 0 241px,#2c728e 0 253px,#2f6c8e 0 265px,#34618d 0 275px,#3a548c 0 288px)"></i>
<i style="top:539px;height:10px;background:linear-gradient(90deg,#23898e 0 13px,#218e8d 0 25px,#1f958b 0 35px,#1f9a8a 0 47px,#1f9f88 0 59px,#1fa088 0 69px,#1fa188 0 127px,#1fa088 0 139px,#1f9f88 0 149px,#1e9b8a 0 161px,#1f978b 0 173px,#1f968b 0 185px,#1f958b 0 195px,#20928c 0 207px,#218e8d 0 219px,#23898e 0 231px,#25848e 0 241px,#277e8e 0 253px,#2a788e 0 265px,#2d718e 0 275px,#306a8e 0 288px)"></i>
<i style="top:549px;height:12px;background:linear-gradient(90deg,#228b8d 0 13px,#1f958b 0 25px,#1f9f88 0 35px,#20a386 0 47px,#22a884 0 59px,#25ab82 0 69px,#26ad81 0 81px,#29af7f 0 93px,#2cb17e 0 127px,#29af7f 0 139px,#26ad81 0 149px,#25ab82 0 161px,#22a884 0 173px,#20a486 0 185px,#1fa188 0 195px,#1f9e89 0 207px,#1f9a8a 0 219px,#1f958b 0 231px,#21918c 0 241px,#238a8d 0 253px,#25848e 0 265px,#277e8e 0 275px,#2a788e 0 288px)"></i>
<i style="top:561px;height:12px;background:linear-gradient(90deg,#1f958b 0 13px,#1fa188 0 25px,#26ad81 0 35px,#2cb17e 0 47px,#32b67a 0 59px,#3bbb75 0 69px,#44bf70 0 81px,#48c16e 0 93px,#4ec36b 0 127px,#4cc26c 0 139px,#48c16e 0 149px,#40bd72 0 161px,#3bbb75 0 173px,#32b67a 0 185px,#2cb17e 0 195px,#26ad81 0 207px,#22a884 0 219px,#20a386 0 231px,#1f9f88 0 241px,#1f978b 0 253px,#21918c 0 265px,#238a8d 0 275px,#25848e 0 288px)"></i>
<i style="top:573px;height:12px;background:linear-gradient(90deg,#1f9f88 0 13px,#2cb17e 0 25px,#3bbb75 0 35px,#48c16e 0 47px,#52c569 0 59px,#5ec962 0 69px,#69cd5b 0 81px,#70cf57 0 93px,#7ad151 0 127px,#70cf57 0 139px,#69cd5b 0 149px,#63cb5f 0 161px,#5ec962 0 173px,#52c569 0 185px,#48c16e 0 195px,#3dbc74 0 207px,#32b67a 0 219px,#2cb17e 0 231px,#26ad81 0 241px,#22a785 0 253px,#1fa188 0 265px,#1e9b8a 0 275px,#1f958b 0 288px)"></i>
<i style="top:585px;height:10px;background:linear-gradient(90deg,#26ad81 0 13px,#44bf70 0 25px,#52c569 0 35px,#69cd5b 0 47px,#7ad151 0 59px,#86d549 0 69px,#95d840 0 81px,#9bd93c 0 93px,#a2da37 0 127px,#9bd93c 0 139px,#95d840 0 149px,#8ed645 0 161px,#86d549 0 173px,#77d153 0 185px,#69cd5b 0 195px,#5ec962 0 207px,#52c569 0 219px,#46c06f 0 231px,#3bbb75 0 241px,#32b67a 0 253px,#2cb17e 0 265px,#26ad81 0 275px,#22a884 0 288px)"></i>
<i style="top:595px;height:12px;background:linear-gradient(90deg,#2cb17e 0 13px,#48c16e 0 25px,#5ec962 0 35px,#75d054 0 47px,#86d549 0 59px,#95d840 0 69px,#a2da37 0 81px,#b0dd2f 0 93px,#bddf26 0 127px,#b5de2b 0 139px,#b0dd2f 0 149px,#a5db36 0 161px,#9bd93c 0 173px,#8bd646 0 185px,#7ad151 0 195px,#6ccd5a 0 207px,#5ec962 0 219px,#52c569 0 231px,#48c16e 0 241px,#3dbc74 0 253px,#32b67a 0 265px,#2fb47c 0 275px,#2cb17e 0 288px)"></i>
<i style="top:607px;height:12px;background:linear-gradient(90deg,#26ad81 0 13px,#3bbb75 0 25px,#52c569 0 35px,#69cd5b 0 47px,#7ad151 0 59px,#86d549 0 69px,#95d840 0 81px,#a2da37 0 93px,#b0dd2f 0 105px,#b2dd2d 0 115px,#b5de2b 0 149px,#addc30 0 161px,#a2da37 0 173px,#98d83e 0 185px,#8ed645 0 195px,#84d44b 0 207px,#7ad151 0 219px,#6ccd5a 0 231px,#5ec962 0 241px,#56c667 0 253px,#4ec36b 0 265px,#44bf70 0 275px,#3bbb75 0 288px)"></i>
<i style="top:619px;height:12px;background:linear-gradient(90deg,#1fa188 0 13px,#2cb17e 0 25px,#3bbb75 0 35px,#4ec36b 0 47px,#5ec962 0 59px,#6ccd5a 0 69px,#7ad151 0 81px,#86d549 0 93px,#95d840 0 105px,#9bd93c 0 115px,#a2da37 0 149px,#9dd93b 0 161px,#9bd93c 0 173px,#95d840 0 185px,#8ed645 0 195px,#84d44b 0 207px,#7ad151 0 219px,#70cf57 0 231px,#69cd5b 0 241px,#63cb5f 0 253px,#5ec962 0 265px,#56c667 0 275px,#4ec36b 0 288px)"></i>
<i style="top:631px;height:10px;background:linear-gradient(90deg,#1f9f88 0 13px,#22a884 0 25px,#2cb17e 0 35px,#32b67a 0 47px,#3fbc73 0 59px,#48c16e 0 69px,#52c569 0 81px,#5ec962 0 93px,#69cd5b 0 105px,#70cf57 0 115px,#7ad151 0 127px,#81d34d 0 139px,#86d549 0 173px,#81d34d 0 185px,#7ad151 0 195px,#70cf57 0 207px,#69cd5b 0 219px,#63cb5f 0 231px,#5ec962 0 241px,#58c765 0 253px,#52c569 0 265px,#50c46a 0 275px,#4ec36b 0 288px)"></i>
<i style="top:641px;height:12px;background:linear-gradient(90deg,#1f9a8a 0 13px,#1f9f88 0 25px,#22a884 0 35px,#26ad81 0 47px,#2cb17e 0 59px,#2fb47c 0 69px,#32b67a 0 81px,#3bbb75 0 93px,#44bf70 0 105px,#4cc26c 0 115px,#52c569 0 149px,#58c765 0 161px,#5ec962 0 195px,#58c765 0 207px,#52c569 0 241px,#50c46a 0 253px,#4ec36b 0 265px,#4cc26c 0 275px,#48c16e 0 288px)"></i>
<i style="top:653px;height:12px;background:linear-gradient(90deg,#1f958b 0 13px,#1f9a8a 0 25px,#1f9f88 0 35px,#1fa188 0 47px,#22a884 0 59px,#25ab82 0 69px,#26ad81 0 81px,#29af7f 0 93px,#2cb17e 0 105px,#2fb47c 0 115px,#32b67a 0 127px,#35b779 0 139px,#37b878 0 149px,#38b977 0 161px,#3bbb75 0 219px,#38b977 0 231px,#37b878 0 241px,#35b779 0 253px,#32b67a 0 288px)"></i>
<i style="top:665px;height:12px;background:linear-gradient(90deg,#21918c 0 13px,#1f958b 0 25px,#1f978b 0 35px,#1f9a8a 0 47px,#1f9f88 0 59px,#1fa088 0 69px,#1fa188 0 81px,#1fa287 0 93px,#20a386 0 105px,#21a685 0 115px,#22a884 0 241px,#20a486 0 253px,#1fa188 0 288px)"></i>
<i style="top:677px;height:10px;background:linear-gradient(90deg,#25848e 0 13px,#24868e 0 25px,#23898e 0 35px,#218e8d 0 47px,#20928c 0 59px,#20938c 0 69px,#1f958b 0 105px,#1f968b 0 115px,#1f978b 0 173px,#1f968b 0 185px,#1f958b 0 219px,#20928c 0 231px,#21918c 0 241px,#218f8d 0 253px,#218e8d 0 288px)"></i>
<i style="top:687px;height:12px;background:linear-gradient(90deg,#2a788e 0 13px,#287d8e 0 25px,#27808e 0 35px,#26828e 0 47px,#25848e 0 59px,#25858e 0 69px,#24868e 0 81px,#23888e 0 93px,#23898e 0 173px,#23888e 0 185px,#24868e 0 195px,#25858e 0 207px,#25848e 0 219px,#26828e 0 241px,#26818e 0 253px,#27808e 0 265px,#277e8e 0 275px,#287d8e 0 288px)"></i>
<i style="top:699px;height:12px;background:linear-gradient(90deg,#2e6f8e 0 13px,#2d718e 0 25px,#2c738e 0 35px,#2b758e 0 59px,#2a778e 0 69px,#2a788e 0 81px,#29798e 0 93px,#297a8e 0 149px,#29798e 0 161px,#2a788e 0 173px,#2a778e 0 185px,#2b758e 0 195px,#2b748e 0 207px,#2c738e 0 219px,#2d718e 0 231px,#2e6f8e 0 241px,#2e6d8e 0 253px,#2f6c8e 0 265px,#2f6b8e 0 275px,#306a8e 0 288px)"></i>
<i style="top:711px;height:12px;background:linear-gradient(90deg,#3b528b 0 13px,#38588c 0 25px,#365d8d 0 35px,#355f8d 0 47px,#31678e 0 59px,#306a8e 0 69px,#2f6c8e 0 81px,#2e6f8e 0 93px,#2d718e 0 105px,#2c728e 0 115px,#2c738e 0 149px,#2c728e 0 161px,#2d718e 0 173px,#2e6f8e 0 185px,#2f6c8e 0 195px,#306a8e 0 207px,#31678e 0 219px,#33628d 0 231px,#365d8d 0 241px,#38598c 0 253px,#3a548c 0 265px,#3a538b 0 275px,#3b528b 0 288px)"></i>
<i style="top:723px;height:11px;background:linear-gradient(90deg,#443a83 0 13px,#404688 0 25px,#3c4f8a 0 35px,#38588c 0 47px,#365d8d 0 59px,#33628d 0 69px,#31678e 0 81px,#306a8e 0 93px,#2f6c8e 0 105px,#2e6f8e 0 115px,#2d718e 0 149px,#2e6f8e 0 161px,#2f6c8e 0 173px,#306a8e 0 185px,#31678e 0 195px,#33628d 0 207px,#365d8d 0 219px,#38588c 0 231px,#3b528b 0 241px,#3e4a89 0 253px,#414487 0 265px,#424186 0 275px,#424086 0 288px)"></i>
</div>
<div class="p" style="left:2217px;top:199px;width:288px;height:734px">
<i style="top:0px;height:11px;background:linear-gradient(90deg,#3e4c8a 0 25px,#3c4f8a 0 47px,#3b528b 0 81px,#3a538b 0 93px,#3a548c 0 149px,#3a538b 0 161px,#3b528b 0 195px,#3c508b 0 207px,#3c4f8a 0 219px,#3e4c8a 0 229px,#3e4989 0 241px,#3f4889 0 253px,#404688 0 265px,#404588 0 275px,#414487 0 288px)"></i>
<i style="top:11px;height:10px;background:linear-gradient(90deg,#3b528b 0 25px,#3a548c 0 35px,#38588c 0 47px,#375a8c 0 59px,#375b8d 0 69px,#365d8d 0 81px,#355e8d 0 93px,#355f8d 0 105px,#34618d 0 115px,#33628d 0 149px,#34618d 0 161px,#355f8d 0 173px,#355e8d 0 185px,#365d8d 0 219px,#375a8c 0 229px,#38588c 0 241px,#3a548c 0 253px,#3b528b 0 265px,#3c508b 0 275px,#3c4f8a 0 288px)"></i>
<i style="top:21px;height:12px;background:linear-gradient(90deg,#3b528b 0 13px,#38588c 0 25px,#365d8d 0 35px,#355f8d 0 47px,#33628d 0 59px,#31668e 0 69px,#306a8e 0 81px,#2f6b8e 0 93px,#2f6c8e 0 105px,#2e6d8e 0 115px,#2e6f8e 0 127px,#2d708e 0 139px,#2d718e 0 149px,#2d708e 0 161px,#2e6f8e 0 173px,#2e6d8e 0 185px,#2f6c8e 0 195px,#306a8e 0 207px,#31678e 0 219px,#32648e 0 229px,#33628d 0 241px,#355f8d 0 253px,#365d8d 0 265px,#375b8d 0 275px,#375a8c 0 288px)"></i>
<i style="top:33px;height:12px;background:linear-gradient(90deg,#3b528b 0 13px,#3a548c 0 25px,#375a8c 0 35px,#355f8d 0 47px,#33628d 0 59px,#31668e 0 69px,#306a8e 0 81px,#2f6c8e 0 93px,#2e6f8e 0 105px,#2d708e 0 115px,#2d718e 0 149px,#2d708e 0 161px,#2e6f8e 0 173px,#2e6d8e 0 185px,#2f6c8e 0 195px,#306a8e 0 207px,#31678e 0 219px,#32648e 0 229px,#33628d 0 241px,#355f8d 0 253px,#365d8d 0 265px,#375a8c 0 275px,#38588c 0 288px)"></i>
<i style="top:45px;height:12px;background:linear-gradient(90deg,#3e4c8a 0 13px,#3b528b 0 25px,#3a548c 0 35px,#375a8c 0 47px,#365d8d 0 59px,#355f8d 0 69px,#33628d 0 81px,#32648e 0 93px,#31678e 0 105px,#31688e 0 115px,#306a8e 0 127px,#2f6b8e 0 139px,#2f6c8e 0 149px,#2f6b8e 0 161px,#306a8e 0 173px,#31688e 0 185px,#31678e 0 195px,#32648e 0 207px,#33628d 0 219px,#355f8d 0 229px,#365d8d 0 241px,#375b8d 0 253px,#375a8c 0 265px,#38588c 0 275px,#3a548c 0 288px)"></i>
<i style="top:57px;height:10px;background:linear-gradient(90deg,#453781 0 13px,#424086 0 25px,#414487 0 35px,#3e4989 0 47px,#3c4f8a 0 59px,#3b528b 0 69px,#3a548c 0 81px,#38588c 0 93px,#375a8c 0 105px,#375b8d 0 115px,#365d8d 0 173px,#375b8d 0 185px,#375a8c 0 195px,#38598c 0 207px,#38588c 0 219px,#39558c 0 229px,#3a548c 0 241px,#3a538b 0 253px,#3b528b 0 265px,#3c508b 0 275px,#3c4f8a 0 288px)"></i>
<i style="top:67px;height:12px;background:linear-gradient(90deg,#482475 0 13px,#472a7a 0 25px,#46307e 0 35px,#453781 0 47px,#424086 0 59px,#414487 0 69px,#404688 0 81px,#3e4a89 0 93px,#3c4f8a 0 105px,#3c508b 0 115px,#3b528b 0 173px,#3c508b 0 185px,#3c4f8a 0 195px,#3d4e8a 0 207px,#3e4c8a 0 219px,#3e4a89 0 229px,#3e4989 0 241px,#3f4889 0 253px,#404688 0 265px,#404588 0 275px,#414487 0 288px)"></i>
<i style="top:79px;height:12px;background:linear-gradient(90deg,#481a6c 0 13px,#482475 0 25px,#472a7a 0 35px,#463480 0 47px,#443a83 0 59px,#423f85 0 69px,#414487 0 81px,#404688 0 93px,#3e4989 0 105px,#3e4a89 0 115px,#3e4c8a 0 127px,#3d4e8a 0 139px,#3c4f8a 0 149px,#3d4e8a 0 161px,#3e4c8a 0 173px,#3e4a89 0 185px,#3e4989 0 195px,#3f4889 0 207px,#404688 0 219px,#404588 0 229px,#414487 0 241px,#424186 0 253px,#424086 0 265px,#433e85 0 275px,#443a83 0 288px)"></i>
<i style="top:91px;height:12px;background:linear-gradient(90deg,#471063 0 13px,#481a6c 0 25px,#482475 0 35px,#472e7c 0 47px,#453781 0 59px,#443b84 0 69px,#424086 0 81px,#414487 0 93px,#404688 0 105px,#3f4889 0 115px,#3e4989 0 173px,#3f4889 0 185px,#404688 0 195px,#404588 0 207px,#414487 0 219px,#424186 0 229px,#424086 0 241px,#433e85 0 253px,#443a83 0 288px)"></i>
<i style="top:103px;height:10px;background:linear-gradient(90deg,#46085c 0 13px,#481769 0 25px,#481d6f 0 35px,#472a7a 0 47px,#46307e 0 59px,#453781 0 69px,#433e85 0 81px,#424086 0 93px,#414487 0 105px,#404588 0 115px,#404688 0 173px,#404588 0 185px,#414487 0 195px,#424186 0 207px,#424086 0 219px,#433e85 0 229px,#443a83 0 241px,#443983 0 253px,#453781 0 265px,#463480 0 275px,#46307e 0 288px)"></i>
<i style="top:113px;height:12px;background:linear-gradient(90deg,#440154 0 13px,#471063 0 25px,#481a6c 0 35px,#482475 0 47px,#472a7a 0 59px,#46307e 0 69px,#453781 0 81px,#443b84 0 93px,#424086 0 105px,#424186 0 115px,#414487 0 173px,#424186 0 185px,#424086 0 195px,#433e85 0 207px,#443a83 0 219px,#453781 0 229px,#463480 0 241px,#46307e 0 253px,#472e7c 0 265px,#472d7b 0 275px,#472a7a 0 288px)"></i>
<i style="top:125px;height:12px;background:linear-gradient(90deg,#450457 0 13px,#471063 0 25px,#481a6c 0 35px,#482878 0 47px,#472a7a 0 59px,#472f7d 0 69px,#463480 0 81px,#453781 0 93px,#443a83 0 105px,#433e85 0 115px,#424086 0 173px,#423f85 0 185px,#433e85 0 195px,#443b84 0 207px,#443a83 0 219px,#453781 0 229px,#463480 0 241px,#46337f 0 253px,#46307e 0 265px,#472f7d 0 275px,#472e7c 0 288px)"></i>
<i style="top:137px;height:12px;background:linear-gradient(90deg,#46085c 0 13px,#471365 0 25px,#481d6f 0 35px,#482878 0 47px,#472a7a 0 59px,#472e7c 0 69px,#46307e 0 81px,#463480 0 93px,#453781 0 105px,#443983 0 115px,#443a83 0 127px,#443983 0 139px,#453781 0 149px,#453581 0 161px,#463480 0 173px,#46337f 0 185px,#46307e 0 195px,#472f7d 0 207px,#472e7c 0 219px,#472d7b 0 229px,#472a7a 0 241px,#482979 0 253px,#482878 0 288px)"></i>
<i style="top:149px;height:10px;background:linear-gradient(90deg,#481769 0 13px,#481d6f 0 25px,#482475 0 35px,#472a7a 0 59px,#472e7c 0 69px,#46307e 0 81px,#463480 0 93px,#453781 0 105px,#453581 0 115px,#463480 0 127px,#46337f 0 139px,#46307e 0 149px,#472f7d 0 161px,#472e7c 0 173px,#472d7b 0 185px,#472a7a 0 195px,#482979 0 207px,#482878 0 241px,#482576 0 253px,#482475 0 288px)"></i>
<i style="top:159px;height:12px;background:linear-gradient(90deg,#482878 0 13px,#472a7a 0 25px,#46307e 0 35px,#453781 0 47px,#443a83 0 81px,#443b84 0 93px,#433e85 0 105px,#443b84 0 115px,#443a83 0 149px,#443983 0 161px,#453781 0 173px,#463480 0 185px,#46307e 0 219px,#472e7c 0 229px,#472a7a 0 241px,#482979 0 253px,#482878 0 265px,#482576 0 275px,#482475 0 288px)"></i>
<i style="top:171px;height:12px;background:linear-gradient(90deg,#443a83 0 13px,#424086 0 25px,#414487 0 35px,#404688 0 47px,#3e4989 0 81px,#3f4889 0 93px,#404688 0 105px,#404588 0 115px,#414487 0 149px,#424186 0 161px,#424086 0 173px,#433e85 0 185px,#443a83 0 195px,#443983 0 207px,#453781 0 219px,#453581 0 229px,#463480 0 241px,#46337f 0 253px,#46307e 0 265px,#472e7c 0 275px,#472a7a 0 288px)"></i>
<i style="top:183px;height:12px;background:linear-gradient(90deg,#3e4c8a 0 13px,#3b528b 0 35px,#3a548c 0 47px,#38588c 0 59px,#38598c 0 69px,#375a8c 0 105px,#38598c 0 115px,#38588c 0 127px,#3a548c 0 139px,#3b528b 0 149px,#3c508b 0 161px,#3c4f8a 0 173px,#3e4c8a 0 185px,#3e4989 0 195px,#404688 0 207px,#414487 0 219px,#424186 0 229px,#424086 0 241px,#433e85 0 253px,#443a83 0 265px,#453781 0 275px,#463480 0 288px)"></i>
<i style="top:195px;height:10px;background:linear-gradient(90deg,#375a8c 0 13px,#365d8d 0 25px,#33628d 0 35px,#32648e 0 47px,#31678e 0 59px,#31688e 0 69px,#306a8e 0 105px,#31688e 0 115px,#31678e 0 127px,#32648e 0 139px,#33628d 0 149px,#355f8d 0 161px,#365d8d 0 173px,#375a8c 0 185px,#38588c 0 195px,#3a548c 0 207px,#3b528b 0 219px,#3d4e8a 0 229px,#3e4989 0 241px,#404688 0 253px,#414487 0 265px,#423f85 0 275px,#443a83 0 288px)"></i>
<i style="top:205px;height:12px;background:linear-gradient(90deg,#2f6c8e 0 25px,#2e6f8e 0 35px,#2d718e 0 105px,#2e6f8e 0 115px,#2f6c8e 0 127px,#2f6b8e 0 139px,#306a8e 0 149px,#31668e 0 161px,#33628d 0 173px,#355f8d 0 185px,#365d8d 0 195px,#375a8c 0 207px,#38588c 0 219px,#3a548c 0 229px,#3b528b 0 241px,#3d4e8a 0 253px,#3e4989 0 265px,#404688 0 275px,#414487 0 288px)"></i>
<i style="top:217px;height:12px;background:linear-gradient(90deg,#2b758e 0 13px,#2c738e 0 81px,#2c728e 0 93px,#2d718e 0 105px,#2d708e 0 115px,#2e6f8e 0 127px,#2f6c8e 0 139px,#306a8e 0 149px,#31688e 0 161px,#31678e 0 173px,#33638d 0 185px,#355f8d 0 195px,#355e8d 0 207px,#365d8d 0 219px,#38598c 0 229px,#3a548c 0 241px,#3a538b 0 253px,#3b528b 0 265px,#3d4e8a 0 275px,#3e4989 0 288px)"></i>
<i style="top:229px;height:10px;background:linear-gradient(90deg,#287d8e 0 13px,#297a8e 0 25px,#2a788e 0 47px,#2b758e 0 81px,#2b748e 0 93px,#2c738e 0 105px,#2c728e 0 115px,#2d718e 0 127px,#2e6f8e 0 139px,#2f6c8e 0 149px,#2f6b8e 0 161px,#306a8e 0 173px,#31688e 0 185px,#31678e 0 195px,#33638d 0 207px,#355f8d 0 219px,#355e8d 0 229px,#365d8d 0 241px,#38598c 0 253px,#3a548c 0 265px,#3a538b 0 275px,#3b528b 0 288px)"></i>
<i style="top:239px;height:12px;background:linear-gradient(90deg,#24868e 0 13px,#25848e 0 25px,#26828e 0 35px,#27808e 0 47px,#287d8e 0 59px,#297a8e 0 69px,#2a788e 0 81px,#2a778e 0 93px,#2b758e 0 105px,#2b748e 0 115px,#2c738e 0 127px,#2c728e 0 139px,#2d718e 0 149px,#2e6f8e 0 161px,#2f6c8e 0 173px,#2f6b8e 0 185px,#306a8e 0 195px,#31688e 0 207px,#31678e 0 219px,#33638d 0 229px,#355f8d 0 241px,#365d8d 0 253px,#375a8c 0 265px,#38588c 0 275px,#3a548c 0 288px)"></i>
<i style="top:251px;height:12px;background:linear-gradient(90deg,#21918c 0 13px,#228b8d 0 25px,#23898e 0 35px,#25848e 0 47px,#26828e 0 59px,#26818e 0 69px,#27808e 0 81px,#287d8e 0 93px,#297a8e 0 105px,#29798e 0 115px,#2a788e 0 127px,#2a778e 0 139px,#2b758e 0 149px,#2b748e 0 161px,#2c738e 0 173px,#2d718e 0 185px,#2e6f8e 0 195px,#2f6c8e 0 207px,#306a8e 0 219px,#31688e 0 229px,#31678e 0 241px,#33638d 0 253px,#355f8d 0 265px,#365d8d 0 275px,#375a8c 0 288px)"></i>
<i style="top:263px;height:12px;background:linear-gradient(90deg,#1f9f88 0 13px,#1f978b 0 25px,#1f958b 0 35px,#218e8d 0 47px,#228b8d 0 59px,#23888e 0 69px,#25848e 0 81px,#26828e 0 105px,#26818e 0 115px,#27808e 0 127px,#287d8e 0 139px,#297a8e 0 149px,#2a788e 0 161px,#2b758e 0 173px,#2b748e 0 185px,#2c738e 0 195px,#2d718e 0 207px,#2e6f8e 0 219px,#2f6c8e 0 229px,#306a8e 0 241px,#31668e 0 253px,#33628d 0 265px,#355f8d 0 275px,#365d8d 0 288px)"></i>
<i style="top:275px;height:10px;background:linear-gradient(90deg,#2cb17e 0 13px,#22a884 0 25px,#1fa188 0 35px,#1f978b 0 47px,#20928c 0 59px,#218f8d 0 69px,#228b8d 0 81px,#23898e 0 93px,#24868e 0 105px,#25848e 0 115px,#26828e 0 127px,#26818e 0 139px,#27808e 0 149px,#287c8e 0 161px,#2a788e 0 173px,#2a778e 0 185px,#2b758e 0 195px,#2c738e 0 207px,#2d718e 0 219px,#2e6f8e 0 229px,#2f6c8e 0 241px,#31678e 0 253px,#33628d 0 265px,#365d8d 0 275px,#38588c 0 288px)"></i>
<i style="top:285px;height:12px;background:linear-gradient(90deg,#52c569 0 13px,#3bbb75 0 25px,#2cb17e 0 35px,#22a884 0 47px,#1fa188 0 59px,#1e9b8a 0 69px,#1f958b 0 81px,#20928c 0 93px,#218e8d 0 105px,#228b8d 0 115px,#23898e 0 127px,#24868e 0 139px,#25848e 0 149px,#26828e 0 161px,#27808e 0 173px,#287c8e 0 185px,#2a788e 0 195px,#2b758e 0 207px,#2c738e 0 219px,#2d708e 0 229px,#2f6c8e 0 241px,#31678e 0 253px,#33628d 0 265px,#375a8c 0 275px,#3b528b 0 288px)"></i>
<i style="top:297px;height:12px;background:linear-gradient(90deg,#7ad151 0 13px,#5ec962 0 25px,#44bf70 0 35px,#32b67a 0 47px,#26ad81 0 59px,#22a785 0 69px,#1fa188 0 81px,#1e9c89 0 93px,#1f978b 0 105px,#1f958b 0 115px,#20928c 0 127px,#218f8d 0 139px,#228b8d 0 149px,#23888e 0 161px,#25848e 0 173px,#26818e 0 185px,#287d8e 0 195px,#29798e 0 207px,#2b758e 0 219px,#2d718e 0 229px,#2f6c8e 0 241px,#31668e 0 253px,#355f8d 0 265px,#38588c 0 275px,#3c4f8a 0 288px)"></i>
<i style="top:309px;height:12px;background:linear-gradient(90deg,#c2df23 0 13px,#86d549 0 25px,#5ec962 0 35px,#48c16e 0 47px,#32b67a 0 59px,#29af7f 0 69px,#22a884 0 81px,#20a386 0 93px,#1f9f88 0 105px,#1f9a8a 0 115px,#1f958b 0 127px,#20928c 0 139px,#218e8d 0 149px,#238a8d 0 161px,#24868e 0 173px,#26828e 0 185px,#287d8e 0 195px,#29798e 0 207px,#2b758e 0 219px,#2d718e 0 229px,#2f6c8e 0 241px,#32648e 0 253px,#365d8d 0 265px,#3b528b 0 275px,#404688 0 288px)"></i>
<i style="top:321px;height:10px;background:linear-gradient(90deg,#dfe318 0 13px,#9bd93c 0 25px,#69cd5b 0 35px,#52c569 0 47px,#3bbb75 0 59px,#2fb47c 0 69px,#26ad81 0 81px,#22a785 0 93px,#1fa188 0 105px,#1e9c89 0 115px,#1f978b 0 127px,#20938c 0 139px,#21918c 0 149px,#228b8d 0 161px,#24868e 0 173px,#26828e 0 185px,#287d8e 0 195px,#2a788e 0 207px,#2c738e 0 219px,#2e6f8e 0 229px,#306a8e 0 241px,#34618d 0 253px,#38588c 0 265px,#3e4a89 0 275px,#433e85 0 288px)"></i>
<i style="top:331px;height:12px;background:linear-gradient(90deg,#f1e51d 0 13px,#b0dd2f 0 25px,#7ad151 0 35px,#5ec962 0 47px,#44bf70 0 59px,#32b67a 0 69px,#26ad81 0 81px,#22a785 0 93px,#1fa188 0 105px,#1e9c89 0 115px,#1f978b 0 127px,#20938c 0 139px,#21918c 0 149px,#228b8d 0 161px,#24868e 0 173px,#26828e 0 185px,#287d8e 0 195px,#2a788e 0 207px,#2c738e 0 219px,#2e6d8e 0 229px,#31678e 0 241px,#365d8d 0 253px,#3b528b 0 265px,#404688 0 275px,#443a83 0 288px)"></i>
<i style="top:343px;height:12px;background:linear-gradient(90deg,#f8e621 0 13px,#b5de2b 0 25px,#7ad151 0 35px,#5ec962 0 47px,#44bf70 0 59px,#32b67a 0 69px,#26ad81 0 81px,#22a785 0 93px,#1fa188 0 105px,#1e9c89 0 115px,#1f978b 0 127px,#20938c 0 139px,#21918c 0 149px,#228b8d 0 161px,#24868e 0 173px,#26828e 0 185px,#287d8e 0 195px,#2a788e 0 207px,#2c738e 0 219px,#2e6d8e 0 229px,#31678e 0 241px,#365d8d 0 253px,#3b528b 0 265px,#414487 0 275px,#463480 0 288px)"></i>
<i style="top:355px;height:12px;background:linear-gradient(90deg,#fde725 0 13px,#b5de2b 0 25px,#7ad151 0 35px,#52c569 0 47px,#3fbc73 0 59px,#31b57b 0 69px,#26ad81 0 81px,#21a685 0 93px,#1f9f88 0 105px,#1f9a8a 0 115px,#1f958b 0 127px,#21918c 0 139px,#228b8d 0 149px,#23888e 0 161px,#25848e 0 173px,#27808e 0 185px,#297a8e 0 195px,#2b758e 0 207px,#2d718e 0 219px,#306a8e 0 229px,#33628d 0 241px,#38588c 0 253px,#3e4c8a 0 265px,#423f85 0 275px,#46307e 0 288px)"></i>
<i style="top:367px;height:10px;background:linear-gradient(90deg,#fde725 0 13px,#b5de2b 0 25px,#7ad151 0 35px,#52c569 0 47px,#3bbb75 0 59px,#2cb17e 0 69px,#22a884 0 81px,#1fa188 0 93px,#1f9a8a 0 105px,#1f958b 0 115px,#21918c 0 127px,#228b8d 0 139px,#24868e 0 149px,#26828e 0 161px,#27808e 0 173px,#297a8e 0 185px,#2b758e 0 195px,#2d718e 0 207px,#2f6c8e 0 219px,#31668e 0 229px,#355f8d 0 241px,#3a548c 0 253px,#3e4989 0 265px,#433e85 0 275px,#46307e 0 288px)"></i>
<i style="top:377px;height:12px;background:linear-gradient(90deg,#fde725 0 13px,#b0dd2f 0 25px,#69cd5b 0 35px,#4ec36b 0 47px,#32b67a 0 59px,#25ac82 0 69px,#1fa188 0 81px,#1e9b8a 0 93px,#1f958b 0 105px,#218f8d 0 115px,#23898e 0 127px,#25858e 0 139px,#26828e 0 149px,#287d8e 0 161px,#2a788e 0 173px,#2b748e 0 185px,#2d718e 0 195px,#2f6c8e 0 207px,#31678e 0 219px,#34618d 0 229px,#375a8c 0 241px,#3c508b 0 253px,#404688 0 265px,#443b84 0 275px,#46307e 0 288px)"></i>
<i style="top:389px;height:12px;background:linear-gradient(90deg,#ece51b 0 13px,#a2da37 0 25px,#5ec962 0 35px,#3fbc73 0 47px,#2cb17e 0 59px,#21a685 0 69px,#1f9a8a 0 81px,#20928c 0 93px,#228b8d 0 105px,#24868e 0 115px,#26828e 0 127px,#287d8e 0 139px,#2a788e 0 149px,#2b748e 0 161px,#2d718e 0 173px,#2f6c8e 0 185px,#31678e 0 195px,#33628d 0 207px,#365d8d 0 219px,#39558c 0 229px,#3c4f8a 0 241px,#3f4889 0 253px,#424086 0 265px,#443983 0 275px,#46307e 0 288px)"></i>
<i style="top:401px;height:12px;background:linear-gradient(90deg,#d2e21b 0 13px,#86d549 0 25px,#48c16e 0 35px,#2cb17e 0 47px,#1fa188 0 59px,#1f968b 0 69px,#228b8d 0 81px,#26828e 0 93px,#2a788e 0 105px,#2b748e 0 115px,#2d718e 0 127px,#2f6c8e 0 139px,#31678e 0 149px,#33628d 0 161px,#365d8d 0 173px,#38598c 0 185px,#3a548c 0 195px,#3c4f8a 0 207px,#3e4989 0 219px,#404588 0 229px,#424086 0 241px,#443b84 0 253px,#453781 0 265px,#463480 0 275px,#46307e 0 288px)"></i>
<i style="top:413px;height:10px;background:linear-gradient(90deg,#b5de2b 0 13px,#69cd5b 0 25px,#32b67a 0 35px,#1fa188 0 47px,#21918c 0 59px,#25848e 0 69px,#2a788e 0 81px,#2c728e 0 93px,#2f6c8e 0 105px,#31678e 0 115px,#33628d 0 127px,#355e8d 0 139px,#375a8c 0 149px,#39558c 0 161px,#3b528b 0 173px,#3e4c8a 0 185px,#404688 0 195px,#424086 0 207px,#443a83 0 219px,#453781 0 229px,#463480 0 241px,#46337f 0 253px,#46307e 0 265px,#472f7d 0 275px,#472e7c 0 288px)"></i>
<i style="top:423px;height:12px;background:linear-gradient(90deg,#8ed645 0 13px,#52c569 0 25px,#26ad81 0 35px,#1f958b 0 47px,#25848e 0 59px,#29798e 0 69px,#2e6f8e 0 81px,#31678e 0 93px,#355f8d 0 105px,#375a8c 0 115px,#3a548c 0 127px,#3c508b 0 139px,#3e4c8a 0 149px,#3f4889 0 161px,#414487 0 173px,#423f85 0 185px,#443a83 0 195px,#453781 0 207px,#463480 0 219px,#46337f 0 229px,#46307e 0 288px)"></i>
<i style="top:435px;height:12px;background:linear-gradient(90deg,#69cd5b 0 13px,#3bbb75 0 25px,#20a386 0 35px,#228b8d 0 47px,#2a788e 0 59px,#2d708e 0 69px,#31678e 0 81px,#34618d 0 93px,#375a8c 0 105px,#39558c 0 115px,#3b528b 0 127px,#3d4e8a 0 139px,#3e4989 0 149px,#404688 0 161px,#414487 0 173px,#423f85 0 185px,#443a83 0 195px,#443983 0 207px,#453781 0 219px,#453581 0 229px,#463480 0 241px,#453581 0 253px,#453781 0 265px,#443983 0 275px,#443a83 0 288px)"></i>
<i style="top:447px;height:12px;background:linear-gradient(90deg,#58c765 0 13px,#2cb17e 0 25px,#1f9f88 0 35px,#23898e 0 47px,#2a788e 0 59px,#2d708e 0 69px,#31678e 0 81px,#33628d 0 93px,#365d8d 0 105px,#38598c 0 115px,#3a548c 0 127px,#3a538b 0 139px,#3b528b 0 149px,#3d4e8a 0 161px,#3e4989 0 173px,#404688 0 185px,#414487 0 265px,#404588 0 275px,#404688 0 288px)"></i>
<i style="top:459px;height:10px;background:linear-gradient(90deg,#48c16e 0 13px,#26ad81 0 25px,#1f9f88 0 35px,#218e8d 0 47px,#27808e 0 59px,#2a778e 0 69px,#2e6f8e 0 81px,#2f6b8e 0 93px,#31678e 0 105px,#33638d 0 115px,#355f8d 0 127px,#355e8d 0 139px,#365d8d 0 149px,#375b8d 0 161px,#375a8c 0 173px,#38588c 0 185px,#3a548c 0 195px,#3a538b 0 207px,#3b528b 0 241px,#3a538b 0 253px,#3a548c 0 265px,#39558c 0 275px,#38588c 0 288px)"></i>
<i style="top:469px;height:12px;background:linear-gradient(90deg,#32b67a 0 13px,#26ad81 0 25px,#1f9f88 0 35px,#1f958b 0 47px,#228b8d 0 59px,#25848e 0 69px,#287d8e 0 81px,#2a788e 0 93px,#2c738e 0 105px,#2d708e 0 115px,#2f6c8e 0 127px,#2f6b8e 0 139px,#306a8e 0 149px,#31688e 0 161px,#31678e 0 195px,#32648e 0 207px,#33628d 0 265px,#34618d 0 275px,#355f8d 0 288px)"></i>
<i style="top:481px;height:12px;background:linear-gradient(90deg,#1f9f88 0 13px,#1f9a8a 0 25px,#1f958b 0 35px,#21918c 0 47px,#228b8d 0 59px,#24868e 0 69px,#26828e 0 81px,#287d8e 0 93px,#2a788e 0 105px,#2a778e 0 115px,#2b758e 0 127px,#2b748e 0 139px,#2c738e 0 149px,#2c728e 0 161px,#2d718e 0 173px,#2d708e 0 185px,#2e6f8e 0 195px,#2e6d8e 0 207px,#2f6c8e 0 219px,#306a8e 0 229px,#31678e 0 241px,#33638d 0 253px,#355f8d 0 265px,#365d8d 0 275px,#375a8c 0 288px)"></i>
<i style="top:493px;height:10px;background:linear-gradient(90deg,#228b8d 0 25px,#23898e 0 35px,#24868e 0 47px,#25848e 0 59px,#26828e 0 69px,#27808e 0 81px,#287c8e 0 93px,#2a788e 0 105px,#2a778e 0 115px,#2b758e 0 127px,#2b748e 0 139px,#2c738e 0 149px,#2d718e 0 161px,#2e6f8e 0 173px,#2e6d8e 0 185px,#2f6c8e 0 195px,#306a8e 0 207px,#31678e 0 219px,#33628d 0 229px,#365d8d 0 241px,#38588c 0 253px,#3b528b 0 265px,#3e4a89 0 275px,#414487 0 288px)"></i>
<i style="top:503px;height:12px;background:linear-gradient(90deg,#26828e 0 13px,#25848e 0 35px,#26828e 0 59px,#27808e 0 69px,#287d8e 0 81px,#29798e 0 93px,#2b758e 0 105px,#2c738e 0 115px,#2d718e 0 127px,#2e6f8e 0 139px,#2f6c8e 0 149px,#306a8e 0 161px,#31678e 0 173px,#33628d 0 185px,#365d8d 0 195px,#375a8c 0 207px,#38588c 0 219px,#3a538b 0 229px,#3c4f8a 0 241px,#404588 0 253px,#443a83 0 265px,#46307e 0 275px,#482878 0 288px)"></i>
<i style="top:515px;height:12px;background:linear-gradient(90deg,#2b758e 0 13px,#2a788e 0 25px,#297a8e 0 59px,#29798e 0 69px,#2a788e 0 81px,#2a778e 0 93px,#2b758e 0 105px,#2c728e 0 115px,#2e6f8e 0 127px,#2f6c8e 0 139px,#306a8e 0 149px,#31668e 0 161px,#33628d 0 173px,#355e8d 0 185px,#375a8c 0 195px,#39558c 0 207px,#3b528b 0 219px,#3e4c8a 0 229px,#404688 0 241px,#433e85 0 253px,#463480 0 265px,#472d7b 0 275px,#482475 0 288px)"></i>
<i style="top:527px;height:12px;background:linear-gradient(90deg,#2f6c8e 0 13px,#2c738e 0 25px,#2b758e 0 35px,#2a788e 0 81px,#2a778e 0 93px,#2b758e 0 105px,#2c738e 0 115px,#2d718e 0 127px,#2e6f8e 0 139px,#2f6c8e 0 149px,#306a8e 0 161px,#31678e 0 173px,#33628d 0 185px,#365d8d 0 195px,#38598c 0 207px,#3a548c 0 219px,#3c4f8a 0 229px,#3e4989 0 241px,#424186 0 253px,#443a83 0 265px,#46337f 0 275px,#472a7a 0 288px)"></i>
<i style="top:539px;height:10px;background:linear-gradient(90deg,#31678e 0 13px,#2e6f8e 0 25px,#2b758e 0 35px,#2a788e 0 47px,#297a8e 0 59px,#287c8e 0 69px,#287d8e 0 81px,#287c8e 0 93px,#297a8e 0 105px,#2a788e 0 115px,#2b758e 0 127px,#2b748e 0 139px,#2c738e 0 149px,#2d708e 0 161px,#2f6c8e 0 173px,#306a8e 0 185px,#31678e 0 195px,#33628d 0 207px,#365d8d 0 219px,#38598c 0 229px,#3a548c 0 241px,#3c4f8a 0 253px,#3e4989 0 265px,#404588 0 275px,#424086 0 288px)"></i>
<i style="top:549px;height:12px;background:linear-gradient(90deg,#31678e 0 13px,#2e6f8e 0 25px,#2b758e 0 35px,#287d8e 0 47px,#26828e 0 69px,#25848e 0 105px,#26828e 0 127px,#27808e 0 139px,#287d8e 0 149px,#297a8e 0 161px,#2a788e 0 173px,#2b758e 0 185px,#2c738e 0 195px,#2d708e 0 207px,#2f6c8e 0 219px,#31678e 0 229px,#33628d 0 241px,#355f8d 0 253px,#365d8d 0 265px,#38598c 0 275px,#3a548c 0 288px)"></i>
<i style="top:561px;height:12px;background:linear-gradient(90deg,#2f6c8e 0 13px,#2d718e 0 25px,#2a788e 0 35px,#26828e 0 47px,#24868e 0 59px,#23888e 0 69px,#23898e 0 81px,#238a8d 0 93px,#228b8d 0 105px,#238a8d 0 115px,#23898e 0 127px,#24868e 0 139px,#25848e 0 149px,#26828e 0 161px,#27808e 0 173px,#287c8e 0 185px,#2a788e 0 195px,#2b758e 0 207px,#2c738e 0 219px,#2d708e 0 229px,#2f6c8e 0 241px,#306a8e 0 253px,#31678e 0 265px,#33638d 0 275px,#355f8d 0 288px)"></i>
<i style="top:573px;height:12px;background:linear-gradient(90deg,#2f6c8e 0 13px,#2c738e 0 25px,#287d8e 0 35px,#24868e 0 47px,#218e8d 0 59px,#21918c 0 69px,#20928c 0 115px,#21918c 0 127px,#218e8d 0 139px,#228b8d 0 149px,#23888e 0 161px,#25848e 0 173px,#26818e 0 185px,#287d8e 0 195px,#29798e 0 207px,#2b758e 0 219px,#2c738e 0 229px,#2d718e 0 241px,#2e6f8e 0 253px,#2f6c8e 0 265px,#306a8e 0 275px,#31678e 0 288px)"></i>
<i style="top:585px;height:10px;background:linear-gradient(90deg,#2f6c8e 0 13px,#2c738e 0 25px,#297a8e 0 35px,#25848e 0 47px,#218e8d 0 59px,#21918c 0 69px,#20928c 0 81px,#20938c 0 93px,#1f958b 0 105px,#20938c 0 115px,#20928c 0 127px,#21918c 0 139px,#218e8d 0 149px,#238a8d 0 161px,#24868e 0 173px,#26828e 0 185px,#27808e 0 195px,#287c8e 0 207px,#2a788e 0 219px,#2b758e 0 229px,#2c738e 0 241px,#2d718e 0 253px,#2e6f8e 0 265px,#2e6d8e 0 275px,#2f6c8e 0 288px)"></i>
<i style="top:595px;height:12px;background:linear-gradient(90deg,#31678e 0 13px,#2e6f8e 0 25px,#2b758e 0 35px,#27808e 0 47px,#24868e 0 59px,#238a8d 0 69px,#218e8d 0 81px,#218f8d 0 93px,#21918c 0 127px,#218f8d 0 139px,#218e8d 0 149px,#238a8d 0 161px,#24868e 0 173px,#25848e 0 185px,#26828e 0 195px,#277e8e 0 207px,#297a8e 0 219px,#2a788e 0 229px,#2b758e 0 241px,#2b748e 0 253px,#2c738e 0 265px,#2d718e 0 275px,#2e6f8e 0 288px)"></i>
<i style="top:607px;height:12px;background:linear-gradient(90deg,#365d8d 0 13px,#31678e 0 25px,#2e6f8e 0 35px,#2b758e 0 47px,#287d8e 0 59px,#26818e 0 69px,#25848e 0 81px,#25858e 0 93px,#24868e 0 127px,#25858e 0 139px,#25848e 0 149px,#26828e 0 173px,#26818e 0 185px,#27808e 0 195px,#287d8e 0 207px,#297a8e 0 219px,#29798e 0 229px,#2a788e 0 241px,#2a778e 0 253px,#2b758e 0 265px,#2b748e 0 275px,#2c738e 0 288px)"></i>
<i style="top:619px;height:12px;background:linear-gradient(90deg,#3e4c8a 0 13px,#38588c 0 25px,#355f8d 0 35px,#306a8e 0 47px,#2d718e 0 59px,#2c738e 0 69px,#2b758e 0 81px,#2a778e 0 93px,#2a788e 0 105px,#29798e 0 115px,#297a8e 0 195px,#29798e 0 207px,#2a788e 0 219px,#2a778e 0 229px,#2b758e 0 265px,#2b748e 0 275px,#2c738e 0 288px)"></i>
<i style="top:631px;height:10px;background:linear-gradient(90deg,#365d8d 0 13px,#33628d 0 25px,#306a8e 0 35px,#2e6f8e 0 47px,#2c738e 0 59px,#2b748e 0 69px,#2b758e 0 81px,#2a778e 0 93px,#2a788e 0 105px,#29798e 0 115px,#297a8e 0 127px,#287c8e 0 139px,#287d8e 0 149px,#287c8e 0 161px,#297a8e 0 173px,#29798e 0 185px,#2a788e 0 195px,#2a778e 0 207px,#2b758e 0 219px,#2b748e 0 229px,#2c738e 0 241px,#2d718e 0 253px,#2e6f8e 0 265px,#2e6d8e 0 275px,#2f6c8e 0 288px)"></i>
<i style="top:641px;height:12px;background:linear-gradient(90deg,#3b528b 0 13px,#3a548c 0 25px,#365d8d 0 35px,#355f8d 0 47px,#31678e 0 59px,#306a8e 0 69px,#2f6c8e 0 81px,#2e6d8e 0 93px,#2e6f8e 0 105px,#2d708e 0 115px,#2d718e 0 127px,#2c728e 0 139px,#2c738e 0 149px,#2c728e 0 161px,#2d718e 0 173px,#2d708e 0 185px,#2e6f8e 0 195px,#2e6d8e 0 207px,#2f6c8e 0 241px,#2f6b8e 0 253px,#306a8e 0 265px,#31688e 0 275px,#31678e 0 288px)"></i>
<i style="top:653px;height:12px;background:linear-gradient(90deg,#414487 0 13px,#3e4989 0 25px,#3b528b 0 35px,#3a548c 0 47px,#375a8c 0 59px,#365d8d 0 69px,#355f8d 0 81px,#34618d 0 93px,#33628d 0 105px,#32648e 0 115px,#31678e 0 195px,#32648e 0 207px,#33628d 0 241px,#34618d 0 253px,#355f8d 0 265px,#355e8d 0 275px,#365d8d 0 288px)"></i>
<i style="top:665px;height:12px;background:linear-gradient(90deg,#424086 0 13px,#414487 0 25px,#3e4989 0 35px,#3c4f8a 0 47px,#3b528b 0 59px,#3a548c 0 69px,#38588c 0 81px,#38598c 0 93px,#375a8c 0 105px,#375b8d 0 115px,#365d8d 0 195px,#375b8d 0 207px,#375a8c 0 219px,#38598c 0 229px,#38588c 0 241px,#39558c 0 253px,#3a548c 0 265px,#3a538b 0 275px,#3b528b 0 288px)"></i>
<i style="top:677px;height:10px;background:linear-gradient(90deg,#443a83 0 25px,#414487 0 35px,#404688 0 47px,#3e4989 0 59px,#3e4c8a 0 69px,#3c4f8a 0 81px,#3c508b 0 93px,#3b528b 0 105px,#3a538b 0 115px,#3a548c 0 173px,#3a538b 0 185px,#3b528b 0 219px,#3c508b 0 229px,#3c4f8a 0 241px,#3e4c8a 0 253px,#3e4989 0 265px,#3f4889 0 275px,#404688 0 288px)"></i>
<i style="top:687px;height:12px;background:linear-gradient(90deg,#46307e 0 13px,#453781 0 25px,#443a83 0 35px,#424086 0 47px,#414487 0 59px,#404588 0 69px,#404688 0 81px,#3f4889 0 93px,#3e4989 0 105px,#3e4a89 0 115px,#3e4c8a 0 173px,#3e4a89 0 185px,#3e4989 0 195px,#3f4889 0 207px,#404688 0 219px,#404588 0 229px,#414487 0 241px,#424186 0 253px,#424086 0 265px,#433e85 0 275px,#443a83 0 288px)"></i>
<i style="top:699px;height:12px;background:linear-gradient(90deg,#472a7a 0 13px,#46307e 0 25px,#453781 0 35px,#443a83 0 47px,#424086 0 59px,#424186 0 69px,#414487 0 81px,#404588 0 93px,#404688 0 105px,#3f4889 0 115px,#3e4989 0 173px,#3f4889 0 185px,#404688 0 195px,#404588 0 207px,#414487 0 219px,#423f85 0 229px,#443a83 0 241px,#443983 0 253px,#453781 0 265px,#463480 0 275px,#46307e 0 288px)"></i>
<i style="top:711px;height:12px;background:linear-gradient(90deg,#481d6f 0 13px,#482878 0 25px,#472e7c 0 35px,#463480 0 47px,#443a83 0 59px,#433e85 0 69px,#424086 0 81px,#424186 0 93px,#414487 0 105px,#404588 0 115px,#404688 0 173px,#404588 0 185px,#414487 0 195px,#423f85 0 207px,#443a83 0 219px,#453781 0 229px,#463480 0 241px,#46307e 0 253px,#472e7c 0 265px,#472d7b 0 275px,#472a7a 0 288px)"></i>
<i style="top:723px;height:11px;background:linear-gradient(90deg,#481769 0 13px,#481d6f 0 25px,#482878 0 35px,#46307e 0 47px,#463480 0 59px,#453781 0 69px,#443a83 0 81px,#423f85 0 93px,#414487 0 173px,#424186 0 185px,#424086 0 195px,#443b84 0 207px,#453781 0 219px,#46337f 0 229px,#472e7c 0 241px,#472a7a 0 253px,#482878 0 265px,#482475 0 275px,#482173 0 288px)"></i>
</div>
<div class="p" style="left:2633px;top:199px;width:288px;height:734px">
<i style="top:0px;height:11px;background:linear-gradient(90deg,#440154 0 23px,#440256 0 35px,#450457 0 47px,#46075a 0 59px,#460a5d 0 69px,#470d60 0 81px,#471063 0 93px,#471365 0 105px,#481467 0 115px,#481668 0 127px,#481769 0 185px,#481668 0 207px,#481467 0 219px,#471365 0 241px,#471164 0 253px,#471063 0 275px,#470e61 0 288px)"></i>
<i style="top:11px;height:10px;background:linear-gradient(90deg,#440154 0 23px,#440256 0 35px,#450559 0 47px,#46085c 0 59px,#460b5e 0 69px,#470e61 0 81px,#471365 0 93px,#481467 0 105px,#481769 0 127px,#48186a 0 185px,#481769 0 195px,#481668 0 219px,#481467 0 229px,#471365 0 253px,#471164 0 265px,#471063 0 275px,#470e61 0 288px)"></i>
<i style="top:21px;height:12px;background:linear-gradient(90deg,#440154 0 23px,#450457 0 35px,#46075a 0 47px,#460a5d 0 59px,#470e61 0 69px,#471164 0 81px,#481467 0 93px,#481769 0 105px,#48186a 0 115px,#481a6c 0 139px,#481b6d 0 149px,#481a6c 0 185px,#48186a 0 195px,#481769 0 219px,#481668 0 229px,#481467 0 241px,#471365 0 253px,#471164 0 275px,#471063 0 288px)"></i>
<i style="top:33px;height:12px;background:linear-gradient(90deg,#440154 0 13px,#440256 0 23px,#450457 0 35px,#46085c 0 47px,#470d60 0 59px,#471063 0 69px,#481467 0 81px,#481769 0 93px,#481a6c 0 105px,#481b6d 0 115px,#481c6e 0 161px,#481b6d 0 185px,#481a6c 0 195px,#48186a 0 207px,#481769 0 219px,#481668 0 241px,#481467 0 253px,#471365 0 265px,#471164 0 275px,#471063 0 288px)"></i>
<i style="top:45px;height:12px;background:linear-gradient(90deg,#440154 0 13px,#440256 0 23px,#450559 0 35px,#460a5d 0 47px,#470e61 0 59px,#471365 0 69px,#481769 0 81px,#481a6c 0 93px,#481c6e 0 105px,#481d6f 0 115px,#481f70 0 149px,#481d6f 0 173px,#481c6e 0 185px,#481b6d 0 195px,#481a6c 0 207px,#48186a 0 219px,#481769 0 229px,#481668 0 241px,#481467 0 253px,#471365 0 265px,#471164 0 288px)"></i>
<i style="top:57px;height:10px;background:linear-gradient(90deg,#440256 0 13px,#450457 0 23px,#46075a 0 35px,#470d60 0 47px,#471164 0 59px,#481769 0 69px,#481b6d 0 81px,#481d6f 0 93px,#481f70 0 105px,#482071 0 115px,#482173 0 127px,#482071 0 161px,#481f70 0 173px,#481d6f 0 185px,#481c6e 0 195px,#481b6d 0 207px,#481a6c 0 219px,#48186a 0 229px,#481769 0 241px,#481668 0 253px,#481467 0 265px,#471365 0 275px,#471164 0 288px)"></i>
<i style="top:67px;height:12px;background:linear-gradient(90deg,#440256 0 13px,#450559 0 23px,#460a5d 0 35px,#471063 0 47px,#481668 0 59px,#481a6c 0 69px,#481d6f 0 81px,#482071 0 93px,#482374 0 115px,#482475 0 127px,#482374 0 149px,#482173 0 161px,#482071 0 173px,#481f70 0 185px,#481d6f 0 195px,#481c6e 0 207px,#481b6d 0 219px,#481a6c 0 229px,#481769 0 241px,#481668 0 253px,#481467 0 265px,#471365 0 275px,#471164 0 288px)"></i>
<i style="top:79px;height:12px;background:linear-gradient(90deg,#450457 0 13px,#46075a 0 23px,#470d60 0 35px,#471365 0 47px,#48186a 0 59px,#481d6f 0 69px,#482173 0 81px,#482475 0 93px,#482576 0 105px,#482677 0 127px,#482576 0 139px,#482475 0 161px,#482173 0 173px,#482071 0 185px,#481f70 0 195px,#481d6f 0 207px,#481b6d 0 219px,#481a6c 0 229px,#48186a 0 241px,#481769 0 253px,#481668 0 265px,#481467 0 275px,#471365 0 288px)"></i>
<i style="top:91px;height:12px;background:linear-gradient(90deg,#450559 0 13px,#460a5d 0 23px,#471063 0 35px,#481769 0 47px,#481d6f 0 59px,#482173 0 69px,#482576 0 81px,#482878 0 93px,#482979 0 127px,#482878 0 139px,#482677 0 149px,#482576 0 161px,#482475 0 173px,#482173 0 185px,#482071 0 195px,#481f70 0 207px,#481c6e 0 219px,#481b6d 0 229px,#481a6c 0 241px,#481769 0 253px,#481668 0 265px,#481467 0 275px,#471365 0 288px)"></i>
<i style="top:103px;height:10px;background:linear-gradient(90deg,#46075a 0 13px,#470d60 0 23px,#481467 0 35px,#481b6d 0 47px,#482173 0 59px,#482677 0 69px,#482979 0 81px,#472c7a 0 93px,#472d7b 0 115px,#472c7a 0 127px,#472a7a 0 139px,#482979 0 149px,#482878 0 161px,#482576 0 173px,#482475 0 185px,#482173 0 195px,#482071 0 207px,#481d6f 0 219px,#481c6e 0 229px,#481a6c 0 241px,#48186a 0 253px,#481769 0 265px,#481668 0 275px,#471365 0 288px)"></i>
<i style="top:113px;height:12px;background:linear-gradient(90deg,#460a5d 0 13px,#471063 0 23px,#48186a 0 35px,#482071 0 47px,#482677 0 59px,#472c7a 0 69px,#472e7c 0 81px,#472f7d 0 93px,#46307e 0 105px,#472f7d 0 115px,#472e7c 0 127px,#472d7b 0 139px,#472c7a 0 149px,#482979 0 161px,#482878 0 173px,#482576 0 185px,#482374 0 195px,#482173 0 207px,#481f70 0 219px,#481c6e 0 229px,#481b6d 0 241px,#481a6c 0 253px,#481769 0 265px,#481668 0 275px,#481467 0 288px)"></i>
<i style="top:125px;height:12px;background:linear-gradient(90deg,#470d60 0 13px,#481668 0 23px,#481d6f 0 35px,#482677 0 47px,#472d7b 0 59px,#46307e 0 69px,#46337f 0 81px,#463480 0 105px,#46337f 0 115px,#46327e 0 127px,#472f7d 0 139px,#472e7c 0 149px,#472c7a 0 161px,#482979 0 173px,#482677 0 185px,#482475 0 195px,#482173 0 207px,#482071 0 219px,#481d6f 0 229px,#481c6e 0 241px,#481a6c 0 253px,#48186a 0 265px,#481668 0 275px,#481467 0 288px)"></i>
<i style="top:137px;height:12px;background:linear-gradient(90deg,#471365 0 13px,#481b6d 0 23px,#482475 0 35px,#472d7b 0 47px,#46327e 0 59px,#453781 0 69px,#453882 0 105px,#453781 0 115px,#463480 0 127px,#46327e 0 139px,#472f7d 0 149px,#472d7b 0 161px,#472a7a 0 173px,#482878 0 185px,#482576 0 195px,#482374 0 207px,#482071 0 219px,#481f70 0 229px,#481c6e 0 241px,#481b6d 0 253px,#48186a 0 265px,#481769 0 275px,#481668 0 288px)"></i>
<i style="top:149px;height:10px;background:linear-gradient(90deg,#48186a 0 13px,#482173 0 23px,#472c7a 0 35px,#46337f 0 47px,#443983 0 59px,#443b84 0 69px,#433d84 0 93px,#443b84 0 105px,#443a83 0 115px,#453882 0 127px,#453581 0 139px,#46327e 0 149px,#472f7d 0 161px,#472d7b 0 173px,#482979 0 185px,#482677 0 195px,#482475 0 207px,#482173 0 219px,#481f70 0 229px,#481d6f 0 241px,#481b6d 0 253px,#481a6c 0 265px,#481769 0 275px,#481668 0 288px)"></i>
<i style="top:159px;height:12px;background:linear-gradient(90deg,#481f70 0 13px,#482979 0 23px,#46337f 0 35px,#443a83 0 47px,#424086 0 59px,#414287 0 81px,#424186 0 93px,#424086 0 105px,#433e85 0 115px,#443a83 0 127px,#453882 0 139px,#463480 0 149px,#46327e 0 161px,#472e7c 0 173px,#472c7a 0 185px,#482878 0 195px,#482576 0 207px,#482374 0 219px,#482071 0 229px,#481d6f 0 241px,#481c6e 0 253px,#481a6c 0 265px,#48186a 0 275px,#481668 0 288px)"></i>
<i style="top:171px;height:12px;background:linear-gradient(90deg,#482878 0 13px,#46327e 0 23px,#443b84 0 35px,#414287 0 47px,#3f4788 0 59px,#3f4889 0 81px,#404688 0 93px,#414487 0 105px,#424186 0 115px,#433e85 0 127px,#443a83 0 139px,#453781 0 149px,#46337f 0 161px,#472f7d 0 173px,#472d7b 0 185px,#482979 0 195px,#482677 0 207px,#482475 0 219px,#482173 0 229px,#481f70 0 241px,#481c6e 0 253px,#481a6c 0 265px,#48186a 0 275px,#481769 0 288px)"></i>
<i style="top:183px;height:12px;background:linear-gradient(90deg,#46327e 0 13px,#443b84 0 23px,#404588 0 35px,#3e4c8a 0 47px,#3d4e8a 0 59px,#3c4f8a 0 69px,#3d4d8a 0 81px,#3e4a89 0 93px,#3f4889 0 105px,#414487 0 115px,#424086 0 127px,#433d84 0 139px,#443983 0 149px,#453581 0 161px,#46327e 0 173px,#472e7c 0 185px,#472a7a 0 195px,#482878 0 207px,#482475 0 219px,#482173 0 229px,#481f70 0 241px,#481d6f 0 253px,#481b6d 0 265px,#48186a 0 275px,#481769 0 288px)"></i>
<i style="top:195px;height:10px;background:linear-gradient(90deg,#433d84 0 13px,#3f4788 0 23px,#3c4f8a 0 35px,#3a548c 0 47px,#39558c 0 69px,#3b528b 0 81px,#3c4f8a 0 93px,#3e4c8a 0 105px,#3f4788 0 115px,#414487 0 127px,#423f85 0 139px,#443a83 0 149px,#453781 0 161px,#46337f 0 173px,#472f7d 0 185px,#472c7a 0 195px,#482979 0 207px,#482576 0 219px,#482374 0 229px,#482071 0 241px,#481d6f 0 253px,#481b6d 0 265px,#481a6c 0 275px,#481769 0 288px)"></i>
<i style="top:205px;height:12px;background:linear-gradient(90deg,#3e4989 0 13px,#3b528b 0 23px,#375a8c 0 35px,#365d8d 0 59px,#365c8d 0 69px,#38588c 0 81px,#3a548c 0 93px,#3c4f8a 0 105px,#3e4a89 0 115px,#404688 0 127px,#424186 0 139px,#433d84 0 149px,#443983 0 161px,#463480 0 173px,#46307e 0 185px,#472d7b 0 195px,#482979 0 207px,#482677 0 219px,#482475 0 229px,#482071 0 241px,#481d6f 0 253px,#481c6e 0 265px,#481a6c 0 275px,#481769 0 288px)"></i>
<i style="top:217px;height:12px;background:linear-gradient(90deg,#38588c 0 13px,#355f8d 0 23px,#32658e 0 35px,#31668e 0 47px,#32658e 0 59px,#33628d 0 69px,#365d8d 0 81px,#38598c 0 93px,#3a538b 0 105px,#3d4e8a 0 115px,#3f4889 0 127px,#414487 0 139px,#423f85 0 149px,#443a83 0 161px,#453581 0 173px,#46327e 0 185px,#472e7c 0 195px,#472a7a 0 207px,#482677 0 219px,#482475 0 229px,#482173 0 241px,#481f70 0 253px,#481c6e 0 265px,#481a6c 0 275px,#48186a 0 288px)"></i>
<i style="top:229px;height:10px;background:linear-gradient(90deg,#31668e 0 13px,#2f6c8e 0 23px,#2d708e 0 35px,#2e6f8e 0 47px,#2f6c8e 0 59px,#31688e 0 69px,#33628d 0 81px,#365d8d 0 93px,#39568c 0 105px,#3b518b 0 115px,#3e4c8a 0 127px,#404688 0 139px,#424086 0 149px,#443b84 0 161px,#453781 0 173px,#46337f 0 185px,#472f7d 0 195px,#472c7a 0 207px,#482878 0 219px,#482576 0 229px,#482173 0 241px,#481f70 0 253px,#481c6e 0 265px,#481b6d 0 275px,#48186a 0 288px)"></i>
<i style="top:239px;height:12px;background:linear-gradient(90deg,#2b758e 0 13px,#29798e 0 23px,#297a8e 0 35px,#2a788e 0 47px,#2c738e 0 59px,#2e6e8e 0 69px,#31678e 0 81px,#34618d 0 93px,#375a8c 0 105px,#3a538b 0 115px,#3d4e8a 0 127px,#3f4889 0 139px,#414287 0 149px,#433e85 0 161px,#443983 0 173px,#463480 0 185px,#46307e 0 195px,#472c7a 0 207px,#482979 0 219px,#482576 0 229px,#482374 0 241px,#482071 0 253px,#481d6f 0 265px,#481b6d 0 275px,#48186a 0 288px)"></i>
<i style="top:251px;height:12px;background:linear-gradient(90deg,#25858e 0 13px,#24878e 0 23px,#25858e 0 35px,#26818e 0 47px,#297a8e 0 59px,#2c728e 0 69px,#2f6c8e 0 81px,#32648e 0 93px,#365d8d 0 105px,#39568c 0 115px,#3c508b 0 127px,#3e4989 0 139px,#414487 0 149px,#423f85 0 161px,#443a83 0 173px,#453581 0 185px,#46307e 0 195px,#472d7b 0 207px,#482979 0 219px,#482576 0 229px,#482374 0 241px,#482071 0 253px,#481d6f 0 265px,#481b6d 0 275px,#48186a 0 288px)"></i>
<i style="top:263px;height:12px;background:linear-gradient(90deg,#1f978b 0 13px,#1f968b 0 23px,#21918c 0 35px,#23898e 0 47px,#26818e 0 59px,#2a788e 0 69px,#2d708e 0 81px,#31688e 0 93px,#34608d 0 105px,#38598c 0 115px,#3b528b 0 127px,#3e4c8a 0 139px,#404688 0 149px,#424086 0 161px,#443a83 0 173px,#453781 0 185px,#46327e 0 195px,#472e7c 0 207px,#472a7a 0 219px,#482677 0 229px,#482374 0 241px,#482071 0 253px,#481d6f 0 265px,#481b6d 0 275px,#481a6c 0 288px)"></i>
<i style="top:275px;height:10px;background:linear-gradient(90deg,#23a983 0 13px,#20a486 0 23px,#1e9c89 0 35px,#20928c 0 47px,#24878e 0 59px,#287d8e 0 69px,#2c738e 0 81px,#2f6b8e 0 93px,#33638d 0 105px,#375b8d 0 115px,#3a548c 0 127px,#3d4d8a 0 139px,#3f4788 0 149px,#424186 0 161px,#443b84 0 173px,#453781 0 185px,#46327e 0 195px,#472e7c 0 207px,#472a7a 0 219px,#482677 0 229px,#482475 0 241px,#482071 0 253px,#481d6f 0 265px,#481b6d 0 275px,#481a6c 0 288px)"></i>
<i style="top:285px;height:12px;background:linear-gradient(90deg,#3aba76 0 13px,#2db27d 0 23px,#21a685 0 35px,#1f9a8a 0 47px,#228d8d 0 59px,#26828e 0 69px,#2a778e 0 81px,#2e6e8e 0 93px,#32658e 0 105px,#365d8d 0 115px,#39558c 0 127px,#3c4f8a 0 139px,#3f4889 0 149px,#414287 0 161px,#433d84 0 173px,#453882 0 185px,#46337f 0 195px,#472f7d 0 207px,#472a7a 0 219px,#482878 0 229px,#482475 0 241px,#482173 0 253px,#481f70 0 265px,#481c6e 0 275px,#481a6c 0 288px)"></i>
<i style="top:297px;height:12px;background:linear-gradient(90deg,#5cc863 0 13px,#44bf70 0 23px,#2ab07f 0 35px,#1fa188 0 47px,#20928c 0 59px,#24868e 0 69px,#297b8e 0 81px,#2d718e 0 93px,#31678e 0 105px,#355f8d 0 115px,#38588c 0 127px,#3c508b 0 139px,#3e4989 0 149px,#414487 0 161px,#433e85 0 173px,#453882 0 185px,#463480 0 195px,#472f7d 0 207px,#472c7a 0 219px,#482878 0 229px,#482475 0 241px,#482173 0 253px,#481f70 0 265px,#481c6e 0 275px,#481a6c 0 288px)"></i>
<i style="top:309px;height:12px;background:linear-gradient(90deg,#86d549 0 13px,#5ec962 0 23px,#37b878 0 35px,#22a785 0 47px,#1f978b 0 59px,#23898e 0 69px,#287d8e 0 81px,#2c728e 0 93px,#30698e 0 105px,#34608d 0 115px,#38598c 0 127px,#3b518b 0 139px,#3e4a89 0 149px,#414487 0 161px,#433e85 0 173px,#443983 0 185px,#463480 0 195px,#472f7d 0 207px,#472c7a 0 219px,#482878 0 229px,#482576 0 241px,#482173 0 253px,#481f70 0 265px,#481c6e 0 275px,#481a6c 0 288px)"></i>
<i style="top:321px;height:10px;background:linear-gradient(90deg,#b0dd2f 0 13px,#77d153 0 23px,#44bf70 0 35px,#26ad81 0 47px,#1e9c89 0 59px,#228d8d 0 69px,#27808e 0 81px,#2b748e 0 93px,#2f6b8e 0 105px,#33628d 0 115px,#375a8c 0 127px,#3b528b 0 139px,#3e4a89 0 149px,#404588 0 161px,#423f85 0 173px,#443983 0 185px,#463480 0 195px,#46307e 0 207px,#472c7a 0 219px,#482878 0 229px,#482576 0 241px,#482173 0 253px,#481f70 0 265px,#481c6e 0 275px,#481a6c 0 288px)"></i>
<i style="top:331px;height:12px;background:linear-gradient(90deg,#d2e21b 0 13px,#90d743 0 23px,#52c569 0 35px,#2cb17e 0 47px,#1f9f88 0 59px,#218f8d 0 69px,#26828e 0 81px,#2a768e 0 93px,#2f6c8e 0 105px,#33638d 0 115px,#375b8d 0 127px,#3b528b 0 139px,#3e4c8a 0 149px,#404588 0 161px,#423f85 0 173px,#443a83 0 185px,#453581 0 195px,#46307e 0 207px,#472d7b 0 219px,#482979 0 229px,#482576 0 241px,#482173 0 253px,#481f70 0 265px,#481c6e 0 275px,#481a6c 0 288px)"></i>
<i style="top:343px;height:12px;background:linear-gradient(90deg,#eae51a 0 13px,#a2da37 0 23px,#5cc863 0 35px,#2fb47c 0 47px,#1fa187 0 59px,#21918c 0 69px,#26828e 0 81px,#2a778e 0 93px,#2e6d8e 0 105px,#33638d 0 115px,#375b8d 0 127px,#3a538b 0 139px,#3e4c8a 0 149px,#404688 0 161px,#423f85 0 173px,#443a83 0 185px,#453581 0 195px,#46307e 0 207px,#472d7b 0 219px,#482979 0 229px,#482576 0 241px,#482173 0 253px,#481f70 0 265px,#481c6e 0 275px,#481a6c 0 288px)"></i>
<i style="top:355px;height:12px;background:linear-gradient(90deg,#f8e621 0 13px,#addc30 0 23px,#63cb5f 0 35px,#32b67a 0 47px,#1fa287 0 59px,#20928c 0 69px,#25838e 0 81px,#2a778e 0 93px,#2e6d8e 0 105px,#32648e 0 115px,#375b8d 0 127px,#3a538b 0 139px,#3d4d8a 0 149px,#404688 0 161px,#424086 0 173px,#443a83 0 185px,#453581 0 195px,#46307e 0 207px,#472d7b 0 219px,#482979 0 229px,#482576 0 241px,#482374 0 253px,#481f70 0 265px,#481c6e 0 275px,#481a6c 0 288px)"></i>
<i style="top:367px;height:10px;background:linear-gradient(90deg,#fde725 0 13px,#b2dd2d 0 23px,#65cb5e 0 35px,#34b679 0 47px,#20a386 0 59px,#20928c 0 69px,#25848e 0 81px,#2a788e 0 93px,#2e6e8e 0 105px,#32648e 0 115px,#365c8d 0 127px,#3a538b 0 139px,#3d4d8a 0 149px,#404688 0 161px,#424086 0 173px,#443a83 0 185px,#453581 0 195px,#46307e 0 207px,#472d7b 0 219px,#482979 0 229px,#482576 0 241px,#482374 0 253px,#481f70 0 265px,#481c6e 0 275px,#481a6c 0 288px)"></i>
<i style="top:377px;height:12px;background:linear-gradient(90deg,#f8e621 0 13px,#addc30 0 23px,#63cb5f 0 35px,#32b67a 0 47px,#1fa287 0 59px,#20928c 0 69px,#25838e 0 81px,#2a778e 0 93px,#2e6d8e 0 105px,#32648e 0 115px,#375b8d 0 127px,#3a538b 0 139px,#3d4d8a 0 149px,#404688 0 161px,#424086 0 173px,#443a83 0 185px,#453581 0 195px,#46307e 0 207px,#472d7b 0 219px,#482979 0 229px,#482576 0 241px,#482374 0 253px,#481f70 0 265px,#481c6e 0 275px,#481a6c 0 288px)"></i>
<i style="top:389px;height:12px;background:linear-gradient(90deg,#eae51a 0 13px,#a2da37 0 23px,#5cc863 0 35px,#2fb47c 0 47px,#1fa187 0 59px,#21918c 0 69px,#26828e 0 81px,#2a778e 0 93px,#2e6d8e 0 105px,#33638d 0 115px,#375b8d 0 127px,#3a538b 0 139px,#3e4c8a 0 149px,#404688 0 161px,#423f85 0 173px,#443a83 0 185px,#453581 0 195px,#46307e 0 207px,#472d7b 0 219px,#482979 0 229px,#482576 0 241px,#482173 0 253px,#481f70 0 265px,#481c6e 0 275px,#481a6c 0 288px)"></i>
<i style="top:401px;height:12px;background:linear-gradient(90deg,#d2e21b 0 13px,#90d743 0 23px,#52c569 0 35px,#2cb17e 0 47px,#1f9f88 0 59px,#218f8d 0 69px,#26828e 0 81px,#2a768e 0 93px,#2f6c8e 0 105px,#33638d 0 115px,#375b8d 0 127px,#3b528b 0 139px,#3e4c8a 0 149px,#404588 0 161px,#423f85 0 173px,#443a83 0 185px,#453581 0 195px,#46307e 0 207px,#472d7b 0 219px,#482979 0 229px,#482576 0 241px,#482173 0 253px,#481f70 0 265px,#481c6e 0 275px,#481a6c 0 288px)"></i>
<i style="top:413px;height:10px;background:linear-gradient(90deg,#b0dd2f 0 13px,#77d153 0 23px,#44bf70 0 35px,#26ad81 0 47px,#1e9c89 0 59px,#228d8d 0 69px,#27808e 0 81px,#2b748e 0 93px,#2f6b8e 0 105px,#33628d 0 115px,#375a8c 0 127px,#3b528b 0 139px,#3e4a89 0 149px,#404588 0 161px,#423f85 0 173px,#443983 0 185px,#463480 0 195px,#46307e 0 207px,#472c7a 0 219px,#482878 0 229px,#482576 0 241px,#482173 0 253px,#481f70 0 265px,#481c6e 0 275px,#481a6c 0 288px)"></i>
<i style="top:423px;height:12px;background:linear-gradient(90deg,#86d549 0 13px,#5ec962 0 23px,#37b878 0 35px,#22a785 0 47px,#1f978b 0 59px,#23898e 0 69px,#287d8e 0 81px,#2c728e 0 93px,#30698e 0 105px,#34608d 0 115px,#38598c 0 127px,#3b518b 0 139px,#3e4a89 0 149px,#414487 0 161px,#433e85 0 173px,#443983 0 185px,#463480 0 195px,#472f7d 0 207px,#472c7a 0 219px,#482878 0 229px,#482576 0 241px,#482173 0 253px,#481f70 0 265px,#481c6e 0 275px,#481a6c 0 288px)"></i>
<i style="top:435px;height:12px;background:linear-gradient(90deg,#5cc863 0 13px,#44bf70 0 23px,#2ab07f 0 35px,#1fa188 0 47px,#20928c 0 59px,#24868e 0 69px,#297b8e 0 81px,#2d718e 0 93px,#31678e 0 105px,#355f8d 0 115px,#38588c 0 127px,#3c508b 0 139px,#3e4989 0 149px,#414487 0 161px,#433e85 0 173px,#453882 0 185px,#463480 0 195px,#472f7d 0 207px,#472c7a 0 219px,#482878 0 229px,#482475 0 241px,#482173 0 253px,#481f70 0 265px,#481c6e 0 275px,#481a6c 0 288px)"></i>
<i style="top:447px;height:12px;background:linear-gradient(90deg,#3aba76 0 13px,#2db27d 0 23px,#21a685 0 35px,#1f9a8a 0 47px,#228d8d 0 59px,#26828e 0 69px,#2a778e 0 81px,#2e6e8e 0 93px,#32658e 0 105px,#365d8d 0 115px,#39558c 0 127px,#3c4f8a 0 139px,#3f4889 0 149px,#414287 0 161px,#433d84 0 173px,#453882 0 185px,#46337f 0 195px,#472f7d 0 207px,#472a7a 0 219px,#482878 0 229px,#482475 0 241px,#482173 0 253px,#481f70 0 265px,#481c6e 0 275px,#481a6c 0 288px)"></i>
<i style="top:459px;height:10px;background:linear-gradient(90deg,#23a983 0 13px,#20a486 0 23px,#1e9c89 0 35px,#20928c 0 47px,#24878e 0 59px,#287d8e 0 69px,#2c738e 0 81px,#2f6b8e 0 93px,#33638d 0 105px,#375b8d 0 115px,#3a548c 0 127px,#3d4d8a 0 139px,#3f4788 0 149px,#424186 0 161px,#443b84 0 173px,#453781 0 185px,#46327e 0 195px,#472e7c 0 207px,#472a7a 0 219px,#482677 0 229px,#482475 0 241px,#482071 0 253px,#481d6f 0 265px,#481b6d 0 275px,#481a6c 0 288px)"></i>
<i style="top:469px;height:12px;background:linear-gradient(90deg,#1f978b 0 13px,#1f968b 0 23px,#21918c 0 35px,#23898e 0 47px,#26818e 0 59px,#2a788e 0 69px,#2d708e 0 81px,#31688e 0 93px,#34608d 0 105px,#38598c 0 115px,#3b528b 0 127px,#3e4c8a 0 139px,#404688 0 149px,#424086 0 161px,#443a83 0 173px,#453781 0 185px,#46327e 0 195px,#472e7c 0 207px,#472a7a 0 219px,#482677 0 229px,#482374 0 241px,#482071 0 253px,#481d6f 0 265px,#481b6d 0 275px,#481a6c 0 288px)"></i>
<i style="top:481px;height:12px;background:linear-gradient(90deg,#25858e 0 13px,#24878e 0 23px,#25858e 0 35px,#26818e 0 47px,#297a8e 0 59px,#2c728e 0 69px,#2f6c8e 0 81px,#32648e 0 93px,#365d8d 0 105px,#39568c 0 115px,#3c508b 0 127px,#3e4989 0 139px,#414487 0 149px,#423f85 0 161px,#443a83 0 173px,#453581 0 185px,#46307e 0 195px,#472d7b 0 207px,#482979 0 219px,#482576 0 229px,#482374 0 241px,#482071 0 253px,#481d6f 0 265px,#481b6d 0 275px,#48186a 0 288px)"></i>
<i style="top:493px;height:10px;background:linear-gradient(90deg,#2b758e 0 13px,#29798e 0 23px,#297a8e 0 35px,#2a788e 0 47px,#2c738e 0 59px,#2e6e8e 0 69px,#31678e 0 81px,#34618d 0 93px,#375a8c 0 105px,#3a538b 0 115px,#3d4e8a 0 127px,#3f4889 0 139px,#414287 0 149px,#433e85 0 161px,#443983 0 173px,#463480 0 185px,#46307e 0 195px,#472c7a 0 207px,#482979 0 219px,#482576 0 229px,#482374 0 241px,#482071 0 253px,#481d6f 0 265px,#481b6d 0 275px,#48186a 0 288px)"></i>
<i style="top:503px;height:12px;background:linear-gradient(90deg,#31668e 0 13px,#2f6c8e 0 23px,#2d708e 0 35px,#2e6f8e 0 47px,#2f6c8e 0 59px,#31688e 0 69px,#33628d 0 81px,#365d8d 0 93px,#39568c 0 105px,#3b518b 0 115px,#3e4c8a 0 127px,#404688 0 139px,#424086 0 149px,#443b84 0 161px,#453781 0 173px,#46337f 0 185px,#472f7d 0 195px,#472c7a 0 207px,#482878 0 219px,#482576 0 229px,#482173 0 241px,#481f70 0 253px,#481c6e 0 265px,#481b6d 0 275px,#48186a 0 288px)"></i>
<i style="top:515px;height:12px;background:linear-gradient(90deg,#38588c 0 13px,#355f8d 0 23px,#32658e 0 35px,#31668e 0 47px,#32658e 0 59px,#33628d 0 69px,#365d8d 0 81px,#38598c 0 93px,#3a538b 0 105px,#3d4e8a 0 115px,#3f4889 0 127px,#414487 0 139px,#423f85 0 149px,#443a83 0 161px,#453581 0 173px,#46327e 0 185px,#472e7c 0 195px,#472a7a 0 207px,#482677 0 219px,#482475 0 229px,#482173 0 241px,#481f70 0 253px,#481c6e 0 265px,#481a6c 0 275px,#48186a 0 288px)"></i>
<i style="top:527px;height:12px;background:linear-gradient(90deg,#3e4989 0 13px,#3b528b 0 23px,#375a8c 0 35px,#365d8d 0 59px,#365c8d 0 69px,#38588c 0 81px,#3a548c 0 93px,#3c4f8a 0 105px,#3e4a89 0 115px,#404688 0 127px,#424186 0 139px,#433d84 0 149px,#443983 0 161px,#463480 0 173px,#46307e 0 185px,#472d7b 0 195px,#482979 0 207px,#482677 0 219px,#482475 0 229px,#482071 0 241px,#481d6f 0 253px,#481c6e 0 265px,#481a6c 0 275px,#481769 0 288px)"></i>
<i style="top:539px;height:10px;background:linear-gradient(90deg,#433d84 0 13px,#3f4788 0 23px,#3c4f8a 0 35px,#3a548c 0 47px,#39558c 0 69px,#3b528b 0 81px,#3c4f8a 0 93px,#3e4c8a 0 105px,#3f4788 0 115px,#414487 0 127px,#423f85 0 139px,#443a83 0 149px,#453781 0 161px,#46337f 0 173px,#472f7d 0 185px,#472c7a 0 195px,#482979 0 207px,#482576 0 219px,#482374 0 229px,#482071 0 241px,#481d6f 0 253px,#481b6d 0 265px,#481a6c 0 275px,#481769 0 288px)"></i>
<i style="top:549px;height:12px;background:linear-gradient(90deg,#46327e 0 13px,#443b84 0 23px,#404588 0 35px,#3e4c8a 0 47px,#3d4e8a 0 59px,#3c4f8a 0 69px,#3d4d8a 0 81px,#3e4a89 0 93px,#3f4889 0 105px,#414487 0 115px,#424086 0 127px,#433d84 0 139px,#443983 0 149px,#453581 0 161px,#46327e 0 173px,#472e7c 0 185px,#472a7a 0 195px,#482878 0 207px,#482475 0 219px,#482173 0 229px,#481f70 0 241px,#481d6f 0 253px,#481b6d 0 265px,#48186a 0 275px,#481769 0 288px)"></i>
<i style="top:561px;height:12px;background:linear-gradient(90deg,#482878 0 13px,#46327e 0 23px,#443b84 0 35px,#414287 0 47px,#3f4788 0 59px,#3f4889 0 81px,#404688 0 93px,#414487 0 105px,#424186 0 115px,#433e85 0 127px,#443a83 0 139px,#453781 0 149px,#46337f 0 161px,#472f7d 0 173px,#472d7b 0 185px,#482979 0 195px,#482677 0 207px,#482475 0 219px,#482173 0 229px,#481f70 0 241px,#481c6e 0 253px,#481a6c 0 265px,#48186a 0 275px,#481769 0 288px)"></i>
<i style="top:573px;height:12px;background:linear-gradient(90deg,#481f70 0 13px,#482979 0 23px,#46337f 0 35px,#443a83 0 47px,#424086 0 59px,#414287 0 81px,#424186 0 93px,#424086 0 105px,#433e85 0 115px,#443a83 0 127px,#453882 0 139px,#463480 0 149px,#46327e 0 161px,#472e7c 0 173px,#472c7a 0 185px,#482878 0 195px,#482576 0 207px,#482374 0 219px,#482071 0 229px,#481d6f 0 241px,#481c6e 0 253px,#481a6c 0 265px,#48186a 0 275px,#481668 0 288px)"></i>
<i style="top:585px;height:10px;background:linear-gradient(90deg,#48186a 0 13px,#482173 0 23px,#472c7a 0 35px,#46337f 0 47px,#443983 0 59px,#443b84 0 69px,#433d84 0 93px,#443b84 0 105px,#443a83 0 115px,#453882 0 127px,#453581 0 139px,#46327e 0 149px,#472f7d 0 161px,#472d7b 0 173px,#482979 0 185px,#482677 0 195px,#482475 0 207px,#482173 0 219px,#481f70 0 229px,#481d6f 0 241px,#481b6d 0 253px,#481a6c 0 265px,#481769 0 275px,#481668 0 288px)"></i>
<i style="top:595px;height:12px;background:linear-gradient(90deg,#471365 0 13px,#481b6d 0 23px,#482475 0 35px,#472d7b 0 47px,#46327e 0 59px,#453781 0 69px,#453882 0 105px,#453781 0 115px,#463480 0 127px,#46327e 0 139px,#472f7d 0 149px,#472d7b 0 161px,#472a7a 0 173px,#482878 0 185px,#482576 0 195px,#482374 0 207px,#482071 0 219px,#481f70 0 229px,#481c6e 0 241px,#481b6d 0 253px,#48186a 0 265px,#481769 0 275px,#481668 0 288px)"></i>
<i style="top:607px;height:12px;background:linear-gradient(90deg,#470d60 0 13px,#481668 0 23px,#481d6f 0 35px,#482677 0 47px,#472d7b 0 59px,#46307e 0 69px,#46337f 0 81px,#463480 0 105px,#46337f 0 115px,#46327e 0 127px,#472f7d 0 139px,#472e7c 0 149px,#472c7a 0 161px,#482979 0 173px,#482677 0 185px,#482475 0 195px,#482173 0 207px,#482071 0 219px,#481d6f 0 229px,#481c6e 0 241px,#481a6c 0 253px,#48186a 0 265px,#481668 0 275px,#481467 0 288px)"></i>
<i style="top:619px;height:12px;background:linear-gradient(90deg,#460a5d 0 13px,#471063 0 23px,#48186a 0 35px,#482071 0 47px,#482677 0 59px,#472c7a 0 69px,#472e7c 0 81px,#472f7d 0 93px,#46307e 0 105px,#472f7d 0 115px,#472e7c 0 127px,#472d7b 0 139px,#472c7a 0 149px,#482979 0 161px,#482878 0 173px,#482576 0 185px,#482374 0 195px,#482173 0 207px,#481f70 0 219px,#481c6e 0 229px,#481b6d 0 241px,#481a6c 0 253px,#481769 0 265px,#481668 0 275px,#481467 0 288px)"></i>
<i style="top:631px;height:10px;background:linear-gradient(90deg,#46075a 0 13px,#470d60 0 23px,#481467 0 35px,#481b6d 0 47px,#482173 0 59px,#482677 0 69px,#482979 0 81px,#472c7a 0 93px,#472d7b 0 115px,#472c7a 0 127px,#472a7a 0 139px,#482979 0 149px,#482878 0 161px,#482576 0 173px,#482475 0 185px,#482173 0 195px,#482071 0 207px,#481d6f 0 219px,#481c6e 0 229px,#481a6c 0 241px,#48186a 0 253px,#481769 0 265px,#481668 0 275px,#471365 0 288px)"></i>
<i style="top:641px;height:12px;background:linear-gradient(90deg,#450559 0 13px,#460a5d 0 23px,#471063 0 35px,#481769 0 47px,#481d6f 0 59px,#482173 0 69px,#482576 0 81px,#482878 0 93px,#482979 0 127px,#482878 0 139px,#482677 0 149px,#482576 0 161px,#482475 0 173px,#482173 0 185px,#482071 0 195px,#481f70 0 207px,#481c6e 0 219px,#481b6d 0 229px,#481a6c 0 241px,#481769 0 253px,#481668 0 265px,#481467 0 275px,#471365 0 288px)"></i>
<i style="top:653px;height:12px;background:linear-gradient(90deg,#450457 0 13px,#46075a 0 23px,#470d60 0 35px,#471365 0 47px,#48186a 0 59px,#481d6f 0 69px,#482173 0 81px,#482475 0 93px,#482576 0 105px,#482677 0 127px,#482576 0 139px,#482475 0 161px,#482173 0 173px,#482071 0 185px,#481f70 0 195px,#481d6f 0 207px,#481b6d 0 219px,#481a6c 0 229px,#48186a 0 241px,#481769 0 253px,#481668 0 265px,#481467 0 275px,#471365 0 288px)"></i>
<i style="top:665px;height:12px;background:linear-gradient(90deg,#440256 0 13px,#450559 0 23px,#460a5d 0 35px,#471063 0 47px,#481668 0 59px,#481a6c 0 69px,#481d6f 0 81px,#482071 0 93px,#482374 0 115px,#482475 0 127px,#482374 0 149px,#482173 0 161px,#482071 0 173px,#481f70 0 185px,#481d6f 0 195px,#481c6e 0 207px,#481b6d 0 219px,#481a6c 0 229px,#481769 0 241px,#481668 0 253px,#481467 0 265px,#471365 0 275px,#471164 0 288px)"></i>
<i style="top:677px;height:10px;background:linear-gradient(90deg,#440256 0 13px,#450457 0 23px,#46075a 0 35px,#470d60 0 47px,#471164 0 59px,#481769 0 69px,#481b6d 0 81px,#481d6f 0 93px,#481f70 0 105px,#482071 0 115px,#482173 0 127px,#482071 0 161px,#481f70 0 173px,#481d6f 0 185px,#481c6e 0 195px,#481b6d 0 207px,#481a6c 0 219px,#48186a 0 229px,#481769 0 241px,#481668 0 253px,#481467 0 265px,#471365 0 275px,#471164 0 288px)"></i>
<i style="top:687px;height:12px;background:linear-gradient(90deg,#440154 0 13px,#440256 0 23px,#450559 0 35px,#460a5d 0 47px,#470e61 0 59px,#471365 0 69px,#481769 0 81px,#481a6c 0 93px,#481c6e 0 105px,#481d6f 0 115px,#481f70 0 149px,#481d6f 0 173px,#481c6e 0 185px,#481b6d 0 195px,#481a6c 0 207px,#48186a 0 219px,#481769 0 229px,#481668 0 241px,#481467 0 253px,#471365 0 265px,#471164 0 288px)"></i>
<i style="top:699px;height:12px;background:linear-gradient(90deg,#440154 0 13px,#440256 0 23px,#450457 0 35px,#46085c 0 47px,#470d60 0 59px,#471063 0 69px,#481467 0 81px,#481769 0 93px,#481a6c 0 105px,#481b6d 0 115px,#481c6e 0 161px,#481b6d 0 185px,#481a6c 0 195px,#48186a 0 207px,#481769 0 219px,#481668 0 241px,#481467 0 253px,#471365 0 265px,#471164 0 275px,#471063 0 288px)"></i>
<i style="top:711px;height:12px;background:linear-gradient(90deg,#440154 0 23px,#450457 0 35px,#46075a 0 47px,#460a5d 0 59px,#470e61 0 69px,#471164 0 81px,#481467 0 93px,#481769 0 105px,#48186a 0 115px,#481a6c 0 139px,#481b6d 0 149px,#481a6c 0 185px,#48186a 0 195px,#481769 0 219px,#481668 0 229px,#481467 0 241px,#471365 0 253px,#471164 0 275px,#471063 0 288px)"></i>
<i style="top:723px;height:11px;background:linear-gradient(90deg,#440154 0 23px,#440256 0 35px,#450559 0 47px,#46085c 0 59px,#460b5e 0 69px,#470e61 0 81px,#471365 0 93px,#481467 0 105px,#481769 0 127px,#48186a 0 185px,#481769 0 195px,#481668 0 219px,#481467 0 229px,#471365 0 253px,#471164 0 265px,#471063 0 275px,#470e61 0 288px)"></i>
</div>
<div class="b" style="left:137.9px;top:198.9px;width:288.2px;height:735.0px"></div>
<div class="b" style="left:553.8px;top:198.9px;width:288.2px;height:735.0px"></div>
<div class="b" style="left:969.6px;top:198.9px;width:288.2px;height:735.0px"></div>
<div class="b" style="left:1385.5px;top:198.9px;width:288.2px;height:735.0px"></div>
<div class="b" style="left:1801.3px;top:198.9px;width:288.2px;height:735.0px"></div>
<div class="b" style="left:2217.2px;top:198.9px;width:288.2px;height:735.0px"></div>
<div class="b" style="left:2633.0px;top:198.9px;width:288.2px;height:735.0px"></div>
<svg width="3000" height="1000" viewBox="0 0 3000 1000">
<text x="1500" y="62.4" text-anchor="middle" font-size="55.56">Evolution of the reconstruction of the solution with optimization steps.</text>
<text x="282.0" y="183.4" text-anchor="middle" font-size="41.67">Ground truth</text>
<text x="697.9" y="183.4" text-anchor="middle" font-size="41.67">Initialization</text>
<text x="697.9" y="981.8" text-anchor="middle" font-size="50">t</text>
<text x="1113.7" y="183.4" text-anchor="middle" font-size="41.67">Step 1</text>
<text x="1113.7" y="981.8" text-anchor="middle" font-size="50">t</text>
<text x="1529.6" y="183.4" text-anchor="middle" font-size="41.67">Step 2</text>
<text x="1529.6" y="981.8" text-anchor="middle" font-size="50">t</text>
<text x="1945.4" y="183.4" text-anchor="middle" font-size="41.67">Step 3</text>
<text x="1945.4" y="981.8" text-anchor="middle" font-size="50">t</text>
<text x="2361.2" y="183.4" text-anchor="middle" font-size="41.67">Step 4</text>
<text x="2361.2" y="981.8" text-anchor="middle" font-size="50">t</text>
<text x="2777.1" y="183.4" text-anchor="middle" font-size="41.67">Step 5: Output</text>
<text x="2777.1" y="981.8" text-anchor="middle" font-size="50">t</text>
<text transform="translate(116.9 566.4) rotate(-90)" text-anchor="middle" font-size="50">x</text>
</svg>
</body></html>
